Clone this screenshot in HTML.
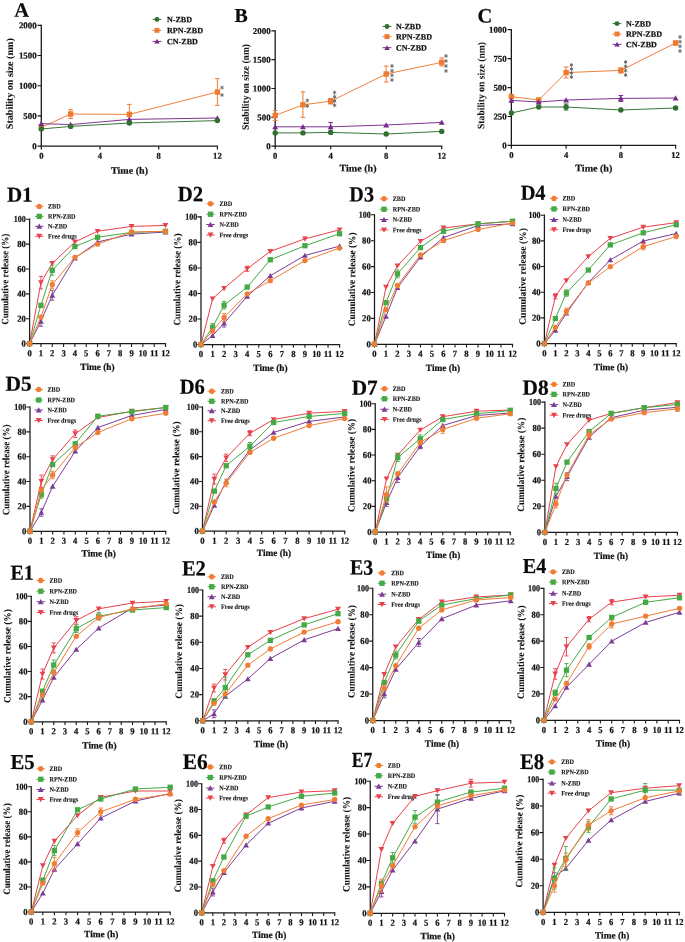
<!DOCTYPE html>
<html><head><meta charset="utf-8"><style>
html,body{margin:0;padding:0;background:#fff;}
body{width:685px;height:942px;overflow:hidden;}
svg{display:block;filter:blur(0.3px);}
text{font-family:"Liberation Serif", serif;font-weight:bold;stroke:#111;stroke-width:0.22px;}
</style></head><body>
<svg width="685" height="942" viewBox="0 0 685 942">
<rect width="685" height="942" fill="#fff"/>
<text transform="translate(14.30,16.80) matrix(1,0.002,0,1,0,0)" font-size="20.46" text-anchor="start" fill="#0a0a0a">A</text>
<path d="M41.30,24.70V146.20H218.00" stroke="#1a1a1a" stroke-width="1.3" fill="none"/>
<text transform="translate(36.70,149.30) matrix(1,0.002,0,1,0,0)" font-size="8.9" text-anchor="end" fill="#111" textLength="4.45" lengthAdjust="spacingAndGlyphs">0</text>
<text transform="translate(36.70,119.07) matrix(1,0.002,0,1,0,0)" font-size="8.9" text-anchor="end" fill="#111" textLength="13.35" lengthAdjust="spacingAndGlyphs">500</text>
<text transform="translate(36.70,88.85) matrix(1,0.002,0,1,0,0)" font-size="8.9" text-anchor="end" fill="#111" textLength="17.80" lengthAdjust="spacingAndGlyphs">1000</text>
<text transform="translate(36.70,58.62) matrix(1,0.002,0,1,0,0)" font-size="8.9" text-anchor="end" fill="#111" textLength="17.80" lengthAdjust="spacingAndGlyphs">1500</text>
<text transform="translate(36.70,28.40) matrix(1,0.002,0,1,0,0)" font-size="8.9" text-anchor="end" fill="#111" textLength="17.80" lengthAdjust="spacingAndGlyphs">2000</text>
<text transform="translate(41.30,158.80) matrix(1,0.002,0,1,0,0)" font-size="8.9" text-anchor="middle" fill="#111" textLength="4.30" lengthAdjust="spacingAndGlyphs">0</text>
<text transform="translate(100.00,158.80) matrix(1,0.002,0,1,0,0)" font-size="8.9" text-anchor="middle" fill="#111" textLength="4.30" lengthAdjust="spacingAndGlyphs">4</text>
<text transform="translate(158.70,158.80) matrix(1,0.002,0,1,0,0)" font-size="8.9" text-anchor="middle" fill="#111" textLength="4.30" lengthAdjust="spacingAndGlyphs">8</text>
<text transform="translate(217.40,158.80) matrix(1,0.002,0,1,0,0)" font-size="8.9" text-anchor="middle" fill="#111" textLength="8.60" lengthAdjust="spacingAndGlyphs">12</text>
<path d="M37.50,146.20H41.30M37.50,115.97H41.30M37.50,85.75H41.30M37.50,55.52H41.30M37.50,25.30H41.30M41.30,146.20V149.40M100.00,146.20V149.40M158.70,146.20V149.40M217.40,146.20V149.40" stroke="#1a1a1a" stroke-width="1.2" fill="none"/>
<text transform="translate(129.50,173.80) matrix(1,0.002,0,1,0,0)" font-size="9.8" text-anchor="middle" fill="#111" textLength="37.00" lengthAdjust="spacingAndGlyphs">Time (h)</text>
<text x="0" y="0" transform="translate(12.87,83.70) rotate(-90) matrix(1,0.002,0,1,0,0)" font-size="9.9" text-anchor="middle" fill="#111" style="stroke-width:0.06px" textLength="91.00" lengthAdjust="spacingAndGlyphs">Stability on size (nm)</text>
<path d="M152.60,19.40H161.40" stroke="#2F6F2F" stroke-width="1.0"/>
<circle cx="157.00" cy="19.40" r="2.45" fill="#2F6F2F"/>
<text transform="translate(167.00,22.20) matrix(1,0.002,0,1,0,0)" font-size="8.1" text-anchor="start" fill="#111" textLength="25.00" lengthAdjust="spacingAndGlyphs">N-ZBD</text>
<path d="M152.60,30.40H161.40" stroke="#F07A30" stroke-width="1.0"/>
<rect x="154.55" y="27.95" width="4.90" height="4.90" fill="#F07A30"/>
<text transform="translate(167.00,33.20) matrix(1,0.002,0,1,0,0)" font-size="8.1" text-anchor="start" fill="#111" textLength="36.00" lengthAdjust="spacingAndGlyphs">RPN-ZBD</text>
<path d="M152.60,41.40H161.40" stroke="#762C8A" stroke-width="1.0"/>
<path d="M157.00,38.83 L159.69,43.60 L154.31,43.60Z" fill="#762C8A"/>
<text transform="translate(167.00,44.20) matrix(1,0.002,0,1,0,0)" font-size="8.1" text-anchor="start" fill="#111" textLength="30.80" lengthAdjust="spacingAndGlyphs">CN-ZBD</text>
<polyline points="41.30,127.40 70.65,114.00 129.35,114.40 217.40,92.00" stroke="#F07A30" stroke-width="0.95" fill="none"/>
<path d="M70.65,109.60V118.40M68.35,109.60H72.95M68.35,118.40H72.95" stroke="#F07A30" stroke-width="1.0" fill="none"/>
<path d="M129.35,104.40V124.40M127.05,104.40H131.65M127.05,124.40H131.65" stroke="#F07A30" stroke-width="1.0" fill="none"/>
<path d="M217.40,78.60V105.40M215.10,78.60H219.70M215.10,105.40H219.70" stroke="#F07A30" stroke-width="1.0" fill="none"/>
<rect x="38.60" y="124.70" width="5.40" height="5.40" fill="#F07A30"/>
<rect x="67.95" y="111.30" width="5.40" height="5.40" fill="#F07A30"/>
<rect x="126.65" y="111.70" width="5.40" height="5.40" fill="#F07A30"/>
<rect x="214.70" y="89.30" width="5.40" height="5.40" fill="#F07A30"/>
<polyline points="41.30,123.60 70.65,124.60 129.35,119.40 217.40,118.00" stroke="#762C8A" stroke-width="0.95" fill="none"/>
<path d="M41.30,120.77 L44.27,126.03 L38.33,126.03Z" fill="#762C8A"/>
<path d="M70.65,121.77 L73.62,127.03 L67.68,127.03Z" fill="#762C8A"/>
<path d="M129.35,116.57 L132.32,121.83 L126.38,121.83Z" fill="#762C8A"/>
<path d="M217.40,115.17 L220.37,120.43 L214.43,120.43Z" fill="#762C8A"/>
<polyline points="41.30,129.00 70.65,126.40 129.35,123.00 217.40,120.60" stroke="#2F6F2F" stroke-width="0.95" fill="none"/>
<circle cx="41.30" cy="129.00" r="2.70" fill="#2F6F2F"/>
<circle cx="70.65" cy="126.40" r="2.70" fill="#2F6F2F"/>
<circle cx="129.35" cy="123.00" r="2.70" fill="#2F6F2F"/>
<circle cx="217.40" cy="120.60" r="2.70" fill="#2F6F2F"/>
<path d="M222.00,85.70L222.00,89.50M220.35,86.65L223.65,88.55M220.35,88.55L223.65,86.65" stroke="#666" stroke-width="0.95" fill="none"/>
<path d="M222.00,93.10L222.00,96.90M220.35,94.05L223.65,95.95M220.35,95.95L223.65,94.05" stroke="#666" stroke-width="0.95" fill="none"/>
<text transform="translate(234.50,22.00) matrix(1,0.002,0,1,0,0)" font-size="19.85" text-anchor="start" fill="#0a0a0a">B</text>
<path d="M275.20,30.30V146.10H442.30" stroke="#1a1a1a" stroke-width="1.3" fill="none"/>
<text transform="translate(270.60,149.20) matrix(1,0.002,0,1,0,0)" font-size="8.9" text-anchor="end" fill="#111" textLength="4.45" lengthAdjust="spacingAndGlyphs">0</text>
<text transform="translate(270.60,120.40) matrix(1,0.002,0,1,0,0)" font-size="8.9" text-anchor="end" fill="#111" textLength="13.35" lengthAdjust="spacingAndGlyphs">500</text>
<text transform="translate(270.60,91.60) matrix(1,0.002,0,1,0,0)" font-size="8.9" text-anchor="end" fill="#111" textLength="17.80" lengthAdjust="spacingAndGlyphs">1000</text>
<text transform="translate(270.60,62.80) matrix(1,0.002,0,1,0,0)" font-size="8.9" text-anchor="end" fill="#111" textLength="17.80" lengthAdjust="spacingAndGlyphs">1500</text>
<text transform="translate(270.60,34.00) matrix(1,0.002,0,1,0,0)" font-size="8.9" text-anchor="end" fill="#111" textLength="17.80" lengthAdjust="spacingAndGlyphs">2000</text>
<text transform="translate(275.20,158.70) matrix(1,0.002,0,1,0,0)" font-size="8.9" text-anchor="middle" fill="#111" textLength="4.30" lengthAdjust="spacingAndGlyphs">0</text>
<text transform="translate(330.70,158.70) matrix(1,0.002,0,1,0,0)" font-size="8.9" text-anchor="middle" fill="#111" textLength="4.30" lengthAdjust="spacingAndGlyphs">4</text>
<text transform="translate(386.20,158.70) matrix(1,0.002,0,1,0,0)" font-size="8.9" text-anchor="middle" fill="#111" textLength="4.30" lengthAdjust="spacingAndGlyphs">8</text>
<text transform="translate(441.70,158.70) matrix(1,0.002,0,1,0,0)" font-size="8.9" text-anchor="middle" fill="#111" textLength="8.60" lengthAdjust="spacingAndGlyphs">12</text>
<path d="M271.40,146.10H275.20M271.40,117.30H275.20M271.40,88.50H275.20M271.40,59.70H275.20M271.40,30.90H275.20M275.20,146.10V149.30M330.70,146.10V149.30M386.20,146.10V149.30M441.70,146.10V149.30" stroke="#1a1a1a" stroke-width="1.2" fill="none"/>
<text transform="translate(358.00,171.40) matrix(1,0.002,0,1,0,0)" font-size="9.8" text-anchor="middle" fill="#111" textLength="37.00" lengthAdjust="spacingAndGlyphs">Time (h)</text>
<text x="0" y="0" transform="translate(248.77,87.00) rotate(-90) matrix(1,0.002,0,1,0,0)" font-size="9.9" text-anchor="middle" fill="#111" style="stroke-width:0.06px" textLength="86.00" lengthAdjust="spacingAndGlyphs">Stability on size (nm)</text>
<path d="M382.60,26.45H391.40" stroke="#2F6F2F" stroke-width="1.0"/>
<circle cx="387.00" cy="26.45" r="2.45" fill="#2F6F2F"/>
<text transform="translate(396.00,29.25) matrix(1,0.002,0,1,0,0)" font-size="8.1" text-anchor="start" fill="#111" textLength="25.00" lengthAdjust="spacingAndGlyphs">N-ZBD</text>
<path d="M382.60,36.60H391.40" stroke="#F07A30" stroke-width="1.0"/>
<rect x="384.55" y="34.15" width="4.90" height="4.90" fill="#F07A30"/>
<text transform="translate(396.00,39.40) matrix(1,0.002,0,1,0,0)" font-size="8.1" text-anchor="start" fill="#111" textLength="36.00" lengthAdjust="spacingAndGlyphs">RPN-ZBD</text>
<path d="M382.60,47.70H391.40" stroke="#762C8A" stroke-width="1.0"/>
<path d="M387.00,45.13 L389.69,49.91 L384.31,49.91Z" fill="#762C8A"/>
<text transform="translate(396.00,50.50) matrix(1,0.002,0,1,0,0)" font-size="8.1" text-anchor="start" fill="#111" textLength="30.80" lengthAdjust="spacingAndGlyphs">CN-ZBD</text>
<polyline points="275.20,115.50 302.95,104.80 330.70,101.20 386.20,74.00 441.70,62.40" stroke="#F07A30" stroke-width="0.95" fill="none"/>
<path d="M275.20,110.50V120.50M272.90,110.50H277.50M272.90,120.50H277.50" stroke="#F07A30" stroke-width="1.0" fill="none"/>
<path d="M302.95,91.80V117.40M300.65,91.80H305.25M300.65,117.40H305.25" stroke="#F07A30" stroke-width="1.0" fill="none"/>
<path d="M330.70,98.50V104.00M328.40,98.50H333.00M328.40,104.00H333.00" stroke="#F07A30" stroke-width="1.0" fill="none"/>
<path d="M386.20,66.00V82.00M383.90,66.00H388.50M383.90,82.00H388.50" stroke="#F07A30" stroke-width="1.0" fill="none"/>
<path d="M441.70,58.00V66.00M439.40,58.00H444.00M439.40,66.00H444.00" stroke="#F07A30" stroke-width="1.0" fill="none"/>
<rect x="272.50" y="112.80" width="5.40" height="5.40" fill="#F07A30"/>
<rect x="300.25" y="102.10" width="5.40" height="5.40" fill="#F07A30"/>
<rect x="328.00" y="98.50" width="5.40" height="5.40" fill="#F07A30"/>
<rect x="383.50" y="71.30" width="5.40" height="5.40" fill="#F07A30"/>
<rect x="439.00" y="59.70" width="5.40" height="5.40" fill="#F07A30"/>
<polyline points="275.20,126.80 302.95,126.80 330.70,126.80 386.20,125.00 441.70,122.40" stroke="#762C8A" stroke-width="0.95" fill="none"/>
<path d="M330.70,122.50V131.00M328.40,122.50H333.00M328.40,131.00H333.00" stroke="#762C8A" stroke-width="1.0" fill="none"/>
<path d="M275.20,123.97 L278.17,129.23 L272.23,129.23Z" fill="#762C8A"/>
<path d="M302.95,123.97 L305.92,129.23 L299.98,129.23Z" fill="#762C8A"/>
<path d="M330.70,123.97 L333.67,129.23 L327.73,129.23Z" fill="#762C8A"/>
<path d="M386.20,122.17 L389.17,127.43 L383.23,127.43Z" fill="#762C8A"/>
<path d="M441.70,119.57 L444.67,124.83 L438.73,124.83Z" fill="#762C8A"/>
<polyline points="275.20,132.90 302.95,132.90 330.70,132.40 386.20,134.00 441.70,131.40" stroke="#2F6F2F" stroke-width="0.95" fill="none"/>
<circle cx="275.20" cy="132.90" r="2.70" fill="#2F6F2F"/>
<circle cx="302.95" cy="132.90" r="2.70" fill="#2F6F2F"/>
<circle cx="330.70" cy="132.40" r="2.70" fill="#2F6F2F"/>
<circle cx="386.20" cy="134.00" r="2.70" fill="#2F6F2F"/>
<circle cx="441.70" cy="131.40" r="2.70" fill="#2F6F2F"/>
<path d="M307.30,98.60L307.30,102.40M305.65,99.55L308.95,101.45M305.65,101.45L308.95,99.55" stroke="#666" stroke-width="0.95" fill="none"/>
<path d="M307.30,104.10L307.30,107.90M305.65,105.05L308.95,106.95M305.65,106.95L308.95,105.05" stroke="#666" stroke-width="0.95" fill="none"/>
<path d="M334.60,90.60L334.60,94.40M332.95,91.55L336.25,93.45M332.95,93.45L336.25,91.55" stroke="#666" stroke-width="0.95" fill="none"/>
<path d="M334.60,94.87L334.60,98.67M332.95,95.82L336.25,97.72M332.95,97.72L336.25,95.82" stroke="#666" stroke-width="0.95" fill="none"/>
<path d="M334.60,99.13L334.60,102.93M332.95,100.08L336.25,101.98M332.95,101.98L336.25,100.08" stroke="#666" stroke-width="0.95" fill="none"/>
<path d="M334.60,103.40L334.60,107.20M332.95,104.35L336.25,106.25M332.95,106.25L336.25,104.35" stroke="#666" stroke-width="0.95" fill="none"/>
<path d="M392.00,64.10L392.00,67.90M390.35,65.05L393.65,66.95M390.35,66.95L393.65,65.05" stroke="#666" stroke-width="0.95" fill="none"/>
<path d="M392.00,68.77L392.00,72.57M390.35,69.72L393.65,71.62M390.35,71.62L393.65,69.72" stroke="#666" stroke-width="0.95" fill="none"/>
<path d="M392.00,73.43L392.00,77.23M390.35,74.38L393.65,76.28M390.35,76.28L393.65,74.38" stroke="#666" stroke-width="0.95" fill="none"/>
<path d="M392.00,78.10L392.00,81.90M390.35,79.05L393.65,80.95M390.35,80.95L393.65,79.05" stroke="#666" stroke-width="0.95" fill="none"/>
<path d="M446.00,54.10L446.00,57.90M444.35,55.05L447.65,56.95M444.35,56.95L447.65,55.05" stroke="#666" stroke-width="0.95" fill="none"/>
<path d="M446.00,59.10L446.00,62.90M444.35,60.05L447.65,61.95M444.35,61.95L447.65,60.05" stroke="#666" stroke-width="0.95" fill="none"/>
<path d="M446.00,64.10L446.00,67.90M444.35,65.05L447.65,66.95M444.35,66.95L447.65,65.05" stroke="#666" stroke-width="0.95" fill="none"/>
<path d="M446.00,69.10L446.00,72.90M444.35,70.05L447.65,71.95M444.35,71.95L447.65,70.05" stroke="#666" stroke-width="0.95" fill="none"/>
<text transform="translate(477.50,22.40) matrix(1,0.002,0,1,0,0)" font-size="20.46" text-anchor="start" fill="#0a0a0a">C</text>
<path d="M511.35,29.10V145.45H676.20" stroke="#1a1a1a" stroke-width="1.3" fill="none"/>
<text transform="translate(506.75,148.55) matrix(1,0.002,0,1,0,0)" font-size="8.9" text-anchor="end" fill="#111" textLength="4.45" lengthAdjust="spacingAndGlyphs">0</text>
<text transform="translate(506.75,119.61) matrix(1,0.002,0,1,0,0)" font-size="8.9" text-anchor="end" fill="#111" textLength="13.35" lengthAdjust="spacingAndGlyphs">250</text>
<text transform="translate(506.75,90.67) matrix(1,0.002,0,1,0,0)" font-size="8.9" text-anchor="end" fill="#111" textLength="13.35" lengthAdjust="spacingAndGlyphs">500</text>
<text transform="translate(506.75,61.74) matrix(1,0.002,0,1,0,0)" font-size="8.9" text-anchor="end" fill="#111" textLength="13.35" lengthAdjust="spacingAndGlyphs">750</text>
<text transform="translate(506.75,32.80) matrix(1,0.002,0,1,0,0)" font-size="8.9" text-anchor="end" fill="#111" textLength="17.80" lengthAdjust="spacingAndGlyphs">1000</text>
<text transform="translate(511.35,158.05) matrix(1,0.002,0,1,0,0)" font-size="8.9" text-anchor="middle" fill="#111" textLength="4.30" lengthAdjust="spacingAndGlyphs">0</text>
<text transform="translate(566.10,158.05) matrix(1,0.002,0,1,0,0)" font-size="8.9" text-anchor="middle" fill="#111" textLength="4.30" lengthAdjust="spacingAndGlyphs">4</text>
<text transform="translate(620.85,158.05) matrix(1,0.002,0,1,0,0)" font-size="8.9" text-anchor="middle" fill="#111" textLength="4.30" lengthAdjust="spacingAndGlyphs">8</text>
<text transform="translate(675.60,158.05) matrix(1,0.002,0,1,0,0)" font-size="8.9" text-anchor="middle" fill="#111" textLength="8.60" lengthAdjust="spacingAndGlyphs">12</text>
<path d="M507.55,145.45H511.35M507.55,116.51H511.35M507.55,87.57H511.35M507.55,58.64H511.35M507.55,29.70H511.35M511.35,145.45V148.65M566.10,145.45V148.65M620.85,145.45V148.65M675.60,145.45V148.65" stroke="#1a1a1a" stroke-width="1.2" fill="none"/>
<text transform="translate(593.80,171.40) matrix(1,0.002,0,1,0,0)" font-size="9.8" text-anchor="middle" fill="#111" textLength="37.00" lengthAdjust="spacingAndGlyphs">Time (h)</text>
<text x="0" y="0" transform="translate(484.37,85.50) rotate(-90) matrix(1,0.002,0,1,0,0)" font-size="9.9" text-anchor="middle" fill="#111" style="stroke-width:0.06px" textLength="87.00" lengthAdjust="spacingAndGlyphs">Stability on size (nm)</text>
<path d="M612.60,23.60H621.40" stroke="#2F6F2F" stroke-width="1.0"/>
<circle cx="617.00" cy="23.60" r="2.45" fill="#2F6F2F"/>
<text transform="translate(626.00,26.40) matrix(1,0.002,0,1,0,0)" font-size="8.1" text-anchor="start" fill="#111" textLength="25.00" lengthAdjust="spacingAndGlyphs">N-ZBD</text>
<path d="M612.60,34.00H621.40" stroke="#F07A30" stroke-width="1.0"/>
<rect x="614.55" y="31.55" width="4.90" height="4.90" fill="#F07A30"/>
<text transform="translate(626.00,36.80) matrix(1,0.002,0,1,0,0)" font-size="8.1" text-anchor="start" fill="#111" textLength="36.00" lengthAdjust="spacingAndGlyphs">RPN-ZBD</text>
<path d="M612.60,44.40H621.40" stroke="#762C8A" stroke-width="1.0"/>
<path d="M617.00,41.83 L619.70,46.60 L614.30,46.60Z" fill="#762C8A"/>
<text transform="translate(626.00,47.20) matrix(1,0.002,0,1,0,0)" font-size="8.1" text-anchor="start" fill="#111" textLength="30.80" lengthAdjust="spacingAndGlyphs">CN-ZBD</text>
<polyline points="511.35,96.60 538.73,100.00 566.10,72.60 620.85,70.40 675.60,43.00" stroke="#F07A30" stroke-width="0.95" fill="none"/>
<path d="M566.10,67.00V78.00M563.80,67.00H568.40M563.80,78.00H568.40" stroke="#F07A30" stroke-width="1.0" fill="none"/>
<path d="M620.85,68.00V73.00M618.55,68.00H623.15M618.55,73.00H623.15" stroke="#F07A30" stroke-width="1.0" fill="none"/>
<path d="M675.60,41.00V45.00M673.30,41.00H677.90M673.30,45.00H677.90" stroke="#F07A30" stroke-width="1.0" fill="none"/>
<rect x="508.65" y="93.90" width="5.40" height="5.40" fill="#F07A30"/>
<rect x="536.02" y="97.30" width="5.40" height="5.40" fill="#F07A30"/>
<rect x="563.40" y="69.90" width="5.40" height="5.40" fill="#F07A30"/>
<rect x="618.15" y="67.70" width="5.40" height="5.40" fill="#F07A30"/>
<rect x="672.90" y="40.30" width="5.40" height="5.40" fill="#F07A30"/>
<polyline points="511.35,100.40 538.73,102.00 566.10,100.00 620.85,98.40 675.60,98.00" stroke="#762C8A" stroke-width="0.95" fill="none"/>
<path d="M620.85,95.50V101.50M618.55,95.50H623.15M618.55,101.50H623.15" stroke="#762C8A" stroke-width="1.0" fill="none"/>
<path d="M511.35,97.57 L514.32,102.83 L508.38,102.83Z" fill="#762C8A"/>
<path d="M538.73,99.17 L541.70,104.43 L535.75,104.43Z" fill="#762C8A"/>
<path d="M566.10,97.17 L569.07,102.43 L563.13,102.43Z" fill="#762C8A"/>
<path d="M620.85,95.57 L623.82,100.83 L617.88,100.83Z" fill="#762C8A"/>
<path d="M675.60,95.17 L678.57,100.43 L672.63,100.43Z" fill="#762C8A"/>
<polyline points="511.35,113.00 538.73,107.00 566.10,107.00 620.85,110.00 675.60,108.00" stroke="#2F6F2F" stroke-width="0.95" fill="none"/>
<path d="M566.10,104.00V110.00M563.80,104.00H568.40M563.80,110.00H568.40" stroke="#2F6F2F" stroke-width="1.0" fill="none"/>
<circle cx="511.35" cy="113.00" r="2.70" fill="#2F6F2F"/>
<circle cx="538.73" cy="107.00" r="2.70" fill="#2F6F2F"/>
<circle cx="566.10" cy="107.00" r="2.70" fill="#2F6F2F"/>
<circle cx="620.85" cy="110.00" r="2.70" fill="#2F6F2F"/>
<circle cx="675.60" cy="108.00" r="2.70" fill="#2F6F2F"/>
<path d="M571.40,63.10L571.40,66.90M569.75,64.05L573.05,65.95M569.75,65.95L573.05,64.05" stroke="#666" stroke-width="0.95" fill="none"/>
<path d="M571.40,67.10L571.40,70.90M569.75,68.05L573.05,69.95M569.75,69.95L573.05,68.05" stroke="#666" stroke-width="0.95" fill="none"/>
<path d="M571.40,71.10L571.40,74.90M569.75,72.05L573.05,73.95M569.75,73.95L573.05,72.05" stroke="#666" stroke-width="0.95" fill="none"/>
<path d="M571.40,75.10L571.40,78.90M569.75,76.05L573.05,77.95M569.75,77.95L573.05,76.05" stroke="#666" stroke-width="0.95" fill="none"/>
<path d="M625.60,60.10L625.60,63.90M623.95,61.05L627.25,62.95M623.95,62.95L627.25,61.05" stroke="#666" stroke-width="0.95" fill="none"/>
<path d="M625.60,64.43L625.60,68.23M623.95,65.38L627.25,67.28M623.95,67.28L627.25,65.38" stroke="#666" stroke-width="0.95" fill="none"/>
<path d="M625.60,68.77L625.60,72.57M623.95,69.72L627.25,71.62M623.95,71.62L627.25,69.72" stroke="#666" stroke-width="0.95" fill="none"/>
<path d="M625.60,73.10L625.60,76.90M623.95,74.05L627.25,75.95M623.95,75.95L627.25,74.05" stroke="#666" stroke-width="0.95" fill="none"/>
<path d="M680.00,35.10L680.00,38.90M678.35,36.05L681.65,37.95M678.35,37.95L681.65,36.05" stroke="#666" stroke-width="0.95" fill="none"/>
<path d="M680.00,39.77L680.00,43.57M678.35,40.72L681.65,42.62M678.35,42.62L681.65,40.72" stroke="#666" stroke-width="0.95" fill="none"/>
<path d="M680.00,44.43L680.00,48.23M678.35,45.38L681.65,47.28M678.35,47.28L681.65,45.38" stroke="#666" stroke-width="0.95" fill="none"/>
<path d="M680.00,49.10L680.00,52.90M678.35,50.05L681.65,51.95M678.35,51.95L681.65,50.05" stroke="#666" stroke-width="0.95" fill="none"/>
<text transform="translate(6.89,201.80) matrix(1,0.002,0,1,0,0)" font-size="21.37" text-anchor="start" fill="#0a0a0a" textLength="25.66" lengthAdjust="spacingAndGlyphs">D1</text>
<path d="M29.60,218.60V343.70H166.10" stroke="#1a1a1a" stroke-width="1.25" fill="none"/>
<text transform="translate(25.80,346.60) matrix(1,0.002,0,1,0,0)" font-size="9.2" text-anchor="end" fill="#111" textLength="4.30" lengthAdjust="spacingAndGlyphs">0</text>
<text transform="translate(25.80,321.70) matrix(1,0.002,0,1,0,0)" font-size="9.2" text-anchor="end" fill="#111" textLength="8.60" lengthAdjust="spacingAndGlyphs">20</text>
<text transform="translate(25.80,296.80) matrix(1,0.002,0,1,0,0)" font-size="9.2" text-anchor="end" fill="#111" textLength="8.60" lengthAdjust="spacingAndGlyphs">40</text>
<text transform="translate(25.80,271.90) matrix(1,0.002,0,1,0,0)" font-size="9.2" text-anchor="end" fill="#111" textLength="8.60" lengthAdjust="spacingAndGlyphs">60</text>
<text transform="translate(25.80,247.00) matrix(1,0.002,0,1,0,0)" font-size="9.2" text-anchor="end" fill="#111" textLength="8.60" lengthAdjust="spacingAndGlyphs">80</text>
<text transform="translate(25.80,222.10) matrix(1,0.002,0,1,0,0)" font-size="9.2" text-anchor="end" fill="#111" textLength="12.00" lengthAdjust="spacingAndGlyphs">100</text>
<text transform="translate(29.60,356.30) matrix(1,0.002,0,1,0,0)" font-size="9.2" text-anchor="middle" fill="#111" textLength="4.30" lengthAdjust="spacingAndGlyphs">0</text>
<text transform="translate(40.93,356.30) matrix(1,0.002,0,1,0,0)" font-size="9.2" text-anchor="middle" fill="#111" textLength="4.30" lengthAdjust="spacingAndGlyphs">1</text>
<text transform="translate(52.25,356.30) matrix(1,0.002,0,1,0,0)" font-size="9.2" text-anchor="middle" fill="#111" textLength="4.30" lengthAdjust="spacingAndGlyphs">2</text>
<text transform="translate(63.58,356.30) matrix(1,0.002,0,1,0,0)" font-size="9.2" text-anchor="middle" fill="#111" textLength="4.30" lengthAdjust="spacingAndGlyphs">3</text>
<text transform="translate(74.90,356.30) matrix(1,0.002,0,1,0,0)" font-size="9.2" text-anchor="middle" fill="#111" textLength="4.30" lengthAdjust="spacingAndGlyphs">4</text>
<text transform="translate(86.23,356.30) matrix(1,0.002,0,1,0,0)" font-size="9.2" text-anchor="middle" fill="#111" textLength="4.30" lengthAdjust="spacingAndGlyphs">5</text>
<text transform="translate(97.55,356.30) matrix(1,0.002,0,1,0,0)" font-size="9.2" text-anchor="middle" fill="#111" textLength="4.30" lengthAdjust="spacingAndGlyphs">6</text>
<text transform="translate(108.88,356.30) matrix(1,0.002,0,1,0,0)" font-size="9.2" text-anchor="middle" fill="#111" textLength="4.30" lengthAdjust="spacingAndGlyphs">7</text>
<text transform="translate(120.20,356.30) matrix(1,0.002,0,1,0,0)" font-size="9.2" text-anchor="middle" fill="#111" textLength="4.30" lengthAdjust="spacingAndGlyphs">8</text>
<text transform="translate(131.53,356.30) matrix(1,0.002,0,1,0,0)" font-size="9.2" text-anchor="middle" fill="#111" textLength="4.30" lengthAdjust="spacingAndGlyphs">9</text>
<text transform="translate(142.85,356.30) matrix(1,0.002,0,1,0,0)" font-size="9.2" text-anchor="middle" fill="#111" textLength="8.60" lengthAdjust="spacingAndGlyphs">10</text>
<text transform="translate(154.18,356.30) matrix(1,0.002,0,1,0,0)" font-size="9.2" text-anchor="middle" fill="#111" textLength="8.60" lengthAdjust="spacingAndGlyphs">11</text>
<text transform="translate(165.50,356.30) matrix(1,0.002,0,1,0,0)" font-size="9.2" text-anchor="middle" fill="#111" textLength="8.60" lengthAdjust="spacingAndGlyphs">12</text>
<path d="M26.00,343.70H29.60M26.00,318.80H29.60M26.00,293.90H29.60M26.00,269.00H29.60M26.00,244.10H29.60M26.00,219.20H29.60M29.60,343.70V346.90M40.93,343.70V346.90M52.25,343.70V346.90M63.58,343.70V346.90M74.90,343.70V346.90M86.23,343.70V346.90M97.55,343.70V346.90M108.88,343.70V346.90M120.20,343.70V346.90M131.53,343.70V346.90M142.85,343.70V346.90M154.18,343.70V346.90M165.50,343.70V346.90" stroke="#1a1a1a" stroke-width="1.1" fill="none"/>
<text transform="translate(97.50,370.10) matrix(1,0.002,0,1,0,0)" font-size="9.6" text-anchor="middle" fill="#111" textLength="34.30" lengthAdjust="spacingAndGlyphs">Time (h)</text>
<text x="0" y="0" transform="translate(8.23,279.30) rotate(-90) matrix(1,0.002,0,1,0,0)" font-size="9.8" text-anchor="middle" fill="#111" style="stroke-width:0.06px" textLength="91.00" lengthAdjust="spacingAndGlyphs">Cumulative release (%)</text>
<path d="M35.10,206.40H43.50" stroke="#F07D35" stroke-width="1"/>
<circle cx="39.30" cy="206.40" r="2.65" fill="#F07D35"/>
<text transform="translate(48.00,208.60) matrix(1,0.002,0,1,0,0)" font-size="6.9" text-anchor="start" fill="#111" textLength="12.70" lengthAdjust="spacingAndGlyphs" style="stroke-width:0.1px">ZBD</text>
<path d="M35.10,216.40H43.50" stroke="#45AA45" stroke-width="1"/>
<rect x="36.65" y="213.75" width="5.30" height="5.30" fill="#45AA45"/>
<text transform="translate(48.00,218.60) matrix(1,0.002,0,1,0,0)" font-size="6.9" text-anchor="start" fill="#111" textLength="27.50" lengthAdjust="spacingAndGlyphs" style="stroke-width:0.1px">RPN-ZBD</text>
<path d="M35.10,226.30H43.50" stroke="#7D3D95" stroke-width="1"/>
<path d="M39.30,223.52 L42.21,228.69 L36.38,228.69Z" fill="#7D3D95"/>
<text transform="translate(48.00,228.50) matrix(1,0.002,0,1,0,0)" font-size="6.9" text-anchor="start" fill="#111" textLength="19.30" lengthAdjust="spacingAndGlyphs" style="stroke-width:0.1px">N-ZBD</text>
<path d="M35.10,236.20H43.50" stroke="#E8424C" stroke-width="1"/>
<path d="M39.30,238.98 L42.21,233.81 L36.38,233.81Z" fill="#E8424C"/>
<text transform="translate(48.00,238.40) matrix(1,0.002,0,1,0,0)" font-size="6.9" text-anchor="start" fill="#111" textLength="28.80" lengthAdjust="spacingAndGlyphs" style="stroke-width:0.1px">Free drugs</text>
<polyline points="29.60,343.70 40.93,282.69 52.25,263.27 74.90,241.98 97.55,231.28 131.53,226.42 165.50,225.42" stroke="#E8424C" stroke-width="1" fill="none"/>
<path d="M40.93,288.92V276.47M38.83,288.92H43.03M38.83,276.47H43.03" stroke="#E8424C" stroke-width="0.9" fill="none"/>
<path d="M29.60,346.48 L32.52,341.31 L26.69,341.31Z" fill="#E8424C"/>
<path d="M40.93,285.48 L43.84,280.31 L38.01,280.31Z" fill="#E8424C"/>
<path d="M52.25,266.06 L55.16,260.89 L49.34,260.89Z" fill="#E8424C"/>
<path d="M74.90,244.77 L77.82,239.60 L71.98,239.60Z" fill="#E8424C"/>
<path d="M97.55,234.06 L100.47,228.89 L94.64,228.89Z" fill="#E8424C"/>
<path d="M131.53,229.20 L134.44,224.04 L128.61,224.04Z" fill="#E8424C"/>
<path d="M165.50,228.21 L168.41,223.04 L162.59,223.04Z" fill="#E8424C"/>
<polyline points="29.60,343.70 40.93,321.29 52.25,295.27 74.90,258.04 97.55,241.98 131.53,234.14 165.50,232.02" stroke="#7D3D95" stroke-width="1" fill="none"/>
<path d="M40.93,326.27V316.31M38.83,326.27H43.03M38.83,316.31H43.03" stroke="#7D3D95" stroke-width="0.9" fill="none"/>
<path d="M52.25,300.25V290.29M50.15,300.25H54.35M50.15,290.29H54.35" stroke="#7D3D95" stroke-width="0.9" fill="none"/>
<path d="M29.60,340.92 L32.52,346.08 L26.69,346.08Z" fill="#7D3D95"/>
<path d="M40.93,318.51 L43.84,323.67 L38.01,323.67Z" fill="#7D3D95"/>
<path d="M52.25,292.49 L55.16,297.65 L49.34,297.65Z" fill="#7D3D95"/>
<path d="M74.90,255.26 L77.82,260.43 L71.98,260.43Z" fill="#7D3D95"/>
<path d="M97.55,239.20 L100.47,244.37 L94.64,244.37Z" fill="#7D3D95"/>
<path d="M131.53,231.36 L134.44,236.52 L128.61,236.52Z" fill="#7D3D95"/>
<path d="M165.50,229.24 L168.41,234.41 L162.59,234.41Z" fill="#7D3D95"/>
<polyline points="29.60,343.70 40.93,305.35 52.25,270.25 74.90,246.59 97.55,237.25 131.53,232.40 165.50,231.28" stroke="#45AA45" stroke-width="1" fill="none"/>
<path d="M52.25,275.22V265.26M50.15,275.22H54.35M50.15,265.26H54.35" stroke="#45AA45" stroke-width="0.9" fill="none"/>
<rect x="26.95" y="341.05" width="5.30" height="5.30" fill="#45AA45"/>
<rect x="38.28" y="302.70" width="5.30" height="5.30" fill="#45AA45"/>
<rect x="49.60" y="267.60" width="5.30" height="5.30" fill="#45AA45"/>
<rect x="72.25" y="243.94" width="5.30" height="5.30" fill="#45AA45"/>
<rect x="94.90" y="234.60" width="5.30" height="5.30" fill="#45AA45"/>
<rect x="128.88" y="229.75" width="5.30" height="5.30" fill="#45AA45"/>
<rect x="162.85" y="228.63" width="5.30" height="5.30" fill="#45AA45"/>
<polyline points="29.60,343.70 40.93,317.06 52.25,284.56 74.90,257.30 97.55,244.10 131.53,232.02 165.50,231.28" stroke="#F07D35" stroke-width="1" fill="none"/>
<path d="M52.25,288.30V280.83M50.15,288.30H54.35M50.15,280.83H54.35" stroke="#F07D35" stroke-width="0.9" fill="none"/>
<circle cx="29.60" cy="343.70" r="2.65" fill="#F07D35"/>
<circle cx="40.93" cy="317.06" r="2.65" fill="#F07D35"/>
<circle cx="52.25" cy="284.56" r="2.65" fill="#F07D35"/>
<circle cx="74.90" cy="257.30" r="2.65" fill="#F07D35"/>
<circle cx="97.55" cy="244.10" r="2.65" fill="#F07D35"/>
<circle cx="131.53" cy="232.02" r="2.65" fill="#F07D35"/>
<circle cx="165.50" cy="231.28" r="2.65" fill="#F07D35"/>
<text transform="translate(177.63,201.20) matrix(1,0.002,0,1,0,0)" font-size="21.83" text-anchor="start" fill="#0a0a0a" textLength="25.46" lengthAdjust="spacingAndGlyphs">D2</text>
<path d="M201.00,216.30V344.50H340.20" stroke="#1a1a1a" stroke-width="1.25" fill="none"/>
<text transform="translate(197.20,347.40) matrix(1,0.002,0,1,0,0)" font-size="9.2" text-anchor="end" fill="#111" textLength="4.30" lengthAdjust="spacingAndGlyphs">0</text>
<text transform="translate(197.20,321.88) matrix(1,0.002,0,1,0,0)" font-size="9.2" text-anchor="end" fill="#111" textLength="8.60" lengthAdjust="spacingAndGlyphs">20</text>
<text transform="translate(197.20,296.36) matrix(1,0.002,0,1,0,0)" font-size="9.2" text-anchor="end" fill="#111" textLength="8.60" lengthAdjust="spacingAndGlyphs">40</text>
<text transform="translate(197.20,270.84) matrix(1,0.002,0,1,0,0)" font-size="9.2" text-anchor="end" fill="#111" textLength="8.60" lengthAdjust="spacingAndGlyphs">60</text>
<text transform="translate(197.20,245.32) matrix(1,0.002,0,1,0,0)" font-size="9.2" text-anchor="end" fill="#111" textLength="8.60" lengthAdjust="spacingAndGlyphs">80</text>
<text transform="translate(197.20,219.80) matrix(1,0.002,0,1,0,0)" font-size="9.2" text-anchor="end" fill="#111" textLength="12.00" lengthAdjust="spacingAndGlyphs">100</text>
<text transform="translate(201.00,357.10) matrix(1,0.002,0,1,0,0)" font-size="9.2" text-anchor="middle" fill="#111" textLength="4.30" lengthAdjust="spacingAndGlyphs">0</text>
<text transform="translate(212.55,357.10) matrix(1,0.002,0,1,0,0)" font-size="9.2" text-anchor="middle" fill="#111" textLength="4.30" lengthAdjust="spacingAndGlyphs">1</text>
<text transform="translate(224.10,357.10) matrix(1,0.002,0,1,0,0)" font-size="9.2" text-anchor="middle" fill="#111" textLength="4.30" lengthAdjust="spacingAndGlyphs">2</text>
<text transform="translate(235.65,357.10) matrix(1,0.002,0,1,0,0)" font-size="9.2" text-anchor="middle" fill="#111" textLength="4.30" lengthAdjust="spacingAndGlyphs">3</text>
<text transform="translate(247.20,357.10) matrix(1,0.002,0,1,0,0)" font-size="9.2" text-anchor="middle" fill="#111" textLength="4.30" lengthAdjust="spacingAndGlyphs">4</text>
<text transform="translate(258.75,357.10) matrix(1,0.002,0,1,0,0)" font-size="9.2" text-anchor="middle" fill="#111" textLength="4.30" lengthAdjust="spacingAndGlyphs">5</text>
<text transform="translate(270.30,357.10) matrix(1,0.002,0,1,0,0)" font-size="9.2" text-anchor="middle" fill="#111" textLength="4.30" lengthAdjust="spacingAndGlyphs">6</text>
<text transform="translate(281.85,357.10) matrix(1,0.002,0,1,0,0)" font-size="9.2" text-anchor="middle" fill="#111" textLength="4.30" lengthAdjust="spacingAndGlyphs">7</text>
<text transform="translate(293.40,357.10) matrix(1,0.002,0,1,0,0)" font-size="9.2" text-anchor="middle" fill="#111" textLength="4.30" lengthAdjust="spacingAndGlyphs">8</text>
<text transform="translate(304.95,357.10) matrix(1,0.002,0,1,0,0)" font-size="9.2" text-anchor="middle" fill="#111" textLength="4.30" lengthAdjust="spacingAndGlyphs">9</text>
<text transform="translate(316.50,357.10) matrix(1,0.002,0,1,0,0)" font-size="9.2" text-anchor="middle" fill="#111" textLength="8.60" lengthAdjust="spacingAndGlyphs">10</text>
<text transform="translate(328.05,357.10) matrix(1,0.002,0,1,0,0)" font-size="9.2" text-anchor="middle" fill="#111" textLength="8.60" lengthAdjust="spacingAndGlyphs">11</text>
<text transform="translate(339.60,357.10) matrix(1,0.002,0,1,0,0)" font-size="9.2" text-anchor="middle" fill="#111" textLength="8.60" lengthAdjust="spacingAndGlyphs">12</text>
<path d="M197.40,344.50H201.00M197.40,318.98H201.00M197.40,293.46H201.00M197.40,267.94H201.00M197.40,242.42H201.00M197.40,216.90H201.00M201.00,344.50V347.70M212.55,344.50V347.70M224.10,344.50V347.70M235.65,344.50V347.70M247.20,344.50V347.70M258.75,344.50V347.70M270.30,344.50V347.70M281.85,344.50V347.70M293.40,344.50V347.70M304.95,344.50V347.70M316.50,344.50V347.70M328.05,344.50V347.70M339.60,344.50V347.70" stroke="#1a1a1a" stroke-width="1.1" fill="none"/>
<text transform="translate(270.50,371.10) matrix(1,0.002,0,1,0,0)" font-size="9.6" text-anchor="middle" fill="#111" textLength="34.30" lengthAdjust="spacingAndGlyphs">Time (h)</text>
<text x="0" y="0" transform="translate(180.33,279.50) rotate(-90) matrix(1,0.002,0,1,0,0)" font-size="9.8" text-anchor="middle" fill="#111" style="stroke-width:0.06px" textLength="92.00" lengthAdjust="spacingAndGlyphs">Cumulative release (%)</text>
<path d="M206.30,203.75H214.70" stroke="#F07D35" stroke-width="1"/>
<circle cx="210.50" cy="203.75" r="2.65" fill="#F07D35"/>
<text transform="translate(219.50,205.95) matrix(1,0.002,0,1,0,0)" font-size="6.9" text-anchor="start" fill="#111" textLength="12.70" lengthAdjust="spacingAndGlyphs" style="stroke-width:0.1px">ZBD</text>
<path d="M206.30,214.25H214.70" stroke="#45AA45" stroke-width="1"/>
<rect x="207.85" y="211.60" width="5.30" height="5.30" fill="#45AA45"/>
<text transform="translate(219.50,216.45) matrix(1,0.002,0,1,0,0)" font-size="6.9" text-anchor="start" fill="#111" textLength="27.50" lengthAdjust="spacingAndGlyphs" style="stroke-width:0.1px">RPN-ZBD</text>
<path d="M206.30,224.50H214.70" stroke="#7D3D95" stroke-width="1"/>
<path d="M210.50,221.72 L213.41,226.88 L207.59,226.88Z" fill="#7D3D95"/>
<text transform="translate(219.50,226.70) matrix(1,0.002,0,1,0,0)" font-size="6.9" text-anchor="start" fill="#111" textLength="19.30" lengthAdjust="spacingAndGlyphs" style="stroke-width:0.1px">N-ZBD</text>
<path d="M206.30,235.00H214.70" stroke="#E8424C" stroke-width="1"/>
<path d="M210.50,237.78 L213.41,232.62 L207.59,232.62Z" fill="#E8424C"/>
<text transform="translate(219.50,237.20) matrix(1,0.002,0,1,0,0)" font-size="6.9" text-anchor="start" fill="#111" textLength="28.80" lengthAdjust="spacingAndGlyphs" style="stroke-width:0.1px">Free drugs</text>
<polyline points="201.00,344.50 212.55,298.82 224.10,288.36 247.20,268.83 270.30,251.35 304.95,238.85 339.60,229.79" stroke="#E8424C" stroke-width="1" fill="none"/>
<path d="M247.20,271.39V266.28M245.10,271.39H249.30M245.10,266.28H249.30" stroke="#E8424C" stroke-width="0.9" fill="none"/>
<path d="M201.00,347.28 L203.91,342.12 L198.09,342.12Z" fill="#E8424C"/>
<path d="M212.55,301.60 L215.47,296.43 L209.64,296.43Z" fill="#E8424C"/>
<path d="M224.10,291.14 L227.01,285.97 L221.19,285.97Z" fill="#E8424C"/>
<path d="M247.20,271.62 L250.12,266.45 L244.29,266.45Z" fill="#E8424C"/>
<path d="M270.30,254.13 L273.22,248.97 L267.38,248.97Z" fill="#E8424C"/>
<path d="M304.95,241.63 L307.87,236.46 L302.04,236.46Z" fill="#E8424C"/>
<path d="M339.60,232.57 L342.52,227.40 L336.69,227.40Z" fill="#E8424C"/>
<polyline points="201.00,344.50 212.55,335.70 224.10,323.19 247.20,296.27 270.30,275.72 304.95,255.44 339.60,246.12" stroke="#7D3D95" stroke-width="1" fill="none"/>
<path d="M224.10,327.02V319.36M222.00,327.02H226.20M222.00,319.36H226.20" stroke="#7D3D95" stroke-width="0.9" fill="none"/>
<path d="M201.00,341.72 L203.91,346.88 L198.09,346.88Z" fill="#7D3D95"/>
<path d="M212.55,332.91 L215.47,338.08 L209.64,338.08Z" fill="#7D3D95"/>
<path d="M224.10,320.41 L227.01,325.58 L221.19,325.58Z" fill="#7D3D95"/>
<path d="M247.20,293.48 L250.12,298.65 L244.29,298.65Z" fill="#7D3D95"/>
<path d="M270.30,272.94 L273.22,278.11 L267.38,278.11Z" fill="#7D3D95"/>
<path d="M304.95,252.65 L307.87,257.82 L302.04,257.82Z" fill="#7D3D95"/>
<path d="M339.60,243.34 L342.52,248.51 L336.69,248.51Z" fill="#7D3D95"/>
<polyline points="201.00,344.50 212.55,327.27 224.10,305.20 247.20,287.08 270.30,259.77 304.95,245.74 339.60,233.74" stroke="#45AA45" stroke-width="1" fill="none"/>
<path d="M212.55,331.10V323.45M210.45,331.10H214.65M210.45,323.45H214.65" stroke="#45AA45" stroke-width="0.9" fill="none"/>
<path d="M224.10,309.03V301.37M222.00,309.03H226.20M222.00,301.37H226.20" stroke="#45AA45" stroke-width="0.9" fill="none"/>
<rect x="198.35" y="341.85" width="5.30" height="5.30" fill="#45AA45"/>
<rect x="209.90" y="324.62" width="5.30" height="5.30" fill="#45AA45"/>
<rect x="221.45" y="302.55" width="5.30" height="5.30" fill="#45AA45"/>
<rect x="244.55" y="284.43" width="5.30" height="5.30" fill="#45AA45"/>
<rect x="267.65" y="257.12" width="5.30" height="5.30" fill="#45AA45"/>
<rect x="302.30" y="243.09" width="5.30" height="5.30" fill="#45AA45"/>
<rect x="336.95" y="231.09" width="5.30" height="5.30" fill="#45AA45"/>
<polyline points="201.00,344.50 212.55,330.97 224.10,317.45 247.20,293.84 270.30,280.70 304.95,260.54 339.60,248.03" stroke="#F07D35" stroke-width="1" fill="none"/>
<path d="M224.10,321.28V313.62M222.00,321.28H226.20M222.00,313.62H226.20" stroke="#F07D35" stroke-width="0.9" fill="none"/>
<circle cx="201.00" cy="344.50" r="2.65" fill="#F07D35"/>
<circle cx="212.55" cy="330.97" r="2.65" fill="#F07D35"/>
<circle cx="224.10" cy="317.45" r="2.65" fill="#F07D35"/>
<circle cx="247.20" cy="293.84" r="2.65" fill="#F07D35"/>
<circle cx="270.30" cy="280.70" r="2.65" fill="#F07D35"/>
<circle cx="304.95" cy="260.54" r="2.65" fill="#F07D35"/>
<circle cx="339.60" cy="248.03" r="2.65" fill="#F07D35"/>
<text transform="translate(349.35,201.50) matrix(1,0.002,0,1,0,0)" font-size="21.83" text-anchor="start" fill="#0a0a0a" textLength="24.64" lengthAdjust="spacingAndGlyphs">D3</text>
<path d="M374.50,214.20V344.25H513.10" stroke="#1a1a1a" stroke-width="1.25" fill="none"/>
<text transform="translate(370.70,347.15) matrix(1,0.002,0,1,0,0)" font-size="9.2" text-anchor="end" fill="#111" textLength="4.30" lengthAdjust="spacingAndGlyphs">0</text>
<text transform="translate(370.70,321.26) matrix(1,0.002,0,1,0,0)" font-size="9.2" text-anchor="end" fill="#111" textLength="8.60" lengthAdjust="spacingAndGlyphs">20</text>
<text transform="translate(370.70,295.37) matrix(1,0.002,0,1,0,0)" font-size="9.2" text-anchor="end" fill="#111" textLength="8.60" lengthAdjust="spacingAndGlyphs">40</text>
<text transform="translate(370.70,269.48) matrix(1,0.002,0,1,0,0)" font-size="9.2" text-anchor="end" fill="#111" textLength="8.60" lengthAdjust="spacingAndGlyphs">60</text>
<text transform="translate(370.70,243.59) matrix(1,0.002,0,1,0,0)" font-size="9.2" text-anchor="end" fill="#111" textLength="8.60" lengthAdjust="spacingAndGlyphs">80</text>
<text transform="translate(370.70,217.70) matrix(1,0.002,0,1,0,0)" font-size="9.2" text-anchor="end" fill="#111" textLength="12.00" lengthAdjust="spacingAndGlyphs">100</text>
<text transform="translate(374.50,356.85) matrix(1,0.002,0,1,0,0)" font-size="9.2" text-anchor="middle" fill="#111" textLength="4.30" lengthAdjust="spacingAndGlyphs">0</text>
<text transform="translate(386.00,356.85) matrix(1,0.002,0,1,0,0)" font-size="9.2" text-anchor="middle" fill="#111" textLength="4.30" lengthAdjust="spacingAndGlyphs">1</text>
<text transform="translate(397.50,356.85) matrix(1,0.002,0,1,0,0)" font-size="9.2" text-anchor="middle" fill="#111" textLength="4.30" lengthAdjust="spacingAndGlyphs">2</text>
<text transform="translate(409.00,356.85) matrix(1,0.002,0,1,0,0)" font-size="9.2" text-anchor="middle" fill="#111" textLength="4.30" lengthAdjust="spacingAndGlyphs">3</text>
<text transform="translate(420.50,356.85) matrix(1,0.002,0,1,0,0)" font-size="9.2" text-anchor="middle" fill="#111" textLength="4.30" lengthAdjust="spacingAndGlyphs">4</text>
<text transform="translate(432.00,356.85) matrix(1,0.002,0,1,0,0)" font-size="9.2" text-anchor="middle" fill="#111" textLength="4.30" lengthAdjust="spacingAndGlyphs">5</text>
<text transform="translate(443.50,356.85) matrix(1,0.002,0,1,0,0)" font-size="9.2" text-anchor="middle" fill="#111" textLength="4.30" lengthAdjust="spacingAndGlyphs">6</text>
<text transform="translate(455.00,356.85) matrix(1,0.002,0,1,0,0)" font-size="9.2" text-anchor="middle" fill="#111" textLength="4.30" lengthAdjust="spacingAndGlyphs">7</text>
<text transform="translate(466.50,356.85) matrix(1,0.002,0,1,0,0)" font-size="9.2" text-anchor="middle" fill="#111" textLength="4.30" lengthAdjust="spacingAndGlyphs">8</text>
<text transform="translate(478.00,356.85) matrix(1,0.002,0,1,0,0)" font-size="9.2" text-anchor="middle" fill="#111" textLength="4.30" lengthAdjust="spacingAndGlyphs">9</text>
<text transform="translate(489.50,356.85) matrix(1,0.002,0,1,0,0)" font-size="9.2" text-anchor="middle" fill="#111" textLength="8.60" lengthAdjust="spacingAndGlyphs">10</text>
<text transform="translate(501.00,356.85) matrix(1,0.002,0,1,0,0)" font-size="9.2" text-anchor="middle" fill="#111" textLength="8.60" lengthAdjust="spacingAndGlyphs">11</text>
<text transform="translate(512.50,356.85) matrix(1,0.002,0,1,0,0)" font-size="9.2" text-anchor="middle" fill="#111" textLength="8.60" lengthAdjust="spacingAndGlyphs">12</text>
<path d="M370.90,344.25H374.50M370.90,318.36H374.50M370.90,292.47H374.50M370.90,266.58H374.50M370.90,240.69H374.50M370.90,214.80H374.50M374.50,344.25V347.45M386.00,344.25V347.45M397.50,344.25V347.45M409.00,344.25V347.45M420.50,344.25V347.45M432.00,344.25V347.45M443.50,344.25V347.45M455.00,344.25V347.45M466.50,344.25V347.45M478.00,344.25V347.45M489.50,344.25V347.45M501.00,344.25V347.45M512.50,344.25V347.45" stroke="#1a1a1a" stroke-width="1.1" fill="none"/>
<text transform="translate(443.00,371.10) matrix(1,0.002,0,1,0,0)" font-size="9.6" text-anchor="middle" fill="#111" textLength="34.30" lengthAdjust="spacingAndGlyphs">Time (h)</text>
<text x="0" y="0" transform="translate(355.13,279.37) rotate(-90) matrix(1,0.002,0,1,0,0)" font-size="9.8" text-anchor="middle" fill="#111" style="stroke-width:0.06px" textLength="93.70" lengthAdjust="spacingAndGlyphs">Cumulative release (%)</text>
<path d="M379.80,198.75H388.20" stroke="#F07D35" stroke-width="1"/>
<circle cx="384.00" cy="198.75" r="2.65" fill="#F07D35"/>
<text transform="translate(392.75,200.95) matrix(1,0.002,0,1,0,0)" font-size="6.9" text-anchor="start" fill="#111" textLength="12.70" lengthAdjust="spacingAndGlyphs" style="stroke-width:0.1px">ZBD</text>
<path d="M379.80,209.25H388.20" stroke="#45AA45" stroke-width="1"/>
<rect x="381.35" y="206.60" width="5.30" height="5.30" fill="#45AA45"/>
<text transform="translate(392.75,211.45) matrix(1,0.002,0,1,0,0)" font-size="6.9" text-anchor="start" fill="#111" textLength="27.50" lengthAdjust="spacingAndGlyphs" style="stroke-width:0.1px">RPN-ZBD</text>
<path d="M379.80,219.50H388.20" stroke="#7D3D95" stroke-width="1"/>
<path d="M384.00,216.72 L386.92,221.88 L381.08,221.88Z" fill="#7D3D95"/>
<text transform="translate(392.75,221.70) matrix(1,0.002,0,1,0,0)" font-size="6.9" text-anchor="start" fill="#111" textLength="19.30" lengthAdjust="spacingAndGlyphs" style="stroke-width:0.1px">N-ZBD</text>
<path d="M379.80,230.00H388.20" stroke="#E8424C" stroke-width="1"/>
<path d="M384.00,232.78 L386.92,227.62 L381.08,227.62Z" fill="#E8424C"/>
<text transform="translate(392.75,232.20) matrix(1,0.002,0,1,0,0)" font-size="6.9" text-anchor="start" fill="#111" textLength="28.80" lengthAdjust="spacingAndGlyphs" style="stroke-width:0.1px">Free drugs</text>
<polyline points="374.50,344.25 386.00,287.03 397.50,265.80 420.50,241.34 443.50,228.00 478.00,223.86 512.50,221.27" stroke="#E8424C" stroke-width="1" fill="none"/>
<path d="M374.50,347.03 L377.42,341.87 L371.58,341.87Z" fill="#E8424C"/>
<path d="M386.00,289.82 L388.92,284.65 L383.08,284.65Z" fill="#E8424C"/>
<path d="M397.50,268.59 L400.42,263.42 L394.58,263.42Z" fill="#E8424C"/>
<path d="M420.50,244.12 L423.42,238.95 L417.58,238.95Z" fill="#E8424C"/>
<path d="M443.50,230.79 L446.42,225.62 L440.58,225.62Z" fill="#E8424C"/>
<path d="M478.00,226.64 L480.92,221.48 L475.08,221.48Z" fill="#E8424C"/>
<path d="M512.50,224.06 L515.41,218.89 L509.58,218.89Z" fill="#E8424C"/>
<polyline points="374.50,344.25 386.00,316.29 397.50,287.55 420.50,257.00 443.50,237.58 478.00,225.54 512.50,223.86" stroke="#7D3D95" stroke-width="1" fill="none"/>
<path d="M374.50,341.47 L377.42,346.63 L371.58,346.63Z" fill="#7D3D95"/>
<path d="M386.00,313.51 L388.92,318.67 L383.08,318.67Z" fill="#7D3D95"/>
<path d="M397.50,284.77 L400.42,289.94 L394.58,289.94Z" fill="#7D3D95"/>
<path d="M420.50,254.22 L423.42,259.39 L417.58,259.39Z" fill="#7D3D95"/>
<path d="M443.50,234.80 L446.42,239.97 L440.58,239.97Z" fill="#7D3D95"/>
<path d="M478.00,222.76 L480.92,227.93 L475.08,227.93Z" fill="#7D3D95"/>
<path d="M512.50,221.08 L515.41,226.25 L509.58,226.25Z" fill="#7D3D95"/>
<polyline points="374.50,344.25 386.00,302.57 397.50,273.83 420.50,247.55 443.50,231.24 478.00,223.86 512.50,221.27" stroke="#45AA45" stroke-width="1" fill="none"/>
<path d="M397.50,277.71V269.95M395.40,277.71H399.60M395.40,269.95H399.60" stroke="#45AA45" stroke-width="0.9" fill="none"/>
<rect x="371.85" y="341.60" width="5.30" height="5.30" fill="#45AA45"/>
<rect x="383.35" y="299.92" width="5.30" height="5.30" fill="#45AA45"/>
<rect x="394.85" y="271.18" width="5.30" height="5.30" fill="#45AA45"/>
<rect x="417.85" y="244.90" width="5.30" height="5.30" fill="#45AA45"/>
<rect x="440.85" y="228.59" width="5.30" height="5.30" fill="#45AA45"/>
<rect x="475.35" y="221.21" width="5.30" height="5.30" fill="#45AA45"/>
<rect x="509.85" y="218.62" width="5.30" height="5.30" fill="#45AA45"/>
<polyline points="374.50,344.25 386.00,309.56 397.50,285.48 420.50,254.93 443.50,240.69 478.00,229.56 512.50,223.08" stroke="#F07D35" stroke-width="1" fill="none"/>
<circle cx="374.50" cy="344.25" r="2.65" fill="#F07D35"/>
<circle cx="386.00" cy="309.56" r="2.65" fill="#F07D35"/>
<circle cx="397.50" cy="285.48" r="2.65" fill="#F07D35"/>
<circle cx="420.50" cy="254.93" r="2.65" fill="#F07D35"/>
<circle cx="443.50" cy="240.69" r="2.65" fill="#F07D35"/>
<circle cx="478.00" cy="229.56" r="2.65" fill="#F07D35"/>
<circle cx="512.50" cy="223.08" r="2.65" fill="#F07D35"/>
<text transform="translate(520.64,199.80) matrix(1,0.002,0,1,0,0)" font-size="21.37" text-anchor="start" fill="#0a0a0a" textLength="24.94" lengthAdjust="spacingAndGlyphs">D4</text>
<path d="M544.40,214.60V343.60H676.80" stroke="#1a1a1a" stroke-width="1.25" fill="none"/>
<text transform="translate(540.60,346.50) matrix(1,0.002,0,1,0,0)" font-size="9.2" text-anchor="end" fill="#111" textLength="4.30" lengthAdjust="spacingAndGlyphs">0</text>
<text transform="translate(540.60,320.82) matrix(1,0.002,0,1,0,0)" font-size="9.2" text-anchor="end" fill="#111" textLength="8.60" lengthAdjust="spacingAndGlyphs">20</text>
<text transform="translate(540.60,295.14) matrix(1,0.002,0,1,0,0)" font-size="9.2" text-anchor="end" fill="#111" textLength="8.60" lengthAdjust="spacingAndGlyphs">40</text>
<text transform="translate(540.60,269.46) matrix(1,0.002,0,1,0,0)" font-size="9.2" text-anchor="end" fill="#111" textLength="8.60" lengthAdjust="spacingAndGlyphs">60</text>
<text transform="translate(540.60,243.78) matrix(1,0.002,0,1,0,0)" font-size="9.2" text-anchor="end" fill="#111" textLength="8.60" lengthAdjust="spacingAndGlyphs">80</text>
<text transform="translate(540.60,218.10) matrix(1,0.002,0,1,0,0)" font-size="9.2" text-anchor="end" fill="#111" textLength="12.00" lengthAdjust="spacingAndGlyphs">100</text>
<text transform="translate(544.40,356.20) matrix(1,0.002,0,1,0,0)" font-size="9.2" text-anchor="middle" fill="#111" textLength="4.30" lengthAdjust="spacingAndGlyphs">0</text>
<text transform="translate(555.38,356.20) matrix(1,0.002,0,1,0,0)" font-size="9.2" text-anchor="middle" fill="#111" textLength="4.30" lengthAdjust="spacingAndGlyphs">1</text>
<text transform="translate(566.37,356.20) matrix(1,0.002,0,1,0,0)" font-size="9.2" text-anchor="middle" fill="#111" textLength="4.30" lengthAdjust="spacingAndGlyphs">2</text>
<text transform="translate(577.35,356.20) matrix(1,0.002,0,1,0,0)" font-size="9.2" text-anchor="middle" fill="#111" textLength="4.30" lengthAdjust="spacingAndGlyphs">3</text>
<text transform="translate(588.33,356.20) matrix(1,0.002,0,1,0,0)" font-size="9.2" text-anchor="middle" fill="#111" textLength="4.30" lengthAdjust="spacingAndGlyphs">4</text>
<text transform="translate(599.32,356.20) matrix(1,0.002,0,1,0,0)" font-size="9.2" text-anchor="middle" fill="#111" textLength="4.30" lengthAdjust="spacingAndGlyphs">5</text>
<text transform="translate(610.30,356.20) matrix(1,0.002,0,1,0,0)" font-size="9.2" text-anchor="middle" fill="#111" textLength="4.30" lengthAdjust="spacingAndGlyphs">6</text>
<text transform="translate(621.28,356.20) matrix(1,0.002,0,1,0,0)" font-size="9.2" text-anchor="middle" fill="#111" textLength="4.30" lengthAdjust="spacingAndGlyphs">7</text>
<text transform="translate(632.27,356.20) matrix(1,0.002,0,1,0,0)" font-size="9.2" text-anchor="middle" fill="#111" textLength="4.30" lengthAdjust="spacingAndGlyphs">8</text>
<text transform="translate(643.25,356.20) matrix(1,0.002,0,1,0,0)" font-size="9.2" text-anchor="middle" fill="#111" textLength="4.30" lengthAdjust="spacingAndGlyphs">9</text>
<text transform="translate(654.23,356.20) matrix(1,0.002,0,1,0,0)" font-size="9.2" text-anchor="middle" fill="#111" textLength="8.60" lengthAdjust="spacingAndGlyphs">10</text>
<text transform="translate(665.22,356.20) matrix(1,0.002,0,1,0,0)" font-size="9.2" text-anchor="middle" fill="#111" textLength="8.60" lengthAdjust="spacingAndGlyphs">11</text>
<text transform="translate(676.20,356.20) matrix(1,0.002,0,1,0,0)" font-size="9.2" text-anchor="middle" fill="#111" textLength="8.60" lengthAdjust="spacingAndGlyphs">12</text>
<path d="M540.80,343.60H544.40M540.80,317.92H544.40M540.80,292.24H544.40M540.80,266.56H544.40M540.80,240.88H544.40M540.80,215.20H544.40M544.40,343.60V346.80M555.38,343.60V346.80M566.37,343.60V346.80M577.35,343.60V346.80M588.33,343.60V346.80M599.32,343.60V346.80M610.30,343.60V346.80M621.28,343.60V346.80M632.27,343.60V346.80M643.25,343.60V346.80M654.23,343.60V346.80M665.22,343.60V346.80M676.20,343.60V346.80" stroke="#1a1a1a" stroke-width="1.1" fill="none"/>
<text transform="translate(611.00,370.30) matrix(1,0.002,0,1,0,0)" font-size="9.6" text-anchor="middle" fill="#111" textLength="34.30" lengthAdjust="spacingAndGlyphs">Time (h)</text>
<text x="0" y="0" transform="translate(525.83,276.50) rotate(-90) matrix(1,0.002,0,1,0,0)" font-size="9.8" text-anchor="middle" fill="#111" style="stroke-width:0.06px" textLength="96.70" lengthAdjust="spacingAndGlyphs">Cumulative release (%)</text>
<path d="M549.80,198.40H558.20" stroke="#F07D35" stroke-width="1"/>
<circle cx="554.00" cy="198.40" r="2.65" fill="#F07D35"/>
<text transform="translate(562.50,200.60) matrix(1,0.002,0,1,0,0)" font-size="6.9" text-anchor="start" fill="#111" textLength="12.70" lengthAdjust="spacingAndGlyphs" style="stroke-width:0.1px">ZBD</text>
<path d="M549.80,208.90H558.20" stroke="#45AA45" stroke-width="1"/>
<rect x="551.35" y="206.25" width="5.30" height="5.30" fill="#45AA45"/>
<text transform="translate(562.50,211.10) matrix(1,0.002,0,1,0,0)" font-size="6.9" text-anchor="start" fill="#111" textLength="27.50" lengthAdjust="spacingAndGlyphs" style="stroke-width:0.1px">RPN-ZBD</text>
<path d="M549.80,219.50H558.20" stroke="#7D3D95" stroke-width="1"/>
<path d="M554.00,216.72 L556.91,221.88 L551.09,221.88Z" fill="#7D3D95"/>
<text transform="translate(562.50,221.70) matrix(1,0.002,0,1,0,0)" font-size="6.9" text-anchor="start" fill="#111" textLength="19.30" lengthAdjust="spacingAndGlyphs" style="stroke-width:0.1px">N-ZBD</text>
<path d="M549.80,229.75H558.20" stroke="#E8424C" stroke-width="1"/>
<path d="M554.00,232.53 L556.91,227.37 L551.09,227.37Z" fill="#E8424C"/>
<text transform="translate(562.50,231.95) matrix(1,0.002,0,1,0,0)" font-size="6.9" text-anchor="start" fill="#111" textLength="28.80" lengthAdjust="spacingAndGlyphs" style="stroke-width:0.1px">Free drugs</text>
<polyline points="544.40,343.60 555.38,296.35 566.37,280.56 588.33,256.54 610.30,238.31 643.25,227.14 676.20,222.65" stroke="#E8424C" stroke-width="1" fill="none"/>
<path d="M555.38,298.92V293.78M553.28,298.92H557.48M553.28,293.78H557.48" stroke="#E8424C" stroke-width="0.9" fill="none"/>
<path d="M544.40,346.38 L547.31,341.22 L541.49,341.22Z" fill="#E8424C"/>
<path d="M555.38,299.13 L558.30,293.96 L552.47,293.96Z" fill="#E8424C"/>
<path d="M566.37,283.34 L569.28,278.17 L563.45,278.17Z" fill="#E8424C"/>
<path d="M588.33,259.33 L591.25,254.16 L585.42,254.16Z" fill="#E8424C"/>
<path d="M610.30,241.09 L613.21,235.93 L607.38,235.93Z" fill="#E8424C"/>
<path d="M643.25,229.92 L646.16,224.76 L640.34,224.76Z" fill="#E8424C"/>
<path d="M676.20,225.43 L679.12,220.26 L673.29,220.26Z" fill="#E8424C"/>
<polyline points="544.40,343.60 555.38,330.25 566.37,313.17 588.33,282.48 610.30,259.88 643.25,241.01 676.20,233.56" stroke="#7D3D95" stroke-width="1" fill="none"/>
<path d="M544.40,340.82 L547.31,345.99 L541.49,345.99Z" fill="#7D3D95"/>
<path d="M555.38,327.46 L558.30,332.63 L552.47,332.63Z" fill="#7D3D95"/>
<path d="M566.37,310.39 L569.28,315.55 L563.45,315.55Z" fill="#7D3D95"/>
<path d="M588.33,279.70 L591.25,284.87 L585.42,284.87Z" fill="#7D3D95"/>
<path d="M610.30,257.10 L613.21,262.27 L607.38,262.27Z" fill="#7D3D95"/>
<path d="M643.25,238.23 L646.16,243.39 L640.34,243.39Z" fill="#7D3D95"/>
<path d="M676.20,230.78 L679.12,235.95 L673.29,235.95Z" fill="#7D3D95"/>
<polyline points="544.40,343.60 555.38,318.56 566.37,293.01 588.33,270.03 610.30,244.86 643.25,232.79 676.20,224.70" stroke="#45AA45" stroke-width="1" fill="none"/>
<path d="M566.37,296.22V289.80M564.27,296.22H568.47M564.27,289.80H568.47" stroke="#45AA45" stroke-width="0.9" fill="none"/>
<rect x="541.75" y="340.95" width="5.30" height="5.30" fill="#45AA45"/>
<rect x="552.73" y="315.91" width="5.30" height="5.30" fill="#45AA45"/>
<rect x="563.72" y="290.36" width="5.30" height="5.30" fill="#45AA45"/>
<rect x="585.68" y="267.38" width="5.30" height="5.30" fill="#45AA45"/>
<rect x="607.65" y="242.21" width="5.30" height="5.30" fill="#45AA45"/>
<rect x="640.60" y="230.14" width="5.30" height="5.30" fill="#45AA45"/>
<rect x="673.55" y="222.05" width="5.30" height="5.30" fill="#45AA45"/>
<polyline points="544.40,343.60 555.38,327.29 566.37,311.37 588.33,283.00 610.30,266.69 643.25,246.66 676.20,236.51" stroke="#F07D35" stroke-width="1" fill="none"/>
<path d="M566.37,314.58V308.16M564.27,314.58H568.47M564.27,308.16H568.47" stroke="#F07D35" stroke-width="0.9" fill="none"/>
<path d="M643.25,249.87V243.45M641.15,249.87H645.35M641.15,243.45H645.35" stroke="#F07D35" stroke-width="0.9" fill="none"/>
<circle cx="544.40" cy="343.60" r="2.65" fill="#F07D35"/>
<circle cx="555.38" cy="327.29" r="2.65" fill="#F07D35"/>
<circle cx="566.37" cy="311.37" r="2.65" fill="#F07D35"/>
<circle cx="588.33" cy="283.00" r="2.65" fill="#F07D35"/>
<circle cx="610.30" cy="266.69" r="2.65" fill="#F07D35"/>
<circle cx="643.25" cy="246.66" r="2.65" fill="#F07D35"/>
<circle cx="676.20" cy="236.51" r="2.65" fill="#F07D35"/>
<text transform="translate(5.58,390.80) matrix(1,0.002,0,1,0,0)" font-size="21.37" text-anchor="start" fill="#0a0a0a" textLength="26.26" lengthAdjust="spacingAndGlyphs">D5</text>
<path d="M30.00,406.40V531.25H166.35" stroke="#1a1a1a" stroke-width="1.25" fill="none"/>
<text transform="translate(26.20,534.15) matrix(1,0.002,0,1,0,0)" font-size="9.2" text-anchor="end" fill="#111" textLength="4.30" lengthAdjust="spacingAndGlyphs">0</text>
<text transform="translate(26.20,509.30) matrix(1,0.002,0,1,0,0)" font-size="9.2" text-anchor="end" fill="#111" textLength="8.60" lengthAdjust="spacingAndGlyphs">20</text>
<text transform="translate(26.20,484.45) matrix(1,0.002,0,1,0,0)" font-size="9.2" text-anchor="end" fill="#111" textLength="8.60" lengthAdjust="spacingAndGlyphs">40</text>
<text transform="translate(26.20,459.60) matrix(1,0.002,0,1,0,0)" font-size="9.2" text-anchor="end" fill="#111" textLength="8.60" lengthAdjust="spacingAndGlyphs">60</text>
<text transform="translate(26.20,434.75) matrix(1,0.002,0,1,0,0)" font-size="9.2" text-anchor="end" fill="#111" textLength="8.60" lengthAdjust="spacingAndGlyphs">80</text>
<text transform="translate(26.20,409.90) matrix(1,0.002,0,1,0,0)" font-size="9.2" text-anchor="end" fill="#111" textLength="12.00" lengthAdjust="spacingAndGlyphs">100</text>
<text transform="translate(30.00,543.85) matrix(1,0.002,0,1,0,0)" font-size="9.2" text-anchor="middle" fill="#111" textLength="4.30" lengthAdjust="spacingAndGlyphs">0</text>
<text transform="translate(41.31,543.85) matrix(1,0.002,0,1,0,0)" font-size="9.2" text-anchor="middle" fill="#111" textLength="4.30" lengthAdjust="spacingAndGlyphs">1</text>
<text transform="translate(52.62,543.85) matrix(1,0.002,0,1,0,0)" font-size="9.2" text-anchor="middle" fill="#111" textLength="4.30" lengthAdjust="spacingAndGlyphs">2</text>
<text transform="translate(63.94,543.85) matrix(1,0.002,0,1,0,0)" font-size="9.2" text-anchor="middle" fill="#111" textLength="4.30" lengthAdjust="spacingAndGlyphs">3</text>
<text transform="translate(75.25,543.85) matrix(1,0.002,0,1,0,0)" font-size="9.2" text-anchor="middle" fill="#111" textLength="4.30" lengthAdjust="spacingAndGlyphs">4</text>
<text transform="translate(86.56,543.85) matrix(1,0.002,0,1,0,0)" font-size="9.2" text-anchor="middle" fill="#111" textLength="4.30" lengthAdjust="spacingAndGlyphs">5</text>
<text transform="translate(97.88,543.85) matrix(1,0.002,0,1,0,0)" font-size="9.2" text-anchor="middle" fill="#111" textLength="4.30" lengthAdjust="spacingAndGlyphs">6</text>
<text transform="translate(109.19,543.85) matrix(1,0.002,0,1,0,0)" font-size="9.2" text-anchor="middle" fill="#111" textLength="4.30" lengthAdjust="spacingAndGlyphs">7</text>
<text transform="translate(120.50,543.85) matrix(1,0.002,0,1,0,0)" font-size="9.2" text-anchor="middle" fill="#111" textLength="4.30" lengthAdjust="spacingAndGlyphs">8</text>
<text transform="translate(131.81,543.85) matrix(1,0.002,0,1,0,0)" font-size="9.2" text-anchor="middle" fill="#111" textLength="4.30" lengthAdjust="spacingAndGlyphs">9</text>
<text transform="translate(143.12,543.85) matrix(1,0.002,0,1,0,0)" font-size="9.2" text-anchor="middle" fill="#111" textLength="8.60" lengthAdjust="spacingAndGlyphs">10</text>
<text transform="translate(154.44,543.85) matrix(1,0.002,0,1,0,0)" font-size="9.2" text-anchor="middle" fill="#111" textLength="8.60" lengthAdjust="spacingAndGlyphs">11</text>
<text transform="translate(165.75,543.85) matrix(1,0.002,0,1,0,0)" font-size="9.2" text-anchor="middle" fill="#111" textLength="8.60" lengthAdjust="spacingAndGlyphs">12</text>
<path d="M26.40,531.25H30.00M26.40,506.40H30.00M26.40,481.55H30.00M26.40,456.70H30.00M26.40,431.85H30.00M26.40,407.00H30.00M30.00,531.25V534.45M41.31,531.25V534.45M52.62,531.25V534.45M63.94,531.25V534.45M75.25,531.25V534.45M86.56,531.25V534.45M97.88,531.25V534.45M109.19,531.25V534.45M120.50,531.25V534.45M131.81,531.25V534.45M143.12,531.25V534.45M154.44,531.25V534.45M165.75,531.25V534.45" stroke="#1a1a1a" stroke-width="1.1" fill="none"/>
<text transform="translate(98.75,556.60) matrix(1,0.002,0,1,0,0)" font-size="9.6" text-anchor="middle" fill="#111" textLength="34.30" lengthAdjust="spacingAndGlyphs">Time (h)</text>
<text x="0" y="0" transform="translate(9.23,469.93) rotate(-90) matrix(1,0.002,0,1,0,0)" font-size="9.8" text-anchor="middle" fill="#111" style="stroke-width:0.06px" textLength="90.80" lengthAdjust="spacingAndGlyphs">Cumulative release (%)</text>
<path d="M34.55,389.50H42.95" stroke="#F07D35" stroke-width="1"/>
<circle cx="38.75" cy="389.50" r="2.65" fill="#F07D35"/>
<text transform="translate(47.50,391.70) matrix(1,0.002,0,1,0,0)" font-size="6.9" text-anchor="start" fill="#111" textLength="12.70" lengthAdjust="spacingAndGlyphs" style="stroke-width:0.1px">ZBD</text>
<path d="M34.55,400.00H42.95" stroke="#45AA45" stroke-width="1"/>
<rect x="36.10" y="397.35" width="5.30" height="5.30" fill="#45AA45"/>
<text transform="translate(47.50,402.20) matrix(1,0.002,0,1,0,0)" font-size="6.9" text-anchor="start" fill="#111" textLength="27.50" lengthAdjust="spacingAndGlyphs" style="stroke-width:0.1px">RPN-ZBD</text>
<path d="M34.55,410.00H42.95" stroke="#7D3D95" stroke-width="1"/>
<path d="M38.75,407.22 L41.66,412.38 L35.84,412.38Z" fill="#7D3D95"/>
<text transform="translate(47.50,412.20) matrix(1,0.002,0,1,0,0)" font-size="6.9" text-anchor="start" fill="#111" textLength="19.30" lengthAdjust="spacingAndGlyphs" style="stroke-width:0.1px">N-ZBD</text>
<path d="M34.55,420.50H42.95" stroke="#E8424C" stroke-width="1"/>
<path d="M38.75,423.28 L41.66,418.12 L35.84,418.12Z" fill="#E8424C"/>
<text transform="translate(47.50,422.70) matrix(1,0.002,0,1,0,0)" font-size="6.9" text-anchor="start" fill="#111" textLength="28.80" lengthAdjust="spacingAndGlyphs" style="stroke-width:0.1px">Free drugs</text>
<polyline points="30.00,531.25 41.31,481.30 52.62,459.56 75.25,433.71 97.88,417.56 131.81,411.22 165.75,407.50" stroke="#E8424C" stroke-width="1" fill="none"/>
<path d="M41.31,487.51V475.09M39.21,487.51H43.41M39.21,475.09H43.41" stroke="#E8424C" stroke-width="0.9" fill="none"/>
<path d="M52.62,463.29V455.83M50.52,463.29H54.73M50.52,455.83H54.73" stroke="#E8424C" stroke-width="0.9" fill="none"/>
<path d="M75.25,437.44V429.99M73.15,437.44H77.35M73.15,429.99H77.35" stroke="#E8424C" stroke-width="0.9" fill="none"/>
<path d="M30.00,534.03 L32.91,528.87 L27.09,528.87Z" fill="#E8424C"/>
<path d="M41.31,484.08 L44.23,478.92 L38.40,478.92Z" fill="#E8424C"/>
<path d="M52.62,462.34 L55.54,457.17 L49.71,457.17Z" fill="#E8424C"/>
<path d="M75.25,436.50 L78.17,431.33 L72.33,431.33Z" fill="#E8424C"/>
<path d="M97.88,420.34 L100.79,415.18 L94.96,415.18Z" fill="#E8424C"/>
<path d="M131.81,414.01 L134.73,408.84 L128.90,408.84Z" fill="#E8424C"/>
<path d="M165.75,410.28 L168.66,405.11 L162.84,405.11Z" fill="#E8424C"/>
<polyline points="30.00,531.25 41.31,512.49 52.62,486.27 75.25,451.23 97.88,427.50 131.81,415.45 165.75,409.49" stroke="#7D3D95" stroke-width="1" fill="none"/>
<path d="M41.31,516.22V508.76M39.21,516.22H43.41M39.21,508.76H43.41" stroke="#7D3D95" stroke-width="0.9" fill="none"/>
<path d="M30.00,528.47 L32.91,533.63 L27.09,533.63Z" fill="#7D3D95"/>
<path d="M41.31,509.71 L44.23,514.87 L38.40,514.87Z" fill="#7D3D95"/>
<path d="M52.62,483.49 L55.54,488.66 L49.71,488.66Z" fill="#7D3D95"/>
<path d="M75.25,448.45 L78.17,453.62 L72.33,453.62Z" fill="#7D3D95"/>
<path d="M97.88,424.72 L100.79,429.89 L94.96,429.89Z" fill="#7D3D95"/>
<path d="M131.81,412.67 L134.73,417.83 L128.90,417.83Z" fill="#7D3D95"/>
<path d="M165.75,406.70 L168.66,411.87 L162.84,411.87Z" fill="#7D3D95"/>
<polyline points="30.00,531.25 41.31,494.47 52.62,464.53 75.25,443.78 97.88,416.19 131.81,411.72 165.75,407.50" stroke="#45AA45" stroke-width="1" fill="none"/>
<path d="M41.31,498.20V490.74M39.21,498.20H43.41M39.21,490.74H43.41" stroke="#45AA45" stroke-width="0.9" fill="none"/>
<rect x="27.35" y="528.60" width="5.30" height="5.30" fill="#45AA45"/>
<rect x="38.66" y="491.82" width="5.30" height="5.30" fill="#45AA45"/>
<rect x="49.98" y="461.88" width="5.30" height="5.30" fill="#45AA45"/>
<rect x="72.60" y="441.13" width="5.30" height="5.30" fill="#45AA45"/>
<rect x="95.22" y="413.54" width="5.30" height="5.30" fill="#45AA45"/>
<rect x="129.16" y="409.07" width="5.30" height="5.30" fill="#45AA45"/>
<rect x="163.10" y="404.85" width="5.30" height="5.30" fill="#45AA45"/>
<polyline points="30.00,531.25 41.31,490.00 52.62,474.96 75.25,447.51 97.88,432.47 131.81,418.80 165.75,413.21" stroke="#F07D35" stroke-width="1" fill="none"/>
<path d="M52.62,478.69V471.24M50.52,478.69H54.73M50.52,471.24H54.73" stroke="#F07D35" stroke-width="0.9" fill="none"/>
<circle cx="30.00" cy="531.25" r="2.65" fill="#F07D35"/>
<circle cx="41.31" cy="490.00" r="2.65" fill="#F07D35"/>
<circle cx="52.62" cy="474.96" r="2.65" fill="#F07D35"/>
<circle cx="75.25" cy="447.51" r="2.65" fill="#F07D35"/>
<circle cx="97.88" cy="432.47" r="2.65" fill="#F07D35"/>
<circle cx="131.81" cy="418.80" r="2.65" fill="#F07D35"/>
<circle cx="165.75" cy="413.21" r="2.65" fill="#F07D35"/>
<text transform="translate(179.64,393.80) matrix(1,0.002,0,1,0,0)" font-size="21.37" text-anchor="start" fill="#0a0a0a" textLength="25.17" lengthAdjust="spacingAndGlyphs">D6</text>
<path d="M202.50,406.40V531.10H345.30" stroke="#1a1a1a" stroke-width="1.25" fill="none"/>
<text transform="translate(198.70,534.00) matrix(1,0.002,0,1,0,0)" font-size="9.2" text-anchor="end" fill="#111" textLength="4.30" lengthAdjust="spacingAndGlyphs">0</text>
<text transform="translate(198.70,509.18) matrix(1,0.002,0,1,0,0)" font-size="9.2" text-anchor="end" fill="#111" textLength="8.60" lengthAdjust="spacingAndGlyphs">20</text>
<text transform="translate(198.70,484.36) matrix(1,0.002,0,1,0,0)" font-size="9.2" text-anchor="end" fill="#111" textLength="8.60" lengthAdjust="spacingAndGlyphs">40</text>
<text transform="translate(198.70,459.54) matrix(1,0.002,0,1,0,0)" font-size="9.2" text-anchor="end" fill="#111" textLength="8.60" lengthAdjust="spacingAndGlyphs">60</text>
<text transform="translate(198.70,434.72) matrix(1,0.002,0,1,0,0)" font-size="9.2" text-anchor="end" fill="#111" textLength="8.60" lengthAdjust="spacingAndGlyphs">80</text>
<text transform="translate(198.70,409.90) matrix(1,0.002,0,1,0,0)" font-size="9.2" text-anchor="end" fill="#111" textLength="12.00" lengthAdjust="spacingAndGlyphs">100</text>
<text transform="translate(202.50,543.70) matrix(1,0.002,0,1,0,0)" font-size="9.2" text-anchor="middle" fill="#111" textLength="4.30" lengthAdjust="spacingAndGlyphs">0</text>
<text transform="translate(214.35,543.70) matrix(1,0.002,0,1,0,0)" font-size="9.2" text-anchor="middle" fill="#111" textLength="4.30" lengthAdjust="spacingAndGlyphs">1</text>
<text transform="translate(226.20,543.70) matrix(1,0.002,0,1,0,0)" font-size="9.2" text-anchor="middle" fill="#111" textLength="4.30" lengthAdjust="spacingAndGlyphs">2</text>
<text transform="translate(238.05,543.70) matrix(1,0.002,0,1,0,0)" font-size="9.2" text-anchor="middle" fill="#111" textLength="4.30" lengthAdjust="spacingAndGlyphs">3</text>
<text transform="translate(249.90,543.70) matrix(1,0.002,0,1,0,0)" font-size="9.2" text-anchor="middle" fill="#111" textLength="4.30" lengthAdjust="spacingAndGlyphs">4</text>
<text transform="translate(261.75,543.70) matrix(1,0.002,0,1,0,0)" font-size="9.2" text-anchor="middle" fill="#111" textLength="4.30" lengthAdjust="spacingAndGlyphs">5</text>
<text transform="translate(273.60,543.70) matrix(1,0.002,0,1,0,0)" font-size="9.2" text-anchor="middle" fill="#111" textLength="4.30" lengthAdjust="spacingAndGlyphs">6</text>
<text transform="translate(285.45,543.70) matrix(1,0.002,0,1,0,0)" font-size="9.2" text-anchor="middle" fill="#111" textLength="4.30" lengthAdjust="spacingAndGlyphs">7</text>
<text transform="translate(297.30,543.70) matrix(1,0.002,0,1,0,0)" font-size="9.2" text-anchor="middle" fill="#111" textLength="4.30" lengthAdjust="spacingAndGlyphs">8</text>
<text transform="translate(309.15,543.70) matrix(1,0.002,0,1,0,0)" font-size="9.2" text-anchor="middle" fill="#111" textLength="4.30" lengthAdjust="spacingAndGlyphs">9</text>
<text transform="translate(321.00,543.70) matrix(1,0.002,0,1,0,0)" font-size="9.2" text-anchor="middle" fill="#111" textLength="8.60" lengthAdjust="spacingAndGlyphs">10</text>
<text transform="translate(332.85,543.70) matrix(1,0.002,0,1,0,0)" font-size="9.2" text-anchor="middle" fill="#111" textLength="8.60" lengthAdjust="spacingAndGlyphs">11</text>
<text transform="translate(344.70,543.70) matrix(1,0.002,0,1,0,0)" font-size="9.2" text-anchor="middle" fill="#111" textLength="8.60" lengthAdjust="spacingAndGlyphs">12</text>
<path d="M198.90,531.10H202.50M198.90,506.28H202.50M198.90,481.46H202.50M198.90,456.64H202.50M198.90,431.82H202.50M198.90,407.00H202.50M202.50,531.10V534.30M214.35,531.10V534.30M226.20,531.10V534.30M238.05,531.10V534.30M249.90,531.10V534.30M261.75,531.10V534.30M273.60,531.10V534.30M285.45,531.10V534.30M297.30,531.10V534.30M309.15,531.10V534.30M321.00,531.10V534.30M332.85,531.10V534.30M344.70,531.10V534.30" stroke="#1a1a1a" stroke-width="1.1" fill="none"/>
<text transform="translate(274.00,556.10) matrix(1,0.002,0,1,0,0)" font-size="9.6" text-anchor="middle" fill="#111" textLength="34.30" lengthAdjust="spacingAndGlyphs">Time (h)</text>
<text x="0" y="0" transform="translate(179.23,468.00) rotate(-90) matrix(1,0.002,0,1,0,0)" font-size="9.8" text-anchor="middle" fill="#111" style="stroke-width:0.06px" textLength="93.00" lengthAdjust="spacingAndGlyphs">Cumulative release (%)</text>
<path d="M207.55,391.25H215.95" stroke="#F07D35" stroke-width="1"/>
<circle cx="211.75" cy="391.25" r="2.65" fill="#F07D35"/>
<text transform="translate(221.00,393.45) matrix(1,0.002,0,1,0,0)" font-size="6.9" text-anchor="start" fill="#111" textLength="12.70" lengthAdjust="spacingAndGlyphs" style="stroke-width:0.1px">ZBD</text>
<path d="M207.55,401.25H215.95" stroke="#45AA45" stroke-width="1"/>
<rect x="209.10" y="398.60" width="5.30" height="5.30" fill="#45AA45"/>
<text transform="translate(221.00,403.45) matrix(1,0.002,0,1,0,0)" font-size="6.9" text-anchor="start" fill="#111" textLength="27.50" lengthAdjust="spacingAndGlyphs" style="stroke-width:0.1px">RPN-ZBD</text>
<path d="M207.55,410.75H215.95" stroke="#7D3D95" stroke-width="1"/>
<path d="M211.75,407.97 L214.66,413.13 L208.84,413.13Z" fill="#7D3D95"/>
<text transform="translate(221.00,412.95) matrix(1,0.002,0,1,0,0)" font-size="6.9" text-anchor="start" fill="#111" textLength="19.30" lengthAdjust="spacingAndGlyphs" style="stroke-width:0.1px">N-ZBD</text>
<path d="M207.55,420.75H215.95" stroke="#E8424C" stroke-width="1"/>
<path d="M211.75,423.53 L214.66,418.37 L208.84,418.37Z" fill="#E8424C"/>
<text transform="translate(221.00,422.95) matrix(1,0.002,0,1,0,0)" font-size="6.9" text-anchor="start" fill="#111" textLength="28.80" lengthAdjust="spacingAndGlyphs" style="stroke-width:0.1px">Free drugs</text>
<polyline points="202.50,531.10 214.35,479.10 226.20,457.88 249.90,433.19 273.60,419.53 309.15,413.20 344.70,411.34" stroke="#E8424C" stroke-width="1" fill="none"/>
<path d="M214.35,484.07V474.14M212.25,484.07H216.45M212.25,474.14H216.45" stroke="#E8424C" stroke-width="0.9" fill="none"/>
<path d="M226.20,461.60V454.16M224.10,461.60H228.30M224.10,454.16H228.30" stroke="#E8424C" stroke-width="0.9" fill="none"/>
<path d="M249.90,435.67V430.70M247.80,435.67H252.00M247.80,430.70H252.00" stroke="#E8424C" stroke-width="0.9" fill="none"/>
<path d="M202.50,533.88 L205.41,528.72 L199.59,528.72Z" fill="#E8424C"/>
<path d="M214.35,481.88 L217.26,476.72 L211.44,476.72Z" fill="#E8424C"/>
<path d="M226.20,460.66 L229.11,455.50 L223.28,455.50Z" fill="#E8424C"/>
<path d="M249.90,435.97 L252.81,430.80 L246.99,430.80Z" fill="#E8424C"/>
<path d="M273.60,422.32 L276.52,417.15 L270.69,417.15Z" fill="#E8424C"/>
<path d="M309.15,415.99 L312.06,410.82 L306.23,410.82Z" fill="#E8424C"/>
<path d="M344.70,414.13 L347.62,408.96 L341.78,408.96Z" fill="#E8424C"/>
<polyline points="202.50,531.10 214.35,505.41 226.20,481.21 249.90,449.94 273.60,432.44 309.15,421.40 344.70,416.93" stroke="#7D3D95" stroke-width="1" fill="none"/>
<path d="M202.50,528.32 L205.41,533.49 L199.59,533.49Z" fill="#7D3D95"/>
<path d="M214.35,502.63 L217.26,507.80 L211.44,507.80Z" fill="#7D3D95"/>
<path d="M226.20,478.43 L229.11,483.60 L223.28,483.60Z" fill="#7D3D95"/>
<path d="M249.90,447.16 L252.81,452.32 L246.99,452.32Z" fill="#7D3D95"/>
<path d="M273.60,429.66 L276.52,434.83 L270.69,434.83Z" fill="#7D3D95"/>
<path d="M309.15,418.61 L312.06,423.78 L306.23,423.78Z" fill="#7D3D95"/>
<path d="M344.70,414.15 L347.62,419.31 L341.78,419.31Z" fill="#7D3D95"/>
<polyline points="202.50,531.10 214.35,491.14 226.20,465.70 249.90,446.22 273.60,422.51 309.15,416.43 344.70,413.45" stroke="#45AA45" stroke-width="1" fill="none"/>
<path d="M249.90,449.94V442.49M247.80,449.94H252.00M247.80,442.49H252.00" stroke="#45AA45" stroke-width="0.9" fill="none"/>
<rect x="199.85" y="528.45" width="5.30" height="5.30" fill="#45AA45"/>
<rect x="211.70" y="488.49" width="5.30" height="5.30" fill="#45AA45"/>
<rect x="223.55" y="463.05" width="5.30" height="5.30" fill="#45AA45"/>
<rect x="247.25" y="443.57" width="5.30" height="5.30" fill="#45AA45"/>
<rect x="270.95" y="419.86" width="5.30" height="5.30" fill="#45AA45"/>
<rect x="306.50" y="413.78" width="5.30" height="5.30" fill="#45AA45"/>
<rect x="342.05" y="410.80" width="5.30" height="5.30" fill="#45AA45"/>
<polyline points="202.50,531.10 214.35,501.94 226.20,482.95 249.90,452.42 273.60,438.27 309.15,425.62 344.70,418.54" stroke="#F07D35" stroke-width="1" fill="none"/>
<path d="M226.20,486.67V479.23M224.10,486.67H228.30M224.10,479.23H228.30" stroke="#F07D35" stroke-width="0.9" fill="none"/>
<circle cx="202.50" cy="531.10" r="2.65" fill="#F07D35"/>
<circle cx="214.35" cy="501.94" r="2.65" fill="#F07D35"/>
<circle cx="226.20" cy="482.95" r="2.65" fill="#F07D35"/>
<circle cx="249.90" cy="452.42" r="2.65" fill="#F07D35"/>
<circle cx="273.60" cy="438.27" r="2.65" fill="#F07D35"/>
<circle cx="309.15" cy="425.62" r="2.65" fill="#F07D35"/>
<circle cx="344.70" cy="418.54" r="2.65" fill="#F07D35"/>
<text transform="translate(351.63,394.80) matrix(1,0.002,0,1,0,0)" font-size="21.37" text-anchor="start" fill="#0a0a0a" textLength="25.99" lengthAdjust="spacingAndGlyphs">D7</text>
<path d="M375.25,403.15V532.00H510.85" stroke="#1a1a1a" stroke-width="1.25" fill="none"/>
<text transform="translate(371.45,534.90) matrix(1,0.002,0,1,0,0)" font-size="9.2" text-anchor="end" fill="#111" textLength="4.30" lengthAdjust="spacingAndGlyphs">0</text>
<text transform="translate(371.45,509.25) matrix(1,0.002,0,1,0,0)" font-size="9.2" text-anchor="end" fill="#111" textLength="8.60" lengthAdjust="spacingAndGlyphs">20</text>
<text transform="translate(371.45,483.60) matrix(1,0.002,0,1,0,0)" font-size="9.2" text-anchor="end" fill="#111" textLength="8.60" lengthAdjust="spacingAndGlyphs">40</text>
<text transform="translate(371.45,457.95) matrix(1,0.002,0,1,0,0)" font-size="9.2" text-anchor="end" fill="#111" textLength="8.60" lengthAdjust="spacingAndGlyphs">60</text>
<text transform="translate(371.45,432.30) matrix(1,0.002,0,1,0,0)" font-size="9.2" text-anchor="end" fill="#111" textLength="8.60" lengthAdjust="spacingAndGlyphs">80</text>
<text transform="translate(371.45,406.65) matrix(1,0.002,0,1,0,0)" font-size="9.2" text-anchor="end" fill="#111" textLength="12.00" lengthAdjust="spacingAndGlyphs">100</text>
<text transform="translate(375.25,544.60) matrix(1,0.002,0,1,0,0)" font-size="9.2" text-anchor="middle" fill="#111" textLength="4.30" lengthAdjust="spacingAndGlyphs">0</text>
<text transform="translate(386.50,544.60) matrix(1,0.002,0,1,0,0)" font-size="9.2" text-anchor="middle" fill="#111" textLength="4.30" lengthAdjust="spacingAndGlyphs">1</text>
<text transform="translate(397.75,544.60) matrix(1,0.002,0,1,0,0)" font-size="9.2" text-anchor="middle" fill="#111" textLength="4.30" lengthAdjust="spacingAndGlyphs">2</text>
<text transform="translate(409.00,544.60) matrix(1,0.002,0,1,0,0)" font-size="9.2" text-anchor="middle" fill="#111" textLength="4.30" lengthAdjust="spacingAndGlyphs">3</text>
<text transform="translate(420.25,544.60) matrix(1,0.002,0,1,0,0)" font-size="9.2" text-anchor="middle" fill="#111" textLength="4.30" lengthAdjust="spacingAndGlyphs">4</text>
<text transform="translate(431.50,544.60) matrix(1,0.002,0,1,0,0)" font-size="9.2" text-anchor="middle" fill="#111" textLength="4.30" lengthAdjust="spacingAndGlyphs">5</text>
<text transform="translate(442.75,544.60) matrix(1,0.002,0,1,0,0)" font-size="9.2" text-anchor="middle" fill="#111" textLength="4.30" lengthAdjust="spacingAndGlyphs">6</text>
<text transform="translate(454.00,544.60) matrix(1,0.002,0,1,0,0)" font-size="9.2" text-anchor="middle" fill="#111" textLength="4.30" lengthAdjust="spacingAndGlyphs">7</text>
<text transform="translate(465.25,544.60) matrix(1,0.002,0,1,0,0)" font-size="9.2" text-anchor="middle" fill="#111" textLength="4.30" lengthAdjust="spacingAndGlyphs">8</text>
<text transform="translate(476.50,544.60) matrix(1,0.002,0,1,0,0)" font-size="9.2" text-anchor="middle" fill="#111" textLength="4.30" lengthAdjust="spacingAndGlyphs">9</text>
<text transform="translate(487.75,544.60) matrix(1,0.002,0,1,0,0)" font-size="9.2" text-anchor="middle" fill="#111" textLength="8.60" lengthAdjust="spacingAndGlyphs">10</text>
<text transform="translate(499.00,544.60) matrix(1,0.002,0,1,0,0)" font-size="9.2" text-anchor="middle" fill="#111" textLength="8.60" lengthAdjust="spacingAndGlyphs">11</text>
<text transform="translate(510.25,544.60) matrix(1,0.002,0,1,0,0)" font-size="9.2" text-anchor="middle" fill="#111" textLength="8.60" lengthAdjust="spacingAndGlyphs">12</text>
<path d="M371.65,532.00H375.25M371.65,506.35H375.25M371.65,480.70H375.25M371.65,455.05H375.25M371.65,429.40H375.25M371.65,403.75H375.25M375.25,532.00V535.20M386.50,532.00V535.20M397.75,532.00V535.20M409.00,532.00V535.20M420.25,532.00V535.20M431.50,532.00V535.20M442.75,532.00V535.20M454.00,532.00V535.20M465.25,532.00V535.20M476.50,532.00V535.20M487.75,532.00V535.20M499.00,532.00V535.20M510.25,532.00V535.20" stroke="#1a1a1a" stroke-width="1.1" fill="none"/>
<text transform="translate(443.25,558.10) matrix(1,0.002,0,1,0,0)" font-size="9.6" text-anchor="middle" fill="#111" textLength="34.30" lengthAdjust="spacingAndGlyphs">Time (h)</text>
<text x="0" y="0" transform="translate(354.48,465.38) rotate(-90) matrix(1,0.002,0,1,0,0)" font-size="9.8" text-anchor="middle" fill="#111" style="stroke-width:0.06px" textLength="93.00" lengthAdjust="spacingAndGlyphs">Cumulative release (%)</text>
<path d="M380.30,388.75H388.70" stroke="#F07D35" stroke-width="1"/>
<circle cx="384.50" cy="388.75" r="2.65" fill="#F07D35"/>
<text transform="translate(392.75,390.95) matrix(1,0.002,0,1,0,0)" font-size="6.9" text-anchor="start" fill="#111" textLength="12.70" lengthAdjust="spacingAndGlyphs" style="stroke-width:0.1px">ZBD</text>
<path d="M380.30,398.75H388.70" stroke="#45AA45" stroke-width="1"/>
<rect x="381.85" y="396.10" width="5.30" height="5.30" fill="#45AA45"/>
<text transform="translate(392.75,400.95) matrix(1,0.002,0,1,0,0)" font-size="6.9" text-anchor="start" fill="#111" textLength="27.50" lengthAdjust="spacingAndGlyphs" style="stroke-width:0.1px">RPN-ZBD</text>
<path d="M380.30,409.25H388.70" stroke="#7D3D95" stroke-width="1"/>
<path d="M384.50,406.47 L387.42,411.63 L381.58,411.63Z" fill="#7D3D95"/>
<text transform="translate(392.75,411.45) matrix(1,0.002,0,1,0,0)" font-size="6.9" text-anchor="start" fill="#111" textLength="19.30" lengthAdjust="spacingAndGlyphs" style="stroke-width:0.1px">N-ZBD</text>
<path d="M380.30,419.50H388.70" stroke="#E8424C" stroke-width="1"/>
<path d="M384.50,422.28 L387.42,417.12 L381.58,417.12Z" fill="#E8424C"/>
<text transform="translate(392.75,421.70) matrix(1,0.002,0,1,0,0)" font-size="6.9" text-anchor="start" fill="#111" textLength="28.80" lengthAdjust="spacingAndGlyphs" style="stroke-width:0.1px">Free drugs</text>
<polyline points="375.25,532.00 386.50,478.78 397.75,455.05 420.25,430.04 442.75,416.70 476.50,411.19 510.25,410.03" stroke="#E8424C" stroke-width="1" fill="none"/>
<path d="M375.25,534.78 L378.17,529.62 L372.33,529.62Z" fill="#E8424C"/>
<path d="M386.50,481.56 L389.42,476.39 L383.58,476.39Z" fill="#E8424C"/>
<path d="M397.75,457.83 L400.67,452.67 L394.83,452.67Z" fill="#E8424C"/>
<path d="M420.25,432.82 L423.17,427.66 L417.33,427.66Z" fill="#E8424C"/>
<path d="M442.75,419.49 L445.67,414.32 L439.83,414.32Z" fill="#E8424C"/>
<path d="M476.50,413.97 L479.42,408.80 L473.58,408.80Z" fill="#E8424C"/>
<path d="M510.25,412.82 L513.16,407.65 L507.33,407.65Z" fill="#E8424C"/>
<polyline points="375.25,532.00 386.50,502.50 397.75,477.49 420.25,446.20 442.75,425.55 476.50,415.55 510.25,412.98" stroke="#7D3D95" stroke-width="1" fill="none"/>
<path d="M386.50,506.35V498.65M384.40,506.35H388.60M384.40,498.65H388.60" stroke="#7D3D95" stroke-width="0.9" fill="none"/>
<path d="M397.75,482.62V472.36M395.65,482.62H399.85M395.65,472.36H399.85" stroke="#7D3D95" stroke-width="0.9" fill="none"/>
<path d="M420.25,448.77V443.64M418.15,448.77H422.35M418.15,443.64H422.35" stroke="#7D3D95" stroke-width="0.9" fill="none"/>
<path d="M375.25,529.22 L378.17,534.38 L372.33,534.38Z" fill="#7D3D95"/>
<path d="M386.50,499.72 L389.42,504.89 L383.58,504.89Z" fill="#7D3D95"/>
<path d="M397.75,474.71 L400.67,479.88 L394.83,479.88Z" fill="#7D3D95"/>
<path d="M420.25,443.42 L423.17,448.59 L417.33,448.59Z" fill="#7D3D95"/>
<path d="M442.75,422.77 L445.67,427.94 L439.83,427.94Z" fill="#7D3D95"/>
<path d="M476.50,412.77 L479.42,417.93 L473.58,417.93Z" fill="#7D3D95"/>
<path d="M510.25,410.20 L513.16,415.37 L507.33,415.37Z" fill="#7D3D95"/>
<polyline points="375.25,532.00 386.50,498.78 397.75,457.49 420.25,438.76 442.75,419.52 476.50,413.75 510.25,410.55" stroke="#45AA45" stroke-width="1" fill="none"/>
<path d="M397.75,461.33V453.64M395.65,461.33H399.85M395.65,453.64H399.85" stroke="#45AA45" stroke-width="0.9" fill="none"/>
<path d="M420.25,442.61V434.91M418.15,442.61H422.35M418.15,434.91H422.35" stroke="#45AA45" stroke-width="0.9" fill="none"/>
<rect x="372.60" y="529.35" width="5.30" height="5.30" fill="#45AA45"/>
<rect x="383.85" y="496.13" width="5.30" height="5.30" fill="#45AA45"/>
<rect x="395.10" y="454.84" width="5.30" height="5.30" fill="#45AA45"/>
<rect x="417.60" y="436.11" width="5.30" height="5.30" fill="#45AA45"/>
<rect x="440.10" y="416.87" width="5.30" height="5.30" fill="#45AA45"/>
<rect x="473.85" y="411.10" width="5.30" height="5.30" fill="#45AA45"/>
<rect x="507.60" y="407.90" width="5.30" height="5.30" fill="#45AA45"/>
<polyline points="375.25,532.00 386.50,494.55 397.75,473.77 420.25,442.48 442.75,429.53 476.50,418.24 510.25,413.75" stroke="#F07D35" stroke-width="1" fill="none"/>
<path d="M386.50,502.25V486.86M384.40,502.25H388.60M384.40,486.86H388.60" stroke="#F07D35" stroke-width="0.9" fill="none"/>
<path d="M442.75,433.38V425.68M440.65,433.38H444.85M440.65,425.68H444.85" stroke="#F07D35" stroke-width="0.9" fill="none"/>
<circle cx="375.25" cy="532.00" r="2.65" fill="#F07D35"/>
<circle cx="386.50" cy="494.55" r="2.65" fill="#F07D35"/>
<circle cx="397.75" cy="473.77" r="2.65" fill="#F07D35"/>
<circle cx="420.25" cy="442.48" r="2.65" fill="#F07D35"/>
<circle cx="442.75" cy="429.53" r="2.65" fill="#F07D35"/>
<circle cx="476.50" cy="418.24" r="2.65" fill="#F07D35"/>
<circle cx="510.25" cy="413.75" r="2.65" fill="#F07D35"/>
<text transform="translate(522.42,394.80) matrix(1,0.002,0,1,0,0)" font-size="21.83" text-anchor="start" fill="#0a0a0a" textLength="26.19" lengthAdjust="spacingAndGlyphs">D8</text>
<path d="M544.90,401.50V532.35H678.00" stroke="#1a1a1a" stroke-width="1.25" fill="none"/>
<text transform="translate(541.10,535.25) matrix(1,0.002,0,1,0,0)" font-size="9.2" text-anchor="end" fill="#111" textLength="4.30" lengthAdjust="spacingAndGlyphs">0</text>
<text transform="translate(541.10,509.20) matrix(1,0.002,0,1,0,0)" font-size="9.2" text-anchor="end" fill="#111" textLength="8.60" lengthAdjust="spacingAndGlyphs">20</text>
<text transform="translate(541.10,483.15) matrix(1,0.002,0,1,0,0)" font-size="9.2" text-anchor="end" fill="#111" textLength="8.60" lengthAdjust="spacingAndGlyphs">40</text>
<text transform="translate(541.10,457.10) matrix(1,0.002,0,1,0,0)" font-size="9.2" text-anchor="end" fill="#111" textLength="8.60" lengthAdjust="spacingAndGlyphs">60</text>
<text transform="translate(541.10,431.05) matrix(1,0.002,0,1,0,0)" font-size="9.2" text-anchor="end" fill="#111" textLength="8.60" lengthAdjust="spacingAndGlyphs">80</text>
<text transform="translate(541.10,405.00) matrix(1,0.002,0,1,0,0)" font-size="9.2" text-anchor="end" fill="#111" textLength="12.00" lengthAdjust="spacingAndGlyphs">100</text>
<text transform="translate(544.90,544.95) matrix(1,0.002,0,1,0,0)" font-size="9.2" text-anchor="middle" fill="#111" textLength="4.30" lengthAdjust="spacingAndGlyphs">0</text>
<text transform="translate(555.94,544.95) matrix(1,0.002,0,1,0,0)" font-size="9.2" text-anchor="middle" fill="#111" textLength="4.30" lengthAdjust="spacingAndGlyphs">1</text>
<text transform="translate(566.98,544.95) matrix(1,0.002,0,1,0,0)" font-size="9.2" text-anchor="middle" fill="#111" textLength="4.30" lengthAdjust="spacingAndGlyphs">2</text>
<text transform="translate(578.02,544.95) matrix(1,0.002,0,1,0,0)" font-size="9.2" text-anchor="middle" fill="#111" textLength="4.30" lengthAdjust="spacingAndGlyphs">3</text>
<text transform="translate(589.07,544.95) matrix(1,0.002,0,1,0,0)" font-size="9.2" text-anchor="middle" fill="#111" textLength="4.30" lengthAdjust="spacingAndGlyphs">4</text>
<text transform="translate(600.11,544.95) matrix(1,0.002,0,1,0,0)" font-size="9.2" text-anchor="middle" fill="#111" textLength="4.30" lengthAdjust="spacingAndGlyphs">5</text>
<text transform="translate(611.15,544.95) matrix(1,0.002,0,1,0,0)" font-size="9.2" text-anchor="middle" fill="#111" textLength="4.30" lengthAdjust="spacingAndGlyphs">6</text>
<text transform="translate(622.19,544.95) matrix(1,0.002,0,1,0,0)" font-size="9.2" text-anchor="middle" fill="#111" textLength="4.30" lengthAdjust="spacingAndGlyphs">7</text>
<text transform="translate(633.23,544.95) matrix(1,0.002,0,1,0,0)" font-size="9.2" text-anchor="middle" fill="#111" textLength="4.30" lengthAdjust="spacingAndGlyphs">8</text>
<text transform="translate(644.27,544.95) matrix(1,0.002,0,1,0,0)" font-size="9.2" text-anchor="middle" fill="#111" textLength="4.30" lengthAdjust="spacingAndGlyphs">9</text>
<text transform="translate(655.32,544.95) matrix(1,0.002,0,1,0,0)" font-size="9.2" text-anchor="middle" fill="#111" textLength="8.60" lengthAdjust="spacingAndGlyphs">10</text>
<text transform="translate(666.36,544.95) matrix(1,0.002,0,1,0,0)" font-size="9.2" text-anchor="middle" fill="#111" textLength="8.60" lengthAdjust="spacingAndGlyphs">11</text>
<text transform="translate(677.40,544.95) matrix(1,0.002,0,1,0,0)" font-size="9.2" text-anchor="middle" fill="#111" textLength="8.60" lengthAdjust="spacingAndGlyphs">12</text>
<path d="M541.30,532.35H544.90M541.30,506.30H544.90M541.30,480.25H544.90M541.30,454.20H544.90M541.30,428.15H544.90M541.30,402.10H544.90M544.90,532.35V535.55M555.94,532.35V535.55M566.98,532.35V535.55M578.02,532.35V535.55M589.07,532.35V535.55M600.11,532.35V535.55M611.15,532.35V535.55M622.19,532.35V535.55M633.23,532.35V535.55M644.27,532.35V535.55M655.32,532.35V535.55M666.36,532.35V535.55M677.40,532.35V535.55" stroke="#1a1a1a" stroke-width="1.1" fill="none"/>
<text transform="translate(611.00,559.00) matrix(1,0.002,0,1,0,0)" font-size="9.6" text-anchor="middle" fill="#111" textLength="34.30" lengthAdjust="spacingAndGlyphs">Time (h)</text>
<text x="0" y="0" transform="translate(524.13,464.73) rotate(-90) matrix(1,0.002,0,1,0,0)" font-size="9.8" text-anchor="middle" fill="#111" style="stroke-width:0.06px" textLength="94.00" lengthAdjust="spacingAndGlyphs">Cumulative release (%)</text>
<path d="M549.80,384.30H558.20" stroke="#F07D35" stroke-width="1"/>
<circle cx="554.00" cy="384.30" r="2.65" fill="#F07D35"/>
<text transform="translate(562.50,386.50) matrix(1,0.002,0,1,0,0)" font-size="6.9" text-anchor="start" fill="#111" textLength="12.70" lengthAdjust="spacingAndGlyphs" style="stroke-width:0.1px">ZBD</text>
<path d="M549.80,394.35H558.20" stroke="#45AA45" stroke-width="1"/>
<rect x="551.35" y="391.70" width="5.30" height="5.30" fill="#45AA45"/>
<text transform="translate(562.50,396.55) matrix(1,0.002,0,1,0,0)" font-size="6.9" text-anchor="start" fill="#111" textLength="27.50" lengthAdjust="spacingAndGlyphs" style="stroke-width:0.1px">RPN-ZBD</text>
<path d="M549.80,404.65H558.20" stroke="#7D3D95" stroke-width="1"/>
<path d="M554.00,401.87 L556.91,407.03 L551.09,407.03Z" fill="#7D3D95"/>
<text transform="translate(562.50,406.85) matrix(1,0.002,0,1,0,0)" font-size="6.9" text-anchor="start" fill="#111" textLength="19.30" lengthAdjust="spacingAndGlyphs" style="stroke-width:0.1px">N-ZBD</text>
<path d="M549.80,415.20H558.20" stroke="#E8424C" stroke-width="1"/>
<path d="M554.00,417.98 L556.91,412.81 L551.09,412.81Z" fill="#E8424C"/>
<text transform="translate(562.50,417.40) matrix(1,0.002,0,1,0,0)" font-size="6.9" text-anchor="start" fill="#111" textLength="28.80" lengthAdjust="spacingAndGlyphs" style="stroke-width:0.1px">Free drugs</text>
<polyline points="544.90,532.35 555.94,466.57 566.98,444.56 589.07,420.20 611.15,413.43 644.27,407.70 677.40,402.62" stroke="#E8424C" stroke-width="1" fill="none"/>
<path d="M544.90,535.13 L547.81,529.97 L541.99,529.97Z" fill="#E8424C"/>
<path d="M555.94,469.36 L558.86,464.19 L553.03,464.19Z" fill="#E8424C"/>
<path d="M566.98,447.34 L569.90,442.18 L564.07,442.18Z" fill="#E8424C"/>
<path d="M589.07,422.99 L591.98,417.82 L586.15,417.82Z" fill="#E8424C"/>
<path d="M611.15,416.21 L614.06,411.05 L608.24,411.05Z" fill="#E8424C"/>
<path d="M644.27,410.48 L647.19,405.32 L641.36,405.32Z" fill="#E8424C"/>
<path d="M677.40,405.40 L680.31,400.24 L674.49,400.24Z" fill="#E8424C"/>
<polyline points="544.90,532.35 555.94,496.40 566.98,476.73 589.07,437.27 611.15,417.73 644.27,410.18 677.40,407.31" stroke="#7D3D95" stroke-width="1" fill="none"/>
<path d="M566.98,480.64V472.83M564.88,480.64H569.08M564.88,472.83H569.08" stroke="#7D3D95" stroke-width="0.9" fill="none"/>
<path d="M544.90,529.57 L547.81,534.74 L541.99,534.74Z" fill="#7D3D95"/>
<path d="M555.94,493.62 L558.86,498.79 L553.03,498.79Z" fill="#7D3D95"/>
<path d="M566.98,473.95 L569.90,479.12 L564.07,479.12Z" fill="#7D3D95"/>
<path d="M589.07,434.49 L591.98,439.65 L586.15,439.65Z" fill="#7D3D95"/>
<path d="M611.15,414.95 L614.06,420.12 L608.24,420.12Z" fill="#7D3D95"/>
<path d="M644.27,407.39 L647.19,412.56 L641.36,412.56Z" fill="#7D3D95"/>
<path d="M677.40,404.53 L680.31,409.70 L674.49,409.70Z" fill="#7D3D95"/>
<polyline points="544.90,532.35 555.94,488.46 566.98,462.15 589.07,431.54 611.15,413.43 644.27,407.70 677.40,404.44" stroke="#45AA45" stroke-width="1" fill="none"/>
<path d="M555.94,493.67V483.25M553.84,493.67H558.04M553.84,483.25H558.04" stroke="#45AA45" stroke-width="0.9" fill="none"/>
<rect x="542.25" y="529.70" width="5.30" height="5.30" fill="#45AA45"/>
<rect x="553.29" y="485.81" width="5.30" height="5.30" fill="#45AA45"/>
<rect x="564.33" y="459.50" width="5.30" height="5.30" fill="#45AA45"/>
<rect x="586.42" y="428.89" width="5.30" height="5.30" fill="#45AA45"/>
<rect x="608.50" y="410.78" width="5.30" height="5.30" fill="#45AA45"/>
<rect x="641.62" y="405.05" width="5.30" height="5.30" fill="#45AA45"/>
<rect x="674.75" y="401.79" width="5.30" height="5.30" fill="#45AA45"/>
<polyline points="544.90,532.35 555.94,503.96 566.98,475.04 589.07,434.79 611.15,419.03 644.27,412.65 677.40,408.87" stroke="#F07D35" stroke-width="1" fill="none"/>
<path d="M555.94,507.86V500.05M553.84,507.86H558.04M553.84,500.05H558.04" stroke="#F07D35" stroke-width="0.9" fill="none"/>
<path d="M589.07,438.70V430.89M586.97,438.70H591.17M586.97,430.89H591.17" stroke="#F07D35" stroke-width="0.9" fill="none"/>
<path d="M677.40,411.48V406.27M675.30,411.48H679.50M675.30,406.27H679.50" stroke="#F07D35" stroke-width="0.9" fill="none"/>
<circle cx="544.90" cy="532.35" r="2.65" fill="#F07D35"/>
<circle cx="555.94" cy="503.96" r="2.65" fill="#F07D35"/>
<circle cx="566.98" cy="475.04" r="2.65" fill="#F07D35"/>
<circle cx="589.07" cy="434.79" r="2.65" fill="#F07D35"/>
<circle cx="611.15" cy="419.03" r="2.65" fill="#F07D35"/>
<circle cx="644.27" cy="412.65" r="2.65" fill="#F07D35"/>
<circle cx="677.40" cy="408.87" r="2.65" fill="#F07D35"/>
<text transform="translate(10.56,579.70) matrix(1,0.002,0,1,0,0)" font-size="21.37" text-anchor="start" fill="#0a0a0a" textLength="23.27" lengthAdjust="spacingAndGlyphs">E1</text>
<path d="M31.25,595.65V721.75H166.85" stroke="#1a1a1a" stroke-width="1.25" fill="none"/>
<text transform="translate(27.45,724.65) matrix(1,0.002,0,1,0,0)" font-size="9.2" text-anchor="end" fill="#111" textLength="4.30" lengthAdjust="spacingAndGlyphs">0</text>
<text transform="translate(27.45,699.55) matrix(1,0.002,0,1,0,0)" font-size="9.2" text-anchor="end" fill="#111" textLength="8.60" lengthAdjust="spacingAndGlyphs">20</text>
<text transform="translate(27.45,674.45) matrix(1,0.002,0,1,0,0)" font-size="9.2" text-anchor="end" fill="#111" textLength="8.60" lengthAdjust="spacingAndGlyphs">40</text>
<text transform="translate(27.45,649.35) matrix(1,0.002,0,1,0,0)" font-size="9.2" text-anchor="end" fill="#111" textLength="8.60" lengthAdjust="spacingAndGlyphs">60</text>
<text transform="translate(27.45,624.25) matrix(1,0.002,0,1,0,0)" font-size="9.2" text-anchor="end" fill="#111" textLength="8.60" lengthAdjust="spacingAndGlyphs">80</text>
<text transform="translate(27.45,599.15) matrix(1,0.002,0,1,0,0)" font-size="9.2" text-anchor="end" fill="#111" textLength="12.00" lengthAdjust="spacingAndGlyphs">100</text>
<text transform="translate(31.25,734.35) matrix(1,0.002,0,1,0,0)" font-size="9.2" text-anchor="middle" fill="#111" textLength="4.30" lengthAdjust="spacingAndGlyphs">0</text>
<text transform="translate(42.50,734.35) matrix(1,0.002,0,1,0,0)" font-size="9.2" text-anchor="middle" fill="#111" textLength="4.30" lengthAdjust="spacingAndGlyphs">1</text>
<text transform="translate(53.75,734.35) matrix(1,0.002,0,1,0,0)" font-size="9.2" text-anchor="middle" fill="#111" textLength="4.30" lengthAdjust="spacingAndGlyphs">2</text>
<text transform="translate(65.00,734.35) matrix(1,0.002,0,1,0,0)" font-size="9.2" text-anchor="middle" fill="#111" textLength="4.30" lengthAdjust="spacingAndGlyphs">3</text>
<text transform="translate(76.25,734.35) matrix(1,0.002,0,1,0,0)" font-size="9.2" text-anchor="middle" fill="#111" textLength="4.30" lengthAdjust="spacingAndGlyphs">4</text>
<text transform="translate(87.50,734.35) matrix(1,0.002,0,1,0,0)" font-size="9.2" text-anchor="middle" fill="#111" textLength="4.30" lengthAdjust="spacingAndGlyphs">5</text>
<text transform="translate(98.75,734.35) matrix(1,0.002,0,1,0,0)" font-size="9.2" text-anchor="middle" fill="#111" textLength="4.30" lengthAdjust="spacingAndGlyphs">6</text>
<text transform="translate(110.00,734.35) matrix(1,0.002,0,1,0,0)" font-size="9.2" text-anchor="middle" fill="#111" textLength="4.30" lengthAdjust="spacingAndGlyphs">7</text>
<text transform="translate(121.25,734.35) matrix(1,0.002,0,1,0,0)" font-size="9.2" text-anchor="middle" fill="#111" textLength="4.30" lengthAdjust="spacingAndGlyphs">8</text>
<text transform="translate(132.50,734.35) matrix(1,0.002,0,1,0,0)" font-size="9.2" text-anchor="middle" fill="#111" textLength="4.30" lengthAdjust="spacingAndGlyphs">9</text>
<text transform="translate(143.75,734.35) matrix(1,0.002,0,1,0,0)" font-size="9.2" text-anchor="middle" fill="#111" textLength="8.60" lengthAdjust="spacingAndGlyphs">10</text>
<text transform="translate(155.00,734.35) matrix(1,0.002,0,1,0,0)" font-size="9.2" text-anchor="middle" fill="#111" textLength="8.60" lengthAdjust="spacingAndGlyphs">11</text>
<text transform="translate(166.25,734.35) matrix(1,0.002,0,1,0,0)" font-size="9.2" text-anchor="middle" fill="#111" textLength="8.60" lengthAdjust="spacingAndGlyphs">12</text>
<path d="M27.65,721.75H31.25M27.65,696.65H31.25M27.65,671.55H31.25M27.65,646.45H31.25M27.65,621.35H31.25M27.65,596.25H31.25M31.25,721.75V724.95M42.50,721.75V724.95M53.75,721.75V724.95M65.00,721.75V724.95M76.25,721.75V724.95M87.50,721.75V724.95M98.75,721.75V724.95M110.00,721.75V724.95M121.25,721.75V724.95M132.50,721.75V724.95M143.75,721.75V724.95M155.00,721.75V724.95M166.25,721.75V724.95" stroke="#1a1a1a" stroke-width="1.1" fill="none"/>
<text transform="translate(99.50,748.60) matrix(1,0.002,0,1,0,0)" font-size="9.6" text-anchor="middle" fill="#111" textLength="34.30" lengthAdjust="spacingAndGlyphs">Time (h)</text>
<text x="0" y="0" transform="translate(10.48,656.10) rotate(-90) matrix(1,0.002,0,1,0,0)" font-size="9.8" text-anchor="middle" fill="#111" style="stroke-width:0.06px" textLength="93.70" lengthAdjust="spacingAndGlyphs">Cumulative release (%)</text>
<path d="M36.55,580.50H44.95" stroke="#F07D35" stroke-width="1"/>
<circle cx="40.75" cy="580.50" r="2.65" fill="#F07D35"/>
<text transform="translate(49.50,582.70) matrix(1,0.002,0,1,0,0)" font-size="6.9" text-anchor="start" fill="#111" textLength="12.70" lengthAdjust="spacingAndGlyphs" style="stroke-width:0.1px">ZBD</text>
<path d="M36.55,591.25H44.95" stroke="#45AA45" stroke-width="1"/>
<rect x="38.10" y="588.60" width="5.30" height="5.30" fill="#45AA45"/>
<text transform="translate(49.50,593.45) matrix(1,0.002,0,1,0,0)" font-size="6.9" text-anchor="start" fill="#111" textLength="27.50" lengthAdjust="spacingAndGlyphs" style="stroke-width:0.1px">RPN-ZBD</text>
<path d="M36.55,601.75H44.95" stroke="#7D3D95" stroke-width="1"/>
<path d="M40.75,598.97 L43.66,604.13 L37.84,604.13Z" fill="#7D3D95"/>
<text transform="translate(49.50,603.95) matrix(1,0.002,0,1,0,0)" font-size="6.9" text-anchor="start" fill="#111" textLength="19.30" lengthAdjust="spacingAndGlyphs" style="stroke-width:0.1px">N-ZBD</text>
<path d="M36.55,612.50H44.95" stroke="#E8424C" stroke-width="1"/>
<path d="M40.75,615.28 L43.66,610.12 L37.84,610.12Z" fill="#E8424C"/>
<text transform="translate(49.50,614.70) matrix(1,0.002,0,1,0,0)" font-size="6.9" text-anchor="start" fill="#111" textLength="28.80" lengthAdjust="spacingAndGlyphs" style="stroke-width:0.1px">Free drugs</text>
<polyline points="31.25,721.75 42.50,674.06 53.75,647.96 76.25,620.47 98.75,608.80 132.50,603.03 166.25,601.27" stroke="#E8424C" stroke-width="1" fill="none"/>
<path d="M42.50,679.08V669.04M40.40,679.08H44.60M40.40,669.04H44.60" stroke="#E8424C" stroke-width="0.9" fill="none"/>
<path d="M53.75,652.98V642.94M51.65,652.98H55.85M51.65,642.94H55.85" stroke="#E8424C" stroke-width="0.9" fill="none"/>
<path d="M76.25,624.24V616.71M74.15,624.24H78.35M74.15,616.71H78.35" stroke="#E8424C" stroke-width="0.9" fill="none"/>
<path d="M31.25,724.53 L34.16,719.37 L28.34,719.37Z" fill="#E8424C"/>
<path d="M42.50,676.84 L45.41,671.67 L39.59,671.67Z" fill="#E8424C"/>
<path d="M53.75,650.74 L56.66,645.57 L50.84,645.57Z" fill="#E8424C"/>
<path d="M76.25,623.25 L79.17,618.09 L73.33,618.09Z" fill="#E8424C"/>
<path d="M98.75,611.58 L101.67,606.41 L95.83,606.41Z" fill="#E8424C"/>
<path d="M132.50,605.81 L135.41,600.64 L129.59,600.64Z" fill="#E8424C"/>
<path d="M166.25,604.05 L169.16,598.88 L163.34,598.88Z" fill="#E8424C"/>
<polyline points="31.25,721.75 42.50,700.04 53.75,677.45 76.25,649.46 98.75,628.00 132.50,608.05 166.25,605.03" stroke="#7D3D95" stroke-width="1" fill="none"/>
<path d="M31.25,718.97 L34.16,724.13 L28.34,724.13Z" fill="#7D3D95"/>
<path d="M42.50,697.26 L45.41,702.42 L39.59,702.42Z" fill="#7D3D95"/>
<path d="M53.75,674.67 L56.66,679.83 L50.84,679.83Z" fill="#7D3D95"/>
<path d="M76.25,646.68 L79.17,651.85 L73.33,651.85Z" fill="#7D3D95"/>
<path d="M98.75,625.22 L101.67,630.39 L95.83,630.39Z" fill="#7D3D95"/>
<path d="M132.50,605.26 L135.41,610.43 L129.59,610.43Z" fill="#7D3D95"/>
<path d="M166.25,602.25 L169.16,607.42 L163.34,607.42Z" fill="#7D3D95"/>
<polyline points="31.25,721.75 42.50,691.25 53.75,665.02 76.25,628.75 98.75,616.20 132.50,610.06 166.25,607.55" stroke="#45AA45" stroke-width="1" fill="none"/>
<path d="M53.75,670.04V660.00M51.65,670.04H55.85M51.65,660.00H55.85" stroke="#45AA45" stroke-width="0.9" fill="none"/>
<path d="M76.25,632.52V624.99M74.15,632.52H78.35M74.15,624.99H78.35" stroke="#45AA45" stroke-width="0.9" fill="none"/>
<path d="M98.75,619.97V612.44M96.65,619.97H100.85M96.65,612.44H100.85" stroke="#45AA45" stroke-width="0.9" fill="none"/>
<rect x="28.60" y="719.10" width="5.30" height="5.30" fill="#45AA45"/>
<rect x="39.85" y="688.60" width="5.30" height="5.30" fill="#45AA45"/>
<rect x="51.10" y="662.37" width="5.30" height="5.30" fill="#45AA45"/>
<rect x="73.60" y="626.10" width="5.30" height="5.30" fill="#45AA45"/>
<rect x="96.10" y="613.55" width="5.30" height="5.30" fill="#45AA45"/>
<rect x="129.85" y="607.41" width="5.30" height="5.30" fill="#45AA45"/>
<rect x="163.60" y="604.90" width="5.30" height="5.30" fill="#45AA45"/>
<polyline points="31.25,721.75 42.50,695.02 53.75,672.55 76.25,636.28 98.75,617.46 132.50,608.80 166.25,603.78" stroke="#F07D35" stroke-width="1" fill="none"/>
<path d="M98.75,619.97V614.95M96.65,619.97H100.85M96.65,614.95H100.85" stroke="#F07D35" stroke-width="0.9" fill="none"/>
<circle cx="31.25" cy="721.75" r="2.65" fill="#F07D35"/>
<circle cx="42.50" cy="695.02" r="2.65" fill="#F07D35"/>
<circle cx="53.75" cy="672.55" r="2.65" fill="#F07D35"/>
<circle cx="76.25" cy="636.28" r="2.65" fill="#F07D35"/>
<circle cx="98.75" cy="617.46" r="2.65" fill="#F07D35"/>
<circle cx="132.50" cy="608.80" r="2.65" fill="#F07D35"/>
<circle cx="166.25" cy="603.78" r="2.65" fill="#F07D35"/>
<text transform="translate(181.95,575.50) matrix(1,0.002,0,1,0,0)" font-size="21.83" text-anchor="start" fill="#0a0a0a" textLength="23.93" lengthAdjust="spacingAndGlyphs">E2</text>
<path d="M202.75,589.40V720.75H338.60" stroke="#1a1a1a" stroke-width="1.25" fill="none"/>
<text transform="translate(198.95,723.65) matrix(1,0.002,0,1,0,0)" font-size="9.2" text-anchor="end" fill="#111" textLength="4.30" lengthAdjust="spacingAndGlyphs">0</text>
<text transform="translate(198.95,697.50) matrix(1,0.002,0,1,0,0)" font-size="9.2" text-anchor="end" fill="#111" textLength="8.60" lengthAdjust="spacingAndGlyphs">20</text>
<text transform="translate(198.95,671.35) matrix(1,0.002,0,1,0,0)" font-size="9.2" text-anchor="end" fill="#111" textLength="8.60" lengthAdjust="spacingAndGlyphs">40</text>
<text transform="translate(198.95,645.20) matrix(1,0.002,0,1,0,0)" font-size="9.2" text-anchor="end" fill="#111" textLength="8.60" lengthAdjust="spacingAndGlyphs">60</text>
<text transform="translate(198.95,619.05) matrix(1,0.002,0,1,0,0)" font-size="9.2" text-anchor="end" fill="#111" textLength="8.60" lengthAdjust="spacingAndGlyphs">80</text>
<text transform="translate(198.95,592.90) matrix(1,0.002,0,1,0,0)" font-size="9.2" text-anchor="end" fill="#111" textLength="12.00" lengthAdjust="spacingAndGlyphs">100</text>
<text transform="translate(202.75,733.35) matrix(1,0.002,0,1,0,0)" font-size="9.2" text-anchor="middle" fill="#111" textLength="4.30" lengthAdjust="spacingAndGlyphs">0</text>
<text transform="translate(214.02,733.35) matrix(1,0.002,0,1,0,0)" font-size="9.2" text-anchor="middle" fill="#111" textLength="4.30" lengthAdjust="spacingAndGlyphs">1</text>
<text transform="translate(225.29,733.35) matrix(1,0.002,0,1,0,0)" font-size="9.2" text-anchor="middle" fill="#111" textLength="4.30" lengthAdjust="spacingAndGlyphs">2</text>
<text transform="translate(236.56,733.35) matrix(1,0.002,0,1,0,0)" font-size="9.2" text-anchor="middle" fill="#111" textLength="4.30" lengthAdjust="spacingAndGlyphs">3</text>
<text transform="translate(247.83,733.35) matrix(1,0.002,0,1,0,0)" font-size="9.2" text-anchor="middle" fill="#111" textLength="4.30" lengthAdjust="spacingAndGlyphs">4</text>
<text transform="translate(259.10,733.35) matrix(1,0.002,0,1,0,0)" font-size="9.2" text-anchor="middle" fill="#111" textLength="4.30" lengthAdjust="spacingAndGlyphs">5</text>
<text transform="translate(270.38,733.35) matrix(1,0.002,0,1,0,0)" font-size="9.2" text-anchor="middle" fill="#111" textLength="4.30" lengthAdjust="spacingAndGlyphs">6</text>
<text transform="translate(281.65,733.35) matrix(1,0.002,0,1,0,0)" font-size="9.2" text-anchor="middle" fill="#111" textLength="4.30" lengthAdjust="spacingAndGlyphs">7</text>
<text transform="translate(292.92,733.35) matrix(1,0.002,0,1,0,0)" font-size="9.2" text-anchor="middle" fill="#111" textLength="4.30" lengthAdjust="spacingAndGlyphs">8</text>
<text transform="translate(304.19,733.35) matrix(1,0.002,0,1,0,0)" font-size="9.2" text-anchor="middle" fill="#111" textLength="4.30" lengthAdjust="spacingAndGlyphs">9</text>
<text transform="translate(315.46,733.35) matrix(1,0.002,0,1,0,0)" font-size="9.2" text-anchor="middle" fill="#111" textLength="8.60" lengthAdjust="spacingAndGlyphs">10</text>
<text transform="translate(326.73,733.35) matrix(1,0.002,0,1,0,0)" font-size="9.2" text-anchor="middle" fill="#111" textLength="8.60" lengthAdjust="spacingAndGlyphs">11</text>
<text transform="translate(338.00,733.35) matrix(1,0.002,0,1,0,0)" font-size="9.2" text-anchor="middle" fill="#111" textLength="8.60" lengthAdjust="spacingAndGlyphs">12</text>
<path d="M199.15,720.75H202.75M199.15,694.60H202.75M199.15,668.45H202.75M199.15,642.30H202.75M199.15,616.15H202.75M199.15,590.00H202.75M202.75,720.75V723.95M214.02,720.75V723.95M225.29,720.75V723.95M236.56,720.75V723.95M247.83,720.75V723.95M259.10,720.75V723.95M270.38,720.75V723.95M281.65,720.75V723.95M292.92,720.75V723.95M304.19,720.75V723.95M315.46,720.75V723.95M326.73,720.75V723.95M338.00,720.75V723.95" stroke="#1a1a1a" stroke-width="1.1" fill="none"/>
<text transform="translate(271.00,747.35) matrix(1,0.002,0,1,0,0)" font-size="9.6" text-anchor="middle" fill="#111" textLength="34.30" lengthAdjust="spacingAndGlyphs">Time (h)</text>
<text x="0" y="0" transform="translate(181.98,651.38) rotate(-90) matrix(1,0.002,0,1,0,0)" font-size="9.8" text-anchor="middle" fill="#111" style="stroke-width:0.06px" textLength="94.50" lengthAdjust="spacingAndGlyphs">Cumulative release (%)</text>
<path d="M207.55,576.75H215.95" stroke="#F07D35" stroke-width="1"/>
<circle cx="211.75" cy="576.75" r="2.65" fill="#F07D35"/>
<text transform="translate(221.00,578.95) matrix(1,0.002,0,1,0,0)" font-size="6.9" text-anchor="start" fill="#111" textLength="12.70" lengthAdjust="spacingAndGlyphs" style="stroke-width:0.1px">ZBD</text>
<path d="M207.55,586.75H215.95" stroke="#45AA45" stroke-width="1"/>
<rect x="209.10" y="584.10" width="5.30" height="5.30" fill="#45AA45"/>
<text transform="translate(221.00,588.95) matrix(1,0.002,0,1,0,0)" font-size="6.9" text-anchor="start" fill="#111" textLength="27.50" lengthAdjust="spacingAndGlyphs" style="stroke-width:0.1px">RPN-ZBD</text>
<path d="M207.55,596.75H215.95" stroke="#7D3D95" stroke-width="1"/>
<path d="M211.75,593.97 L214.66,599.13 L208.84,599.13Z" fill="#7D3D95"/>
<text transform="translate(221.00,598.95) matrix(1,0.002,0,1,0,0)" font-size="6.9" text-anchor="start" fill="#111" textLength="19.30" lengthAdjust="spacingAndGlyphs" style="stroke-width:0.1px">N-ZBD</text>
<path d="M207.55,606.75H215.95" stroke="#E8424C" stroke-width="1"/>
<path d="M211.75,609.53 L214.66,604.37 L208.84,604.37Z" fill="#E8424C"/>
<text transform="translate(221.00,608.95) matrix(1,0.002,0,1,0,0)" font-size="6.9" text-anchor="start" fill="#111" textLength="28.80" lengthAdjust="spacingAndGlyphs" style="stroke-width:0.1px">Free drugs</text>
<polyline points="202.75,720.75 214.02,688.06 225.29,674.73 247.83,647.27 270.38,632.36 304.19,618.63 338.00,609.22" stroke="#E8424C" stroke-width="1" fill="none"/>
<path d="M214.02,691.99V684.14M211.92,691.99H216.12M211.92,684.14H216.12" stroke="#E8424C" stroke-width="0.9" fill="none"/>
<path d="M225.29,679.96V669.50M223.19,679.96H227.39M223.19,669.50H227.39" stroke="#E8424C" stroke-width="0.9" fill="none"/>
<path d="M202.75,723.53 L205.66,718.37 L199.84,718.37Z" fill="#E8424C"/>
<path d="M214.02,690.85 L216.94,685.68 L211.11,685.68Z" fill="#E8424C"/>
<path d="M225.29,677.51 L228.21,672.34 L222.38,672.34Z" fill="#E8424C"/>
<path d="M247.83,650.05 L250.75,644.88 L244.92,644.88Z" fill="#E8424C"/>
<path d="M270.38,635.15 L273.29,629.98 L267.46,629.98Z" fill="#E8424C"/>
<path d="M304.19,621.42 L307.10,616.25 L301.27,616.25Z" fill="#E8424C"/>
<path d="M338.00,612.00 L340.92,606.84 L335.08,606.84Z" fill="#E8424C"/>
<polyline points="202.75,720.75 214.02,713.82 225.29,696.30 247.83,678.91 270.38,658.51 304.19,639.82 338.00,628.57" stroke="#7D3D95" stroke-width="1" fill="none"/>
<path d="M214.02,717.74V709.90M211.92,717.74H216.12M211.92,709.90H216.12" stroke="#7D3D95" stroke-width="0.9" fill="none"/>
<path d="M202.75,717.97 L205.66,723.13 L199.84,723.13Z" fill="#7D3D95"/>
<path d="M214.02,711.04 L216.94,716.21 L211.11,716.21Z" fill="#7D3D95"/>
<path d="M225.29,693.52 L228.21,698.68 L222.38,698.68Z" fill="#7D3D95"/>
<path d="M247.83,676.13 L250.75,681.29 L244.92,681.29Z" fill="#7D3D95"/>
<path d="M270.38,655.73 L273.29,660.90 L267.46,660.90Z" fill="#7D3D95"/>
<path d="M304.19,637.03 L307.10,642.20 L301.27,642.20Z" fill="#7D3D95"/>
<path d="M338.00,625.79 L340.92,630.96 L335.08,630.96Z" fill="#7D3D95"/>
<polyline points="202.75,720.75 214.02,701.27 225.29,687.67 247.83,654.72 270.38,640.34 304.19,624.91 338.00,613.67" stroke="#45AA45" stroke-width="1" fill="none"/>
<path d="M214.02,703.88V698.65M211.92,703.88H216.12M211.92,698.65H216.12" stroke="#45AA45" stroke-width="0.9" fill="none"/>
<path d="M225.29,698.13V677.21M223.19,698.13H227.39M223.19,677.21H227.39" stroke="#45AA45" stroke-width="0.9" fill="none"/>
<rect x="200.10" y="718.10" width="5.30" height="5.30" fill="#45AA45"/>
<rect x="211.37" y="698.62" width="5.30" height="5.30" fill="#45AA45"/>
<rect x="222.64" y="685.02" width="5.30" height="5.30" fill="#45AA45"/>
<rect x="245.18" y="652.07" width="5.30" height="5.30" fill="#45AA45"/>
<rect x="267.73" y="637.69" width="5.30" height="5.30" fill="#45AA45"/>
<rect x="301.54" y="622.26" width="5.30" height="5.30" fill="#45AA45"/>
<rect x="335.35" y="611.02" width="5.30" height="5.30" fill="#45AA45"/>
<polyline points="202.75,720.75 214.02,703.36 225.29,693.82 247.83,665.18 270.38,648.97 304.19,632.10 338.00,621.64" stroke="#F07D35" stroke-width="1" fill="none"/>
<circle cx="202.75" cy="720.75" r="2.65" fill="#F07D35"/>
<circle cx="214.02" cy="703.36" r="2.65" fill="#F07D35"/>
<circle cx="225.29" cy="693.82" r="2.65" fill="#F07D35"/>
<circle cx="247.83" cy="665.18" r="2.65" fill="#F07D35"/>
<circle cx="270.38" cy="648.97" r="2.65" fill="#F07D35"/>
<circle cx="304.19" cy="632.10" r="2.65" fill="#F07D35"/>
<circle cx="338.00" cy="621.64" r="2.65" fill="#F07D35"/>
<text transform="translate(349.96,574.60) matrix(1,0.002,0,1,0,0)" font-size="21.83" text-anchor="start" fill="#0a0a0a" textLength="23.12" lengthAdjust="spacingAndGlyphs">E3</text>
<path d="M372.75,587.65V720.50H511.35" stroke="#1a1a1a" stroke-width="1.25" fill="none"/>
<text transform="translate(368.95,723.40) matrix(1,0.002,0,1,0,0)" font-size="9.2" text-anchor="end" fill="#111" textLength="4.30" lengthAdjust="spacingAndGlyphs">0</text>
<text transform="translate(368.95,696.95) matrix(1,0.002,0,1,0,0)" font-size="9.2" text-anchor="end" fill="#111" textLength="8.60" lengthAdjust="spacingAndGlyphs">20</text>
<text transform="translate(368.95,670.50) matrix(1,0.002,0,1,0,0)" font-size="9.2" text-anchor="end" fill="#111" textLength="8.60" lengthAdjust="spacingAndGlyphs">40</text>
<text transform="translate(368.95,644.05) matrix(1,0.002,0,1,0,0)" font-size="9.2" text-anchor="end" fill="#111" textLength="8.60" lengthAdjust="spacingAndGlyphs">60</text>
<text transform="translate(368.95,617.60) matrix(1,0.002,0,1,0,0)" font-size="9.2" text-anchor="end" fill="#111" textLength="8.60" lengthAdjust="spacingAndGlyphs">80</text>
<text transform="translate(368.95,591.15) matrix(1,0.002,0,1,0,0)" font-size="9.2" text-anchor="end" fill="#111" textLength="12.00" lengthAdjust="spacingAndGlyphs">100</text>
<text transform="translate(372.75,733.10) matrix(1,0.002,0,1,0,0)" font-size="9.2" text-anchor="middle" fill="#111" textLength="4.30" lengthAdjust="spacingAndGlyphs">0</text>
<text transform="translate(384.25,733.10) matrix(1,0.002,0,1,0,0)" font-size="9.2" text-anchor="middle" fill="#111" textLength="4.30" lengthAdjust="spacingAndGlyphs">1</text>
<text transform="translate(395.75,733.10) matrix(1,0.002,0,1,0,0)" font-size="9.2" text-anchor="middle" fill="#111" textLength="4.30" lengthAdjust="spacingAndGlyphs">2</text>
<text transform="translate(407.25,733.10) matrix(1,0.002,0,1,0,0)" font-size="9.2" text-anchor="middle" fill="#111" textLength="4.30" lengthAdjust="spacingAndGlyphs">3</text>
<text transform="translate(418.75,733.10) matrix(1,0.002,0,1,0,0)" font-size="9.2" text-anchor="middle" fill="#111" textLength="4.30" lengthAdjust="spacingAndGlyphs">4</text>
<text transform="translate(430.25,733.10) matrix(1,0.002,0,1,0,0)" font-size="9.2" text-anchor="middle" fill="#111" textLength="4.30" lengthAdjust="spacingAndGlyphs">5</text>
<text transform="translate(441.75,733.10) matrix(1,0.002,0,1,0,0)" font-size="9.2" text-anchor="middle" fill="#111" textLength="4.30" lengthAdjust="spacingAndGlyphs">6</text>
<text transform="translate(453.25,733.10) matrix(1,0.002,0,1,0,0)" font-size="9.2" text-anchor="middle" fill="#111" textLength="4.30" lengthAdjust="spacingAndGlyphs">7</text>
<text transform="translate(464.75,733.10) matrix(1,0.002,0,1,0,0)" font-size="9.2" text-anchor="middle" fill="#111" textLength="4.30" lengthAdjust="spacingAndGlyphs">8</text>
<text transform="translate(476.25,733.10) matrix(1,0.002,0,1,0,0)" font-size="9.2" text-anchor="middle" fill="#111" textLength="4.30" lengthAdjust="spacingAndGlyphs">9</text>
<text transform="translate(487.75,733.10) matrix(1,0.002,0,1,0,0)" font-size="9.2" text-anchor="middle" fill="#111" textLength="8.60" lengthAdjust="spacingAndGlyphs">10</text>
<text transform="translate(499.25,733.10) matrix(1,0.002,0,1,0,0)" font-size="9.2" text-anchor="middle" fill="#111" textLength="8.60" lengthAdjust="spacingAndGlyphs">11</text>
<text transform="translate(510.75,733.10) matrix(1,0.002,0,1,0,0)" font-size="9.2" text-anchor="middle" fill="#111" textLength="8.60" lengthAdjust="spacingAndGlyphs">12</text>
<path d="M369.15,720.50H372.75M369.15,694.05H372.75M369.15,667.60H372.75M369.15,641.15H372.75M369.15,614.70H372.75M369.15,588.25H372.75M372.75,720.50V723.70M384.25,720.50V723.70M395.75,720.50V723.70M407.25,720.50V723.70M418.75,720.50V723.70M430.25,720.50V723.70M441.75,720.50V723.70M453.25,720.50V723.70M464.75,720.50V723.70M476.25,720.50V723.70M487.75,720.50V723.70M499.25,720.50V723.70M510.75,720.50V723.70" stroke="#1a1a1a" stroke-width="1.1" fill="none"/>
<text transform="translate(442.00,746.85) matrix(1,0.002,0,1,0,0)" font-size="9.6" text-anchor="middle" fill="#111" textLength="34.30" lengthAdjust="spacingAndGlyphs">Time (h)</text>
<text x="0" y="0" transform="translate(354.58,651.58) rotate(-90) matrix(1,0.002,0,1,0,0)" font-size="9.8" text-anchor="middle" fill="#111" style="stroke-width:0.06px" textLength="93.00" lengthAdjust="spacingAndGlyphs">Cumulative release (%)</text>
<path d="M377.80,573.00H386.20" stroke="#F07D35" stroke-width="1"/>
<circle cx="382.00" cy="573.00" r="2.65" fill="#F07D35"/>
<text transform="translate(391.25,575.20) matrix(1,0.002,0,1,0,0)" font-size="6.9" text-anchor="start" fill="#111" textLength="12.70" lengthAdjust="spacingAndGlyphs" style="stroke-width:0.1px">ZBD</text>
<path d="M377.80,583.25H386.20" stroke="#45AA45" stroke-width="1"/>
<rect x="379.35" y="580.60" width="5.30" height="5.30" fill="#45AA45"/>
<text transform="translate(391.25,585.45) matrix(1,0.002,0,1,0,0)" font-size="6.9" text-anchor="start" fill="#111" textLength="27.50" lengthAdjust="spacingAndGlyphs" style="stroke-width:0.1px">RPN-ZBD</text>
<path d="M377.80,594.25H386.20" stroke="#7D3D95" stroke-width="1"/>
<path d="M382.00,591.47 L384.92,596.63 L379.08,596.63Z" fill="#7D3D95"/>
<text transform="translate(391.25,596.45) matrix(1,0.002,0,1,0,0)" font-size="6.9" text-anchor="start" fill="#111" textLength="19.30" lengthAdjust="spacingAndGlyphs" style="stroke-width:0.1px">N-ZBD</text>
<path d="M377.80,604.50H386.20" stroke="#E8424C" stroke-width="1"/>
<path d="M382.00,607.28 L384.92,602.12 L379.08,602.12Z" fill="#E8424C"/>
<text transform="translate(391.25,606.70) matrix(1,0.002,0,1,0,0)" font-size="6.9" text-anchor="start" fill="#111" textLength="28.80" lengthAdjust="spacingAndGlyphs" style="stroke-width:0.1px">Free drugs</text>
<polyline points="372.75,720.50 384.25,674.48 395.75,646.97 418.75,619.46 441.75,602.00 476.25,596.98 510.75,594.99" stroke="#E8424C" stroke-width="1" fill="none"/>
<path d="M372.75,723.28 L375.67,718.12 L369.83,718.12Z" fill="#E8424C"/>
<path d="M384.25,677.26 L387.17,672.09 L381.33,672.09Z" fill="#E8424C"/>
<path d="M395.75,649.75 L398.67,644.58 L392.83,644.58Z" fill="#E8424C"/>
<path d="M418.75,622.24 L421.67,617.08 L415.83,617.08Z" fill="#E8424C"/>
<path d="M441.75,604.79 L444.67,599.62 L438.83,599.62Z" fill="#E8424C"/>
<path d="M476.25,599.76 L479.17,594.59 L473.33,594.59Z" fill="#E8424C"/>
<path d="M510.75,597.78 L513.66,592.61 L507.83,592.61Z" fill="#E8424C"/>
<polyline points="372.75,720.50 384.25,693.79 395.75,669.45 418.75,642.47 441.75,618.80 476.25,605.05 510.75,600.81" stroke="#7D3D95" stroke-width="1" fill="none"/>
<path d="M384.25,697.75V689.82M382.15,697.75H386.35M382.15,689.82H386.35" stroke="#7D3D95" stroke-width="0.9" fill="none"/>
<path d="M418.75,646.44V638.50M416.65,646.44H420.85M416.65,638.50H420.85" stroke="#7D3D95" stroke-width="0.9" fill="none"/>
<path d="M372.75,717.72 L375.67,722.88 L369.83,722.88Z" fill="#7D3D95"/>
<path d="M384.25,691.00 L387.17,696.17 L381.33,696.17Z" fill="#7D3D95"/>
<path d="M395.75,666.67 L398.67,671.84 L392.83,671.84Z" fill="#7D3D95"/>
<path d="M418.75,639.69 L421.67,644.86 L415.83,644.86Z" fill="#7D3D95"/>
<path d="M441.75,616.02 L444.67,621.18 L438.83,621.18Z" fill="#7D3D95"/>
<path d="M476.25,602.26 L479.17,607.43 L473.33,607.43Z" fill="#7D3D95"/>
<path d="M510.75,598.03 L513.66,603.20 L507.83,603.20Z" fill="#7D3D95"/>
<polyline points="372.75,720.50 384.25,682.54 395.75,655.04 418.75,621.18 441.75,605.05 476.25,598.70 510.75,594.99" stroke="#45AA45" stroke-width="1" fill="none"/>
<path d="M395.75,659.00V651.07M393.65,659.00H397.85M393.65,651.07H397.85" stroke="#45AA45" stroke-width="0.9" fill="none"/>
<rect x="370.10" y="717.85" width="5.30" height="5.30" fill="#45AA45"/>
<rect x="381.60" y="679.89" width="5.30" height="5.30" fill="#45AA45"/>
<rect x="393.10" y="652.39" width="5.30" height="5.30" fill="#45AA45"/>
<rect x="416.10" y="618.53" width="5.30" height="5.30" fill="#45AA45"/>
<rect x="439.10" y="602.40" width="5.30" height="5.30" fill="#45AA45"/>
<rect x="473.60" y="596.05" width="5.30" height="5.30" fill="#45AA45"/>
<rect x="508.10" y="592.34" width="5.30" height="5.30" fill="#45AA45"/>
<polyline points="372.75,720.50 384.25,688.23 395.75,665.75 418.75,628.19 441.75,609.94 476.25,600.02 510.75,597.51" stroke="#F07D35" stroke-width="1" fill="none"/>
<circle cx="372.75" cy="720.50" r="2.65" fill="#F07D35"/>
<circle cx="384.25" cy="688.23" r="2.65" fill="#F07D35"/>
<circle cx="395.75" cy="665.75" r="2.65" fill="#F07D35"/>
<circle cx="418.75" cy="628.19" r="2.65" fill="#F07D35"/>
<circle cx="441.75" cy="609.94" r="2.65" fill="#F07D35"/>
<circle cx="476.25" cy="600.02" r="2.65" fill="#F07D35"/>
<circle cx="510.75" cy="597.51" r="2.65" fill="#F07D35"/>
<text transform="translate(522.76,572.90) matrix(1,0.002,0,1,0,0)" font-size="21.37" text-anchor="start" fill="#0a0a0a" textLength="23.52" lengthAdjust="spacingAndGlyphs">E4</text>
<path d="M543.90,587.80V720.30H680.10" stroke="#1a1a1a" stroke-width="1.25" fill="none"/>
<text transform="translate(540.10,723.20) matrix(1,0.002,0,1,0,0)" font-size="9.2" text-anchor="end" fill="#111" textLength="4.30" lengthAdjust="spacingAndGlyphs">0</text>
<text transform="translate(540.10,696.82) matrix(1,0.002,0,1,0,0)" font-size="9.2" text-anchor="end" fill="#111" textLength="8.60" lengthAdjust="spacingAndGlyphs">20</text>
<text transform="translate(540.10,670.44) matrix(1,0.002,0,1,0,0)" font-size="9.2" text-anchor="end" fill="#111" textLength="8.60" lengthAdjust="spacingAndGlyphs">40</text>
<text transform="translate(540.10,644.06) matrix(1,0.002,0,1,0,0)" font-size="9.2" text-anchor="end" fill="#111" textLength="8.60" lengthAdjust="spacingAndGlyphs">60</text>
<text transform="translate(540.10,617.68) matrix(1,0.002,0,1,0,0)" font-size="9.2" text-anchor="end" fill="#111" textLength="8.60" lengthAdjust="spacingAndGlyphs">80</text>
<text transform="translate(540.10,591.30) matrix(1,0.002,0,1,0,0)" font-size="9.2" text-anchor="end" fill="#111" textLength="12.00" lengthAdjust="spacingAndGlyphs">100</text>
<text transform="translate(543.90,732.90) matrix(1,0.002,0,1,0,0)" font-size="9.2" text-anchor="middle" fill="#111" textLength="4.30" lengthAdjust="spacingAndGlyphs">0</text>
<text transform="translate(555.20,732.90) matrix(1,0.002,0,1,0,0)" font-size="9.2" text-anchor="middle" fill="#111" textLength="4.30" lengthAdjust="spacingAndGlyphs">1</text>
<text transform="translate(566.50,732.90) matrix(1,0.002,0,1,0,0)" font-size="9.2" text-anchor="middle" fill="#111" textLength="4.30" lengthAdjust="spacingAndGlyphs">2</text>
<text transform="translate(577.80,732.90) matrix(1,0.002,0,1,0,0)" font-size="9.2" text-anchor="middle" fill="#111" textLength="4.30" lengthAdjust="spacingAndGlyphs">3</text>
<text transform="translate(589.10,732.90) matrix(1,0.002,0,1,0,0)" font-size="9.2" text-anchor="middle" fill="#111" textLength="4.30" lengthAdjust="spacingAndGlyphs">4</text>
<text transform="translate(600.40,732.90) matrix(1,0.002,0,1,0,0)" font-size="9.2" text-anchor="middle" fill="#111" textLength="4.30" lengthAdjust="spacingAndGlyphs">5</text>
<text transform="translate(611.70,732.90) matrix(1,0.002,0,1,0,0)" font-size="9.2" text-anchor="middle" fill="#111" textLength="4.30" lengthAdjust="spacingAndGlyphs">6</text>
<text transform="translate(623.00,732.90) matrix(1,0.002,0,1,0,0)" font-size="9.2" text-anchor="middle" fill="#111" textLength="4.30" lengthAdjust="spacingAndGlyphs">7</text>
<text transform="translate(634.30,732.90) matrix(1,0.002,0,1,0,0)" font-size="9.2" text-anchor="middle" fill="#111" textLength="4.30" lengthAdjust="spacingAndGlyphs">8</text>
<text transform="translate(645.60,732.90) matrix(1,0.002,0,1,0,0)" font-size="9.2" text-anchor="middle" fill="#111" textLength="4.30" lengthAdjust="spacingAndGlyphs">9</text>
<text transform="translate(656.90,732.90) matrix(1,0.002,0,1,0,0)" font-size="9.2" text-anchor="middle" fill="#111" textLength="8.60" lengthAdjust="spacingAndGlyphs">10</text>
<text transform="translate(668.20,732.90) matrix(1,0.002,0,1,0,0)" font-size="9.2" text-anchor="middle" fill="#111" textLength="8.60" lengthAdjust="spacingAndGlyphs">11</text>
<text transform="translate(679.50,732.90) matrix(1,0.002,0,1,0,0)" font-size="9.2" text-anchor="middle" fill="#111" textLength="8.60" lengthAdjust="spacingAndGlyphs">12</text>
<path d="M540.30,720.30H543.90M540.30,693.92H543.90M540.30,667.54H543.90M540.30,641.16H543.90M540.30,614.78H543.90M540.30,588.40H543.90M543.90,720.30V723.50M555.20,720.30V723.50M566.50,720.30V723.50M577.80,720.30V723.50M589.10,720.30V723.50M600.40,720.30V723.50M611.70,720.30V723.50M623.00,720.30V723.50M634.30,720.30V723.50M645.60,720.30V723.50M656.90,720.30V723.50M668.20,720.30V723.50M679.50,720.30V723.50" stroke="#1a1a1a" stroke-width="1.1" fill="none"/>
<text transform="translate(613.00,746.60) matrix(1,0.002,0,1,0,0)" font-size="9.6" text-anchor="middle" fill="#111" textLength="34.30" lengthAdjust="spacingAndGlyphs">Time (h)</text>
<text x="0" y="0" transform="translate(524.13,652.15) rotate(-90) matrix(1,0.002,0,1,0,0)" font-size="9.8" text-anchor="middle" fill="#111" style="stroke-width:0.06px" textLength="93.70" lengthAdjust="spacingAndGlyphs">Cumulative release (%)</text>
<path d="M549.00,571.80H557.40" stroke="#F07D35" stroke-width="1"/>
<circle cx="553.20" cy="571.80" r="2.65" fill="#F07D35"/>
<text transform="translate(562.00,574.00) matrix(1,0.002,0,1,0,0)" font-size="6.9" text-anchor="start" fill="#111" textLength="12.70" lengthAdjust="spacingAndGlyphs" style="stroke-width:0.1px">ZBD</text>
<path d="M549.00,582.10H557.40" stroke="#45AA45" stroke-width="1"/>
<rect x="550.55" y="579.45" width="5.30" height="5.30" fill="#45AA45"/>
<text transform="translate(562.00,584.30) matrix(1,0.002,0,1,0,0)" font-size="6.9" text-anchor="start" fill="#111" textLength="27.50" lengthAdjust="spacingAndGlyphs" style="stroke-width:0.1px">RPN-ZBD</text>
<path d="M549.00,593.40H557.40" stroke="#7D3D95" stroke-width="1"/>
<path d="M553.20,590.62 L556.12,595.78 L550.29,595.78Z" fill="#7D3D95"/>
<text transform="translate(562.00,595.60) matrix(1,0.002,0,1,0,0)" font-size="6.9" text-anchor="start" fill="#111" textLength="19.30" lengthAdjust="spacingAndGlyphs" style="stroke-width:0.1px">N-ZBD</text>
<path d="M549.00,603.50H557.40" stroke="#E8424C" stroke-width="1"/>
<path d="M553.20,606.28 L556.12,601.12 L550.29,601.12Z" fill="#E8424C"/>
<text transform="translate(562.00,605.70) matrix(1,0.002,0,1,0,0)" font-size="6.9" text-anchor="start" fill="#111" textLength="28.80" lengthAdjust="spacingAndGlyphs" style="stroke-width:0.1px">Free drugs</text>
<polyline points="543.90,720.30 555.20,674.00 566.50,646.70 589.10,619.13 611.70,602.12 645.60,596.97 679.50,595.26" stroke="#E8424C" stroke-width="1" fill="none"/>
<path d="M555.20,679.28V668.73M553.10,679.28H557.30M553.10,668.73H557.30" stroke="#E8424C" stroke-width="0.9" fill="none"/>
<path d="M566.50,655.93V637.47M564.40,655.93H568.60M564.40,637.47H568.60" stroke="#E8424C" stroke-width="0.9" fill="none"/>
<path d="M589.10,621.77V616.49M587.00,621.77H591.20M587.00,616.49H591.20" stroke="#E8424C" stroke-width="0.9" fill="none"/>
<path d="M611.70,604.76V599.48M609.60,604.76H613.80M609.60,599.48H613.80" stroke="#E8424C" stroke-width="0.9" fill="none"/>
<path d="M543.90,723.08 L546.81,717.91 L540.99,717.91Z" fill="#E8424C"/>
<path d="M555.20,676.79 L558.11,671.62 L552.28,671.62Z" fill="#E8424C"/>
<path d="M566.50,649.48 L569.41,644.31 L563.59,644.31Z" fill="#E8424C"/>
<path d="M589.10,621.92 L592.01,616.75 L586.19,616.75Z" fill="#E8424C"/>
<path d="M611.70,604.90 L614.62,599.73 L608.79,599.73Z" fill="#E8424C"/>
<path d="M645.60,599.76 L648.51,594.59 L642.69,594.59Z" fill="#E8424C"/>
<path d="M679.50,598.04 L682.41,592.87 L676.59,592.87Z" fill="#E8424C"/>
<polyline points="543.90,720.30 555.20,705.79 566.50,687.32 589.10,664.37 611.70,641.16 645.60,622.43 679.50,612.27" stroke="#7D3D95" stroke-width="1" fill="none"/>
<path d="M543.90,717.52 L546.81,722.68 L540.99,722.68Z" fill="#7D3D95"/>
<path d="M555.20,703.01 L558.11,708.18 L552.28,708.18Z" fill="#7D3D95"/>
<path d="M566.50,684.54 L569.41,689.71 L563.59,689.71Z" fill="#7D3D95"/>
<path d="M589.10,661.59 L592.01,666.76 L586.19,666.76Z" fill="#7D3D95"/>
<path d="M611.70,638.38 L614.62,643.54 L608.79,643.54Z" fill="#7D3D95"/>
<path d="M645.60,619.65 L648.51,624.82 L642.69,624.82Z" fill="#7D3D95"/>
<path d="M679.50,609.49 L682.41,614.66 L676.59,614.66Z" fill="#7D3D95"/>
<polyline points="543.90,720.30 555.20,692.73 566.50,670.18 589.10,637.47 611.70,617.42 645.60,602.25 679.50,597.76" stroke="#45AA45" stroke-width="1" fill="none"/>
<path d="M555.20,695.37V690.09M553.10,695.37H557.30M553.10,690.09H557.30" stroke="#45AA45" stroke-width="0.9" fill="none"/>
<path d="M566.50,676.77V663.58M564.40,676.77H568.60M564.40,663.58H568.60" stroke="#45AA45" stroke-width="0.9" fill="none"/>
<rect x="541.25" y="717.65" width="5.30" height="5.30" fill="#45AA45"/>
<rect x="552.55" y="690.08" width="5.30" height="5.30" fill="#45AA45"/>
<rect x="563.85" y="667.53" width="5.30" height="5.30" fill="#45AA45"/>
<rect x="586.45" y="634.82" width="5.30" height="5.30" fill="#45AA45"/>
<rect x="609.05" y="614.77" width="5.30" height="5.30" fill="#45AA45"/>
<rect x="642.95" y="599.60" width="5.30" height="5.30" fill="#45AA45"/>
<rect x="676.85" y="595.11" width="5.30" height="5.30" fill="#45AA45"/>
<polyline points="543.90,720.30 555.20,699.06 566.50,683.37 589.10,646.44 611.70,624.01 645.60,616.10 679.50,608.32" stroke="#F07D35" stroke-width="1" fill="none"/>
<path d="M589.10,649.07V643.80M587.00,649.07H591.20M587.00,643.80H591.20" stroke="#F07D35" stroke-width="0.9" fill="none"/>
<path d="M611.70,627.97V620.06M609.60,627.97H613.80M609.60,620.06H613.80" stroke="#F07D35" stroke-width="0.9" fill="none"/>
<circle cx="543.90" cy="720.30" r="2.65" fill="#F07D35"/>
<circle cx="555.20" cy="699.06" r="2.65" fill="#F07D35"/>
<circle cx="566.50" cy="683.37" r="2.65" fill="#F07D35"/>
<circle cx="589.10" cy="646.44" r="2.65" fill="#F07D35"/>
<circle cx="611.70" cy="624.01" r="2.65" fill="#F07D35"/>
<circle cx="645.60" cy="616.10" r="2.65" fill="#F07D35"/>
<circle cx="679.50" cy="608.32" r="2.65" fill="#F07D35"/>
<text transform="translate(10.45,769.00) matrix(1,0.002,0,1,0,0)" font-size="21.37" text-anchor="start" fill="#0a0a0a" textLength="24.21" lengthAdjust="spacingAndGlyphs">E5</text>
<path d="M31.25,786.15V912.00H170.80" stroke="#1a1a1a" stroke-width="1.25" fill="none"/>
<text transform="translate(27.45,914.90) matrix(1,0.002,0,1,0,0)" font-size="9.2" text-anchor="end" fill="#111" textLength="4.30" lengthAdjust="spacingAndGlyphs">0</text>
<text transform="translate(27.45,889.85) matrix(1,0.002,0,1,0,0)" font-size="9.2" text-anchor="end" fill="#111" textLength="8.60" lengthAdjust="spacingAndGlyphs">20</text>
<text transform="translate(27.45,864.80) matrix(1,0.002,0,1,0,0)" font-size="9.2" text-anchor="end" fill="#111" textLength="8.60" lengthAdjust="spacingAndGlyphs">40</text>
<text transform="translate(27.45,839.75) matrix(1,0.002,0,1,0,0)" font-size="9.2" text-anchor="end" fill="#111" textLength="8.60" lengthAdjust="spacingAndGlyphs">60</text>
<text transform="translate(27.45,814.70) matrix(1,0.002,0,1,0,0)" font-size="9.2" text-anchor="end" fill="#111" textLength="8.60" lengthAdjust="spacingAndGlyphs">80</text>
<text transform="translate(27.45,789.65) matrix(1,0.002,0,1,0,0)" font-size="9.2" text-anchor="end" fill="#111" textLength="12.00" lengthAdjust="spacingAndGlyphs">100</text>
<text transform="translate(31.25,924.60) matrix(1,0.002,0,1,0,0)" font-size="9.2" text-anchor="middle" fill="#111" textLength="4.30" lengthAdjust="spacingAndGlyphs">0</text>
<text transform="translate(42.83,924.60) matrix(1,0.002,0,1,0,0)" font-size="9.2" text-anchor="middle" fill="#111" textLength="4.30" lengthAdjust="spacingAndGlyphs">1</text>
<text transform="translate(54.41,924.60) matrix(1,0.002,0,1,0,0)" font-size="9.2" text-anchor="middle" fill="#111" textLength="4.30" lengthAdjust="spacingAndGlyphs">2</text>
<text transform="translate(65.99,924.60) matrix(1,0.002,0,1,0,0)" font-size="9.2" text-anchor="middle" fill="#111" textLength="4.30" lengthAdjust="spacingAndGlyphs">3</text>
<text transform="translate(77.57,924.60) matrix(1,0.002,0,1,0,0)" font-size="9.2" text-anchor="middle" fill="#111" textLength="4.30" lengthAdjust="spacingAndGlyphs">4</text>
<text transform="translate(89.15,924.60) matrix(1,0.002,0,1,0,0)" font-size="9.2" text-anchor="middle" fill="#111" textLength="4.30" lengthAdjust="spacingAndGlyphs">5</text>
<text transform="translate(100.72,924.60) matrix(1,0.002,0,1,0,0)" font-size="9.2" text-anchor="middle" fill="#111" textLength="4.30" lengthAdjust="spacingAndGlyphs">6</text>
<text transform="translate(112.30,924.60) matrix(1,0.002,0,1,0,0)" font-size="9.2" text-anchor="middle" fill="#111" textLength="4.30" lengthAdjust="spacingAndGlyphs">7</text>
<text transform="translate(123.88,924.60) matrix(1,0.002,0,1,0,0)" font-size="9.2" text-anchor="middle" fill="#111" textLength="4.30" lengthAdjust="spacingAndGlyphs">8</text>
<text transform="translate(135.46,924.60) matrix(1,0.002,0,1,0,0)" font-size="9.2" text-anchor="middle" fill="#111" textLength="4.30" lengthAdjust="spacingAndGlyphs">9</text>
<text transform="translate(147.04,924.60) matrix(1,0.002,0,1,0,0)" font-size="9.2" text-anchor="middle" fill="#111" textLength="8.60" lengthAdjust="spacingAndGlyphs">10</text>
<text transform="translate(158.62,924.60) matrix(1,0.002,0,1,0,0)" font-size="9.2" text-anchor="middle" fill="#111" textLength="8.60" lengthAdjust="spacingAndGlyphs">11</text>
<text transform="translate(170.20,924.60) matrix(1,0.002,0,1,0,0)" font-size="9.2" text-anchor="middle" fill="#111" textLength="8.60" lengthAdjust="spacingAndGlyphs">12</text>
<path d="M27.65,912.00H31.25M27.65,886.95H31.25M27.65,861.90H31.25M27.65,836.85H31.25M27.65,811.80H31.25M27.65,786.75H31.25M31.25,912.00V915.20M42.83,912.00V915.20M54.41,912.00V915.20M65.99,912.00V915.20M77.57,912.00V915.20M89.15,912.00V915.20M100.72,912.00V915.20M112.30,912.00V915.20M123.88,912.00V915.20M135.46,912.00V915.20M147.04,912.00V915.20M158.62,912.00V915.20M170.20,912.00V915.20" stroke="#1a1a1a" stroke-width="1.1" fill="none"/>
<text transform="translate(101.25,937.35) matrix(1,0.002,0,1,0,0)" font-size="9.6" text-anchor="middle" fill="#111" textLength="34.30" lengthAdjust="spacingAndGlyphs">Time (h)</text>
<text x="0" y="0" transform="translate(9.98,849.08) rotate(-90) matrix(1,0.002,0,1,0,0)" font-size="9.8" text-anchor="middle" fill="#111" style="stroke-width:0.06px" textLength="91.50" lengthAdjust="spacingAndGlyphs">Cumulative release (%)</text>
<path d="M36.55,768.75H44.95" stroke="#F07D35" stroke-width="1"/>
<circle cx="40.75" cy="768.75" r="2.65" fill="#F07D35"/>
<text transform="translate(49.50,770.95) matrix(1,0.002,0,1,0,0)" font-size="6.9" text-anchor="start" fill="#111" textLength="12.70" lengthAdjust="spacingAndGlyphs" style="stroke-width:0.1px">ZBD</text>
<path d="M36.55,779.25H44.95" stroke="#45AA45" stroke-width="1"/>
<rect x="38.10" y="776.60" width="5.30" height="5.30" fill="#45AA45"/>
<text transform="translate(49.50,781.45) matrix(1,0.002,0,1,0,0)" font-size="6.9" text-anchor="start" fill="#111" textLength="27.50" lengthAdjust="spacingAndGlyphs" style="stroke-width:0.1px">RPN-ZBD</text>
<path d="M36.55,789.50H44.95" stroke="#7D3D95" stroke-width="1"/>
<path d="M40.75,786.72 L43.66,791.88 L37.84,791.88Z" fill="#7D3D95"/>
<text transform="translate(49.50,791.70) matrix(1,0.002,0,1,0,0)" font-size="6.9" text-anchor="start" fill="#111" textLength="19.30" lengthAdjust="spacingAndGlyphs" style="stroke-width:0.1px">N-ZBD</text>
<path d="M36.55,799.50H44.95" stroke="#E8424C" stroke-width="1"/>
<path d="M40.75,802.28 L43.66,797.12 L37.84,797.12Z" fill="#E8424C"/>
<text transform="translate(49.50,801.70) matrix(1,0.002,0,1,0,0)" font-size="6.9" text-anchor="start" fill="#111" textLength="28.80" lengthAdjust="spacingAndGlyphs" style="stroke-width:0.1px">Free drugs</text>
<polyline points="31.25,912.00 42.83,865.66 54.41,841.11 77.57,815.56 100.72,797.27 135.46,791.01 170.20,791.01" stroke="#E8424C" stroke-width="1" fill="none"/>
<path d="M31.25,914.78 L34.16,909.62 L28.34,909.62Z" fill="#E8424C"/>
<path d="M42.83,868.44 L45.74,863.27 L39.91,863.27Z" fill="#E8424C"/>
<path d="M54.41,843.89 L57.32,838.72 L51.49,838.72Z" fill="#E8424C"/>
<path d="M77.57,818.34 L80.48,813.17 L74.65,813.17Z" fill="#E8424C"/>
<path d="M100.72,800.05 L103.64,794.89 L97.81,794.89Z" fill="#E8424C"/>
<path d="M135.46,793.79 L138.38,788.62 L132.55,788.62Z" fill="#E8424C"/>
<path d="M170.20,793.79 L173.11,788.62 L167.28,788.62Z" fill="#E8424C"/>
<polyline points="31.25,912.00 42.83,893.21 54.41,869.41 77.57,843.86 100.72,818.06 135.46,801.03 170.20,793.51" stroke="#7D3D95" stroke-width="1" fill="none"/>
<path d="M31.25,909.22 L34.16,914.38 L28.34,914.38Z" fill="#7D3D95"/>
<path d="M42.83,890.43 L45.74,895.60 L39.91,895.60Z" fill="#7D3D95"/>
<path d="M54.41,866.63 L57.32,871.80 L51.49,871.80Z" fill="#7D3D95"/>
<path d="M77.57,841.08 L80.48,846.25 L74.65,846.25Z" fill="#7D3D95"/>
<path d="M100.72,815.28 L103.64,820.45 L97.81,820.45Z" fill="#7D3D95"/>
<path d="M135.46,798.25 L138.38,803.41 L132.55,803.41Z" fill="#7D3D95"/>
<path d="M170.20,790.73 L173.11,795.90 L167.28,795.90Z" fill="#7D3D95"/>
<polyline points="31.25,912.00 42.83,880.19 54.41,850.63 77.57,809.80 100.72,799.02 135.46,789.00 170.20,787.25" stroke="#45AA45" stroke-width="1" fill="none"/>
<path d="M54.41,855.64V845.62M52.31,855.64H56.51M52.31,845.62H56.51" stroke="#45AA45" stroke-width="0.9" fill="none"/>
<rect x="28.60" y="909.35" width="5.30" height="5.30" fill="#45AA45"/>
<rect x="40.18" y="877.54" width="5.30" height="5.30" fill="#45AA45"/>
<rect x="51.76" y="847.98" width="5.30" height="5.30" fill="#45AA45"/>
<rect x="74.92" y="807.15" width="5.30" height="5.30" fill="#45AA45"/>
<rect x="98.07" y="796.37" width="5.30" height="5.30" fill="#45AA45"/>
<rect x="132.81" y="786.35" width="5.30" height="5.30" fill="#45AA45"/>
<rect x="167.55" y="784.60" width="5.30" height="5.30" fill="#45AA45"/>
<polyline points="31.25,912.00 42.83,883.19 54.41,863.65 77.57,832.59 100.72,811.80 135.46,799.27 170.20,794.01" stroke="#F07D35" stroke-width="1" fill="none"/>
<path d="M54.41,869.92V857.39M52.31,869.92H56.51M52.31,857.39H56.51" stroke="#F07D35" stroke-width="0.9" fill="none"/>
<path d="M77.57,836.35V828.83M75.47,836.35H79.67M75.47,828.83H79.67" stroke="#F07D35" stroke-width="0.9" fill="none"/>
<path d="M100.72,815.56V808.04M98.62,815.56H102.82M98.62,808.04H102.82" stroke="#F07D35" stroke-width="0.9" fill="none"/>
<circle cx="31.25" cy="912.00" r="2.65" fill="#F07D35"/>
<circle cx="42.83" cy="883.19" r="2.65" fill="#F07D35"/>
<circle cx="54.41" cy="863.65" r="2.65" fill="#F07D35"/>
<circle cx="77.57" cy="832.59" r="2.65" fill="#F07D35"/>
<circle cx="100.72" cy="811.80" r="2.65" fill="#F07D35"/>
<circle cx="135.46" cy="799.27" r="2.65" fill="#F07D35"/>
<circle cx="170.20" cy="794.01" r="2.65" fill="#F07D35"/>
<text transform="translate(182.73,769.00) matrix(1,0.002,0,1,0,0)" font-size="22.29" text-anchor="start" fill="#0a0a0a" textLength="24.99" lengthAdjust="spacingAndGlyphs">E6</text>
<path d="M201.75,783.15V912.75H335.30" stroke="#1a1a1a" stroke-width="1.25" fill="none"/>
<text transform="translate(197.95,915.65) matrix(1,0.002,0,1,0,0)" font-size="9.2" text-anchor="end" fill="#111" textLength="4.30" lengthAdjust="spacingAndGlyphs">0</text>
<text transform="translate(197.95,889.85) matrix(1,0.002,0,1,0,0)" font-size="9.2" text-anchor="end" fill="#111" textLength="8.60" lengthAdjust="spacingAndGlyphs">20</text>
<text transform="translate(197.95,864.05) matrix(1,0.002,0,1,0,0)" font-size="9.2" text-anchor="end" fill="#111" textLength="8.60" lengthAdjust="spacingAndGlyphs">40</text>
<text transform="translate(197.95,838.25) matrix(1,0.002,0,1,0,0)" font-size="9.2" text-anchor="end" fill="#111" textLength="8.60" lengthAdjust="spacingAndGlyphs">60</text>
<text transform="translate(197.95,812.45) matrix(1,0.002,0,1,0,0)" font-size="9.2" text-anchor="end" fill="#111" textLength="8.60" lengthAdjust="spacingAndGlyphs">80</text>
<text transform="translate(197.95,786.65) matrix(1,0.002,0,1,0,0)" font-size="9.2" text-anchor="end" fill="#111" textLength="12.00" lengthAdjust="spacingAndGlyphs">100</text>
<text transform="translate(201.75,925.35) matrix(1,0.002,0,1,0,0)" font-size="9.2" text-anchor="middle" fill="#111" textLength="4.30" lengthAdjust="spacingAndGlyphs">0</text>
<text transform="translate(212.83,925.35) matrix(1,0.002,0,1,0,0)" font-size="9.2" text-anchor="middle" fill="#111" textLength="4.30" lengthAdjust="spacingAndGlyphs">1</text>
<text transform="translate(223.91,925.35) matrix(1,0.002,0,1,0,0)" font-size="9.2" text-anchor="middle" fill="#111" textLength="4.30" lengthAdjust="spacingAndGlyphs">2</text>
<text transform="translate(234.99,925.35) matrix(1,0.002,0,1,0,0)" font-size="9.2" text-anchor="middle" fill="#111" textLength="4.30" lengthAdjust="spacingAndGlyphs">3</text>
<text transform="translate(246.07,925.35) matrix(1,0.002,0,1,0,0)" font-size="9.2" text-anchor="middle" fill="#111" textLength="4.30" lengthAdjust="spacingAndGlyphs">4</text>
<text transform="translate(257.15,925.35) matrix(1,0.002,0,1,0,0)" font-size="9.2" text-anchor="middle" fill="#111" textLength="4.30" lengthAdjust="spacingAndGlyphs">5</text>
<text transform="translate(268.23,925.35) matrix(1,0.002,0,1,0,0)" font-size="9.2" text-anchor="middle" fill="#111" textLength="4.30" lengthAdjust="spacingAndGlyphs">6</text>
<text transform="translate(279.30,925.35) matrix(1,0.002,0,1,0,0)" font-size="9.2" text-anchor="middle" fill="#111" textLength="4.30" lengthAdjust="spacingAndGlyphs">7</text>
<text transform="translate(290.38,925.35) matrix(1,0.002,0,1,0,0)" font-size="9.2" text-anchor="middle" fill="#111" textLength="4.30" lengthAdjust="spacingAndGlyphs">8</text>
<text transform="translate(301.46,925.35) matrix(1,0.002,0,1,0,0)" font-size="9.2" text-anchor="middle" fill="#111" textLength="4.30" lengthAdjust="spacingAndGlyphs">9</text>
<text transform="translate(312.54,925.35) matrix(1,0.002,0,1,0,0)" font-size="9.2" text-anchor="middle" fill="#111" textLength="8.60" lengthAdjust="spacingAndGlyphs">10</text>
<text transform="translate(323.62,925.35) matrix(1,0.002,0,1,0,0)" font-size="9.2" text-anchor="middle" fill="#111" textLength="8.60" lengthAdjust="spacingAndGlyphs">11</text>
<text transform="translate(334.70,925.35) matrix(1,0.002,0,1,0,0)" font-size="9.2" text-anchor="middle" fill="#111" textLength="8.60" lengthAdjust="spacingAndGlyphs">12</text>
<path d="M198.15,912.75H201.75M198.15,886.95H201.75M198.15,861.15H201.75M198.15,835.35H201.75M198.15,809.55H201.75M198.15,783.75H201.75M201.75,912.75V915.95M212.83,912.75V915.95M223.91,912.75V915.95M234.99,912.75V915.95M246.07,912.75V915.95M257.15,912.75V915.95M268.23,912.75V915.95M279.30,912.75V915.95M290.38,912.75V915.95M301.46,912.75V915.95M312.54,912.75V915.95M323.62,912.75V915.95M334.70,912.75V915.95" stroke="#1a1a1a" stroke-width="1.1" fill="none"/>
<text transform="translate(269.25,938.10) matrix(1,0.002,0,1,0,0)" font-size="9.6" text-anchor="middle" fill="#111" textLength="34.30" lengthAdjust="spacingAndGlyphs">Time (h)</text>
<text x="0" y="0" transform="translate(180.98,845.75) rotate(-90) matrix(1,0.002,0,1,0,0)" font-size="9.8" text-anchor="middle" fill="#111" style="stroke-width:0.06px" textLength="93.00" lengthAdjust="spacingAndGlyphs">Cumulative release (%)</text>
<path d="M206.05,767.00H214.45" stroke="#F07D35" stroke-width="1"/>
<circle cx="210.25" cy="767.00" r="2.65" fill="#F07D35"/>
<text transform="translate(219.25,769.20) matrix(1,0.002,0,1,0,0)" font-size="6.9" text-anchor="start" fill="#111" textLength="12.70" lengthAdjust="spacingAndGlyphs" style="stroke-width:0.1px">ZBD</text>
<path d="M206.05,777.50H214.45" stroke="#45AA45" stroke-width="1"/>
<rect x="207.60" y="774.85" width="5.30" height="5.30" fill="#45AA45"/>
<text transform="translate(219.25,779.70) matrix(1,0.002,0,1,0,0)" font-size="6.9" text-anchor="start" fill="#111" textLength="27.50" lengthAdjust="spacingAndGlyphs" style="stroke-width:0.1px">RPN-ZBD</text>
<path d="M206.05,788.00H214.45" stroke="#7D3D95" stroke-width="1"/>
<path d="M210.25,785.22 L213.16,790.38 L207.34,790.38Z" fill="#7D3D95"/>
<text transform="translate(219.25,790.20) matrix(1,0.002,0,1,0,0)" font-size="6.9" text-anchor="start" fill="#111" textLength="19.30" lengthAdjust="spacingAndGlyphs" style="stroke-width:0.1px">N-ZBD</text>
<path d="M206.05,798.00H214.45" stroke="#E8424C" stroke-width="1"/>
<path d="M210.25,800.78 L213.16,795.62 L207.34,795.62Z" fill="#E8424C"/>
<text transform="translate(219.25,800.20) matrix(1,0.002,0,1,0,0)" font-size="6.9" text-anchor="start" fill="#111" textLength="28.80" lengthAdjust="spacingAndGlyphs" style="stroke-width:0.1px">Free drugs</text>
<polyline points="201.75,912.75 212.83,866.31 223.91,840.77 246.07,814.97 268.23,797.55 301.46,792.01 334.70,790.72" stroke="#E8424C" stroke-width="1" fill="none"/>
<path d="M223.91,843.35V838.19M221.81,843.35H226.01M221.81,838.19H226.01" stroke="#E8424C" stroke-width="0.9" fill="none"/>
<path d="M201.75,915.53 L204.66,910.37 L198.84,910.37Z" fill="#E8424C"/>
<path d="M212.83,869.09 L215.74,863.92 L209.91,863.92Z" fill="#E8424C"/>
<path d="M223.91,843.55 L226.82,838.38 L220.99,838.38Z" fill="#E8424C"/>
<path d="M246.07,817.75 L248.98,812.58 L243.15,812.58Z" fill="#E8424C"/>
<path d="M268.23,800.34 L271.14,795.17 L265.31,795.17Z" fill="#E8424C"/>
<path d="M301.46,794.79 L304.38,789.62 L298.55,789.62Z" fill="#E8424C"/>
<path d="M334.70,793.50 L337.62,788.33 L331.78,788.33Z" fill="#E8424C"/>
<polyline points="201.75,912.75 212.83,892.11 223.91,872.50 246.07,845.02 268.23,823.22 301.46,808.00 334.70,801.29" stroke="#7D3D95" stroke-width="1" fill="none"/>
<path d="M212.83,895.98V888.24M210.73,895.98H214.93M210.73,888.24H214.93" stroke="#7D3D95" stroke-width="0.9" fill="none"/>
<path d="M201.75,909.97 L204.66,915.13 L198.84,915.13Z" fill="#7D3D95"/>
<path d="M212.83,889.33 L215.74,894.50 L209.91,894.50Z" fill="#7D3D95"/>
<path d="M223.91,869.72 L226.82,874.89 L220.99,874.89Z" fill="#7D3D95"/>
<path d="M246.07,842.24 L248.98,847.41 L243.15,847.41Z" fill="#7D3D95"/>
<path d="M268.23,820.44 L271.14,825.61 L265.31,825.61Z" fill="#7D3D95"/>
<path d="M301.46,805.22 L304.38,810.39 L298.55,810.39Z" fill="#7D3D95"/>
<path d="M334.70,798.51 L337.62,803.68 L331.78,803.68Z" fill="#7D3D95"/>
<polyline points="201.75,912.75 212.83,880.76 223.91,857.02 246.07,816.26 268.23,806.97 301.46,796.26 334.70,793.04" stroke="#45AA45" stroke-width="1" fill="none"/>
<rect x="199.10" y="910.10" width="5.30" height="5.30" fill="#45AA45"/>
<rect x="210.18" y="878.11" width="5.30" height="5.30" fill="#45AA45"/>
<rect x="221.26" y="854.37" width="5.30" height="5.30" fill="#45AA45"/>
<rect x="243.42" y="813.61" width="5.30" height="5.30" fill="#45AA45"/>
<rect x="265.58" y="804.32" width="5.30" height="5.30" fill="#45AA45"/>
<rect x="298.81" y="793.61" width="5.30" height="5.30" fill="#45AA45"/>
<rect x="332.05" y="790.39" width="5.30" height="5.30" fill="#45AA45"/>
<polyline points="201.75,912.75 212.83,884.50 223.91,870.70 246.07,836.25 268.23,818.71 301.46,805.03 334.70,799.49" stroke="#F07D35" stroke-width="1" fill="none"/>
<circle cx="201.75" cy="912.75" r="2.65" fill="#F07D35"/>
<circle cx="212.83" cy="884.50" r="2.65" fill="#F07D35"/>
<circle cx="223.91" cy="870.70" r="2.65" fill="#F07D35"/>
<circle cx="246.07" cy="836.25" r="2.65" fill="#F07D35"/>
<circle cx="268.23" cy="818.71" r="2.65" fill="#F07D35"/>
<circle cx="301.46" cy="805.03" r="2.65" fill="#F07D35"/>
<circle cx="334.70" cy="799.49" r="2.65" fill="#F07D35"/>
<text transform="translate(351.70,767.00) matrix(1,0.002,0,1,0,0)" font-size="21.53" text-anchor="start" fill="#0a0a0a" textLength="20.63" lengthAdjust="spacingAndGlyphs">E7</text>
<path d="M370.25,780.65V913.25H505.10" stroke="#1a1a1a" stroke-width="1.25" fill="none"/>
<text transform="translate(366.45,916.15) matrix(1,0.002,0,1,0,0)" font-size="9.2" text-anchor="end" fill="#111" textLength="4.30" lengthAdjust="spacingAndGlyphs">0</text>
<text transform="translate(366.45,889.75) matrix(1,0.002,0,1,0,0)" font-size="9.2" text-anchor="end" fill="#111" textLength="8.60" lengthAdjust="spacingAndGlyphs">20</text>
<text transform="translate(366.45,863.35) matrix(1,0.002,0,1,0,0)" font-size="9.2" text-anchor="end" fill="#111" textLength="8.60" lengthAdjust="spacingAndGlyphs">40</text>
<text transform="translate(366.45,836.95) matrix(1,0.002,0,1,0,0)" font-size="9.2" text-anchor="end" fill="#111" textLength="8.60" lengthAdjust="spacingAndGlyphs">60</text>
<text transform="translate(366.45,810.55) matrix(1,0.002,0,1,0,0)" font-size="9.2" text-anchor="end" fill="#111" textLength="8.60" lengthAdjust="spacingAndGlyphs">80</text>
<text transform="translate(366.45,784.15) matrix(1,0.002,0,1,0,0)" font-size="9.2" text-anchor="end" fill="#111" textLength="12.00" lengthAdjust="spacingAndGlyphs">100</text>
<text transform="translate(370.25,925.85) matrix(1,0.002,0,1,0,0)" font-size="9.2" text-anchor="middle" fill="#111" textLength="4.30" lengthAdjust="spacingAndGlyphs">0</text>
<text transform="translate(381.44,925.85) matrix(1,0.002,0,1,0,0)" font-size="9.2" text-anchor="middle" fill="#111" textLength="4.30" lengthAdjust="spacingAndGlyphs">1</text>
<text transform="translate(392.62,925.85) matrix(1,0.002,0,1,0,0)" font-size="9.2" text-anchor="middle" fill="#111" textLength="4.30" lengthAdjust="spacingAndGlyphs">2</text>
<text transform="translate(403.81,925.85) matrix(1,0.002,0,1,0,0)" font-size="9.2" text-anchor="middle" fill="#111" textLength="4.30" lengthAdjust="spacingAndGlyphs">3</text>
<text transform="translate(415.00,925.85) matrix(1,0.002,0,1,0,0)" font-size="9.2" text-anchor="middle" fill="#111" textLength="4.30" lengthAdjust="spacingAndGlyphs">4</text>
<text transform="translate(426.19,925.85) matrix(1,0.002,0,1,0,0)" font-size="9.2" text-anchor="middle" fill="#111" textLength="4.30" lengthAdjust="spacingAndGlyphs">5</text>
<text transform="translate(437.38,925.85) matrix(1,0.002,0,1,0,0)" font-size="9.2" text-anchor="middle" fill="#111" textLength="4.30" lengthAdjust="spacingAndGlyphs">6</text>
<text transform="translate(448.56,925.85) matrix(1,0.002,0,1,0,0)" font-size="9.2" text-anchor="middle" fill="#111" textLength="4.30" lengthAdjust="spacingAndGlyphs">7</text>
<text transform="translate(459.75,925.85) matrix(1,0.002,0,1,0,0)" font-size="9.2" text-anchor="middle" fill="#111" textLength="4.30" lengthAdjust="spacingAndGlyphs">8</text>
<text transform="translate(470.94,925.85) matrix(1,0.002,0,1,0,0)" font-size="9.2" text-anchor="middle" fill="#111" textLength="4.30" lengthAdjust="spacingAndGlyphs">9</text>
<text transform="translate(482.12,925.85) matrix(1,0.002,0,1,0,0)" font-size="9.2" text-anchor="middle" fill="#111" textLength="8.60" lengthAdjust="spacingAndGlyphs">10</text>
<text transform="translate(493.31,925.85) matrix(1,0.002,0,1,0,0)" font-size="9.2" text-anchor="middle" fill="#111" textLength="8.60" lengthAdjust="spacingAndGlyphs">11</text>
<text transform="translate(504.50,925.85) matrix(1,0.002,0,1,0,0)" font-size="9.2" text-anchor="middle" fill="#111" textLength="8.60" lengthAdjust="spacingAndGlyphs">12</text>
<path d="M366.65,913.25H370.25M366.65,886.85H370.25M366.65,860.45H370.25M366.65,834.05H370.25M366.65,807.65H370.25M366.65,781.25H370.25M370.25,913.25V916.45M381.44,913.25V916.45M392.62,913.25V916.45M403.81,913.25V916.45M415.00,913.25V916.45M426.19,913.25V916.45M437.38,913.25V916.45M448.56,913.25V916.45M459.75,913.25V916.45M470.94,913.25V916.45M482.12,913.25V916.45M493.31,913.25V916.45M504.50,913.25V916.45" stroke="#1a1a1a" stroke-width="1.1" fill="none"/>
<text transform="translate(437.75,939.35) matrix(1,0.002,0,1,0,0)" font-size="9.6" text-anchor="middle" fill="#111" textLength="34.30" lengthAdjust="spacingAndGlyphs">Time (h)</text>
<text x="0" y="0" transform="translate(349.48,844.35) rotate(-90) matrix(1,0.002,0,1,0,0)" font-size="9.8" text-anchor="middle" fill="#111" style="stroke-width:0.06px" textLength="95.20" lengthAdjust="spacingAndGlyphs">Cumulative release (%)</text>
<path d="M374.55,765.50H382.95" stroke="#F07D35" stroke-width="1"/>
<circle cx="378.75" cy="765.50" r="2.65" fill="#F07D35"/>
<text transform="translate(387.75,767.70) matrix(1,0.002,0,1,0,0)" font-size="6.9" text-anchor="start" fill="#111" textLength="12.70" lengthAdjust="spacingAndGlyphs" style="stroke-width:0.1px">ZBD</text>
<path d="M374.55,775.75H382.95" stroke="#45AA45" stroke-width="1"/>
<rect x="376.10" y="773.10" width="5.30" height="5.30" fill="#45AA45"/>
<text transform="translate(387.75,777.95) matrix(1,0.002,0,1,0,0)" font-size="6.9" text-anchor="start" fill="#111" textLength="27.50" lengthAdjust="spacingAndGlyphs" style="stroke-width:0.1px">RPN-ZBD</text>
<path d="M374.55,786.25H382.95" stroke="#7D3D95" stroke-width="1"/>
<path d="M378.75,783.47 L381.67,788.63 L375.83,788.63Z" fill="#7D3D95"/>
<text transform="translate(387.75,788.45) matrix(1,0.002,0,1,0,0)" font-size="6.9" text-anchor="start" fill="#111" textLength="19.30" lengthAdjust="spacingAndGlyphs" style="stroke-width:0.1px">N-ZBD</text>
<path d="M374.55,796.75H382.95" stroke="#E8424C" stroke-width="1"/>
<path d="M378.75,799.53 L381.67,794.37 L375.83,794.37Z" fill="#E8424C"/>
<text transform="translate(387.75,798.95) matrix(1,0.002,0,1,0,0)" font-size="6.9" text-anchor="start" fill="#111" textLength="28.80" lengthAdjust="spacingAndGlyphs" style="stroke-width:0.1px">Free drugs</text>
<polyline points="370.25,913.25 381.44,849.36 392.62,823.49 415.00,796.30 437.38,790.75 470.94,783.23 504.50,782.04" stroke="#E8424C" stroke-width="1" fill="none"/>
<path d="M470.94,787.19V779.27M468.84,787.19H473.04M468.84,779.27H473.04" stroke="#E8424C" stroke-width="0.9" fill="none"/>
<path d="M370.25,916.03 L373.17,910.87 L367.33,910.87Z" fill="#E8424C"/>
<path d="M381.44,852.14 L384.35,846.98 L378.52,846.98Z" fill="#E8424C"/>
<path d="M392.62,826.27 L395.54,821.11 L389.71,821.11Z" fill="#E8424C"/>
<path d="M415.00,799.08 L417.92,793.91 L412.08,793.91Z" fill="#E8424C"/>
<path d="M437.38,793.54 L440.29,788.37 L434.46,788.37Z" fill="#E8424C"/>
<path d="M470.94,786.01 L473.85,780.85 L468.02,780.85Z" fill="#E8424C"/>
<path d="M504.50,784.82 L507.42,779.66 L501.58,779.66Z" fill="#E8424C"/>
<polyline points="370.25,913.25 381.44,891.60 392.62,870.22 415.00,841.05 437.38,809.10 470.94,798.41 504.50,790.75" stroke="#7D3D95" stroke-width="1" fill="none"/>
<path d="M381.44,896.88V886.32M379.34,896.88H383.54M379.34,886.32H383.54" stroke="#7D3D95" stroke-width="0.9" fill="none"/>
<path d="M437.38,823.62V794.58M435.27,823.62H439.48M435.27,794.58H439.48" stroke="#7D3D95" stroke-width="0.9" fill="none"/>
<path d="M370.25,910.47 L373.17,915.63 L367.33,915.63Z" fill="#7D3D95"/>
<path d="M381.44,888.82 L384.35,893.99 L378.52,893.99Z" fill="#7D3D95"/>
<path d="M392.62,867.44 L395.54,872.60 L389.71,872.60Z" fill="#7D3D95"/>
<path d="M415.00,838.26 L417.92,843.43 L412.08,843.43Z" fill="#7D3D95"/>
<path d="M437.38,806.32 L440.29,811.49 L434.46,811.49Z" fill="#7D3D95"/>
<path d="M470.94,795.63 L473.85,800.79 L468.02,800.79Z" fill="#7D3D95"/>
<path d="M504.50,787.97 L507.42,793.14 L501.58,793.14Z" fill="#7D3D95"/>
<polyline points="370.25,913.25 381.44,883.29 392.62,857.81 415.00,817.15 437.38,802.11 470.94,792.07 504.50,788.25" stroke="#45AA45" stroke-width="1" fill="none"/>
<path d="M392.62,863.09V852.53M390.52,863.09H394.73M390.52,852.53H394.73" stroke="#45AA45" stroke-width="0.9" fill="none"/>
<path d="M415.00,823.75V810.55M412.90,823.75H417.10M412.90,810.55H417.10" stroke="#45AA45" stroke-width="0.9" fill="none"/>
<path d="M437.38,808.71V795.51M435.27,808.71H439.48M435.27,795.51H439.48" stroke="#45AA45" stroke-width="0.9" fill="none"/>
<rect x="367.60" y="910.60" width="5.30" height="5.30" fill="#45AA45"/>
<rect x="378.79" y="880.64" width="5.30" height="5.30" fill="#45AA45"/>
<rect x="389.98" y="855.16" width="5.30" height="5.30" fill="#45AA45"/>
<rect x="412.35" y="814.50" width="5.30" height="5.30" fill="#45AA45"/>
<rect x="434.73" y="799.46" width="5.30" height="5.30" fill="#45AA45"/>
<rect x="468.29" y="789.42" width="5.30" height="5.30" fill="#45AA45"/>
<rect x="501.85" y="785.60" width="5.30" height="5.30" fill="#45AA45"/>
<polyline points="370.25,913.25 381.44,885.79 392.62,865.73 415.00,826.79 437.38,805.93 470.94,795.77 504.50,790.09" stroke="#F07D35" stroke-width="1" fill="none"/>
<path d="M381.44,892.39V879.19M379.34,892.39H383.54M379.34,879.19H383.54" stroke="#F07D35" stroke-width="0.9" fill="none"/>
<circle cx="370.25" cy="913.25" r="2.65" fill="#F07D35"/>
<circle cx="381.44" cy="885.79" r="2.65" fill="#F07D35"/>
<circle cx="392.62" cy="865.73" r="2.65" fill="#F07D35"/>
<circle cx="415.00" cy="826.79" r="2.65" fill="#F07D35"/>
<circle cx="437.38" cy="805.93" r="2.65" fill="#F07D35"/>
<circle cx="470.94" cy="795.77" r="2.65" fill="#F07D35"/>
<circle cx="504.50" cy="790.09" r="2.65" fill="#F07D35"/>
<text transform="translate(519.94,769.00) matrix(1,0.002,0,1,0,0)" font-size="22.29" text-anchor="start" fill="#0a0a0a" textLength="24.35" lengthAdjust="spacingAndGlyphs">E8</text>
<path d="M543.10,778.80V912.40H679.80" stroke="#1a1a1a" stroke-width="1.25" fill="none"/>
<text transform="translate(539.30,915.30) matrix(1,0.002,0,1,0,0)" font-size="9.2" text-anchor="end" fill="#111" textLength="4.30" lengthAdjust="spacingAndGlyphs">0</text>
<text transform="translate(539.30,888.70) matrix(1,0.002,0,1,0,0)" font-size="9.2" text-anchor="end" fill="#111" textLength="8.60" lengthAdjust="spacingAndGlyphs">20</text>
<text transform="translate(539.30,862.10) matrix(1,0.002,0,1,0,0)" font-size="9.2" text-anchor="end" fill="#111" textLength="8.60" lengthAdjust="spacingAndGlyphs">40</text>
<text transform="translate(539.30,835.50) matrix(1,0.002,0,1,0,0)" font-size="9.2" text-anchor="end" fill="#111" textLength="8.60" lengthAdjust="spacingAndGlyphs">60</text>
<text transform="translate(539.30,808.90) matrix(1,0.002,0,1,0,0)" font-size="9.2" text-anchor="end" fill="#111" textLength="8.60" lengthAdjust="spacingAndGlyphs">80</text>
<text transform="translate(539.30,782.30) matrix(1,0.002,0,1,0,0)" font-size="9.2" text-anchor="end" fill="#111" textLength="12.00" lengthAdjust="spacingAndGlyphs">100</text>
<text transform="translate(543.10,925.00) matrix(1,0.002,0,1,0,0)" font-size="9.2" text-anchor="middle" fill="#111" textLength="4.30" lengthAdjust="spacingAndGlyphs">0</text>
<text transform="translate(554.44,925.00) matrix(1,0.002,0,1,0,0)" font-size="9.2" text-anchor="middle" fill="#111" textLength="4.30" lengthAdjust="spacingAndGlyphs">1</text>
<text transform="translate(565.78,925.00) matrix(1,0.002,0,1,0,0)" font-size="9.2" text-anchor="middle" fill="#111" textLength="4.30" lengthAdjust="spacingAndGlyphs">2</text>
<text transform="translate(577.12,925.00) matrix(1,0.002,0,1,0,0)" font-size="9.2" text-anchor="middle" fill="#111" textLength="4.30" lengthAdjust="spacingAndGlyphs">3</text>
<text transform="translate(588.47,925.00) matrix(1,0.002,0,1,0,0)" font-size="9.2" text-anchor="middle" fill="#111" textLength="4.30" lengthAdjust="spacingAndGlyphs">4</text>
<text transform="translate(599.81,925.00) matrix(1,0.002,0,1,0,0)" font-size="9.2" text-anchor="middle" fill="#111" textLength="4.30" lengthAdjust="spacingAndGlyphs">5</text>
<text transform="translate(611.15,925.00) matrix(1,0.002,0,1,0,0)" font-size="9.2" text-anchor="middle" fill="#111" textLength="4.30" lengthAdjust="spacingAndGlyphs">6</text>
<text transform="translate(622.49,925.00) matrix(1,0.002,0,1,0,0)" font-size="9.2" text-anchor="middle" fill="#111" textLength="4.30" lengthAdjust="spacingAndGlyphs">7</text>
<text transform="translate(633.83,925.00) matrix(1,0.002,0,1,0,0)" font-size="9.2" text-anchor="middle" fill="#111" textLength="4.30" lengthAdjust="spacingAndGlyphs">8</text>
<text transform="translate(645.18,925.00) matrix(1,0.002,0,1,0,0)" font-size="9.2" text-anchor="middle" fill="#111" textLength="4.30" lengthAdjust="spacingAndGlyphs">9</text>
<text transform="translate(656.52,925.00) matrix(1,0.002,0,1,0,0)" font-size="9.2" text-anchor="middle" fill="#111" textLength="8.60" lengthAdjust="spacingAndGlyphs">10</text>
<text transform="translate(667.86,925.00) matrix(1,0.002,0,1,0,0)" font-size="9.2" text-anchor="middle" fill="#111" textLength="8.60" lengthAdjust="spacingAndGlyphs">11</text>
<text transform="translate(679.20,925.00) matrix(1,0.002,0,1,0,0)" font-size="9.2" text-anchor="middle" fill="#111" textLength="8.60" lengthAdjust="spacingAndGlyphs">12</text>
<path d="M539.50,912.40H543.10M539.50,885.80H543.10M539.50,859.20H543.10M539.50,832.60H543.10M539.50,806.00H543.10M539.50,779.40H543.10M543.10,912.40V915.60M554.44,912.40V915.60M565.78,912.40V915.60M577.12,912.40V915.60M588.47,912.40V915.60M599.81,912.40V915.60M611.15,912.40V915.60M622.49,912.40V915.60M633.83,912.40V915.60M645.18,912.40V915.60M656.52,912.40V915.60M667.86,912.40V915.60M679.20,912.40V915.60" stroke="#1a1a1a" stroke-width="1.1" fill="none"/>
<text transform="translate(612.20,938.60) matrix(1,0.002,0,1,0,0)" font-size="9.6" text-anchor="middle" fill="#111" textLength="34.30" lengthAdjust="spacingAndGlyphs">Time (h)</text>
<text x="0" y="0" transform="translate(522.33,841.10) rotate(-90) matrix(1,0.002,0,1,0,0)" font-size="9.8" text-anchor="middle" fill="#111" style="stroke-width:0.06px" textLength="93.00" lengthAdjust="spacingAndGlyphs">Cumulative release (%)</text>
<path d="M547.70,761.80H556.10" stroke="#F07D35" stroke-width="1"/>
<circle cx="551.90" cy="761.80" r="2.65" fill="#F07D35"/>
<text transform="translate(561.20,764.00) matrix(1,0.002,0,1,0,0)" font-size="6.9" text-anchor="start" fill="#111" textLength="12.70" lengthAdjust="spacingAndGlyphs" style="stroke-width:0.1px">ZBD</text>
<path d="M547.70,772.10H556.10" stroke="#45AA45" stroke-width="1"/>
<rect x="549.25" y="769.45" width="5.30" height="5.30" fill="#45AA45"/>
<text transform="translate(561.20,774.30) matrix(1,0.002,0,1,0,0)" font-size="6.9" text-anchor="start" fill="#111" textLength="27.50" lengthAdjust="spacingAndGlyphs" style="stroke-width:0.1px">RPN-ZBD</text>
<path d="M547.70,783.20H556.10" stroke="#7D3D95" stroke-width="1"/>
<path d="M551.90,780.42 L554.81,785.59 L548.99,785.59Z" fill="#7D3D95"/>
<text transform="translate(561.20,785.40) matrix(1,0.002,0,1,0,0)" font-size="6.9" text-anchor="start" fill="#111" textLength="19.30" lengthAdjust="spacingAndGlyphs" style="stroke-width:0.1px">N-ZBD</text>
<path d="M547.70,793.20H556.10" stroke="#E8424C" stroke-width="1"/>
<path d="M551.90,795.98 L554.81,790.82 L548.99,790.82Z" fill="#E8424C"/>
<text transform="translate(561.20,795.40) matrix(1,0.002,0,1,0,0)" font-size="6.9" text-anchor="start" fill="#111" textLength="28.80" lengthAdjust="spacingAndGlyphs" style="stroke-width:0.1px">Free drugs</text>
<polyline points="543.10,912.40 554.44,865.18 565.78,838.32 588.47,810.79 611.15,792.70 645.18,788.18 679.20,785.65" stroke="#E8424C" stroke-width="1" fill="none"/>
<path d="M543.10,915.18 L546.01,910.01 L540.19,910.01Z" fill="#E8424C"/>
<path d="M554.44,867.97 L557.36,862.80 L551.53,862.80Z" fill="#E8424C"/>
<path d="M565.78,841.10 L568.70,835.93 L562.87,835.93Z" fill="#E8424C"/>
<path d="M588.47,813.57 L591.38,808.40 L585.55,808.40Z" fill="#E8424C"/>
<path d="M611.15,795.48 L614.07,790.31 L608.24,790.31Z" fill="#E8424C"/>
<path d="M645.18,790.96 L648.09,785.79 L642.26,785.79Z" fill="#E8424C"/>
<path d="M679.20,788.43 L682.12,783.27 L676.29,783.27Z" fill="#E8424C"/>
<polyline points="543.10,912.40 554.44,876.76 565.78,868.51 588.47,840.31 611.15,819.96 645.18,801.48 679.20,793.23" stroke="#7D3D95" stroke-width="1" fill="none"/>
<path d="M554.44,880.75V872.77M552.34,880.75H556.54M552.34,872.77H556.54" stroke="#7D3D95" stroke-width="0.9" fill="none"/>
<path d="M543.10,909.62 L546.01,914.78 L540.19,914.78Z" fill="#7D3D95"/>
<path d="M554.44,873.97 L557.36,879.14 L551.53,879.14Z" fill="#7D3D95"/>
<path d="M565.78,865.73 L568.70,870.89 L562.87,870.89Z" fill="#7D3D95"/>
<path d="M588.47,837.53 L591.38,842.70 L585.55,842.70Z" fill="#7D3D95"/>
<path d="M611.15,817.18 L614.07,822.35 L608.24,822.35Z" fill="#7D3D95"/>
<path d="M645.18,798.70 L648.09,803.86 L642.26,803.86Z" fill="#7D3D95"/>
<path d="M679.20,790.45 L682.12,795.62 L676.29,795.62Z" fill="#7D3D95"/>
<polyline points="543.10,912.40 554.44,878.49 565.78,858.40 588.47,827.01 611.15,798.95 645.18,790.17 679.20,790.17" stroke="#45AA45" stroke-width="1" fill="none"/>
<path d="M554.44,889.12V867.85M552.34,889.12H556.54M552.34,867.85H556.54" stroke="#45AA45" stroke-width="0.9" fill="none"/>
<path d="M565.78,870.37V846.43M563.68,870.37H567.88M563.68,846.43H567.88" stroke="#45AA45" stroke-width="0.9" fill="none"/>
<path d="M588.47,832.33V821.69M586.37,832.33H590.57M586.37,821.69H590.57" stroke="#45AA45" stroke-width="0.9" fill="none"/>
<path d="M645.18,796.82V783.52M643.08,796.82H647.28M643.08,783.52H647.28" stroke="#45AA45" stroke-width="0.9" fill="none"/>
<rect x="540.45" y="909.75" width="5.30" height="5.30" fill="#45AA45"/>
<rect x="551.79" y="875.84" width="5.30" height="5.30" fill="#45AA45"/>
<rect x="563.13" y="855.75" width="5.30" height="5.30" fill="#45AA45"/>
<rect x="585.82" y="824.36" width="5.30" height="5.30" fill="#45AA45"/>
<rect x="608.50" y="796.30" width="5.30" height="5.30" fill="#45AA45"/>
<rect x="642.53" y="787.52" width="5.30" height="5.30" fill="#45AA45"/>
<rect x="676.55" y="787.52" width="5.30" height="5.30" fill="#45AA45"/>
<polyline points="543.10,912.40 554.44,885.53 565.78,859.73 588.47,825.02 611.15,810.79 645.18,797.75 679.20,790.97" stroke="#F07D35" stroke-width="1" fill="none"/>
<path d="M554.44,892.18V878.88M552.34,892.18H556.54M552.34,878.88H556.54" stroke="#F07D35" stroke-width="0.9" fill="none"/>
<path d="M565.78,866.38V853.08M563.68,866.38H567.88M563.68,853.08H567.88" stroke="#F07D35" stroke-width="0.9" fill="none"/>
<path d="M588.47,830.34V819.70M586.37,830.34H590.57M586.37,819.70H590.57" stroke="#F07D35" stroke-width="0.9" fill="none"/>
<path d="M611.15,814.78V806.80M609.05,814.78H613.25M609.05,806.80H613.25" stroke="#F07D35" stroke-width="0.9" fill="none"/>
<circle cx="543.10" cy="912.40" r="2.65" fill="#F07D35"/>
<circle cx="554.44" cy="885.53" r="2.65" fill="#F07D35"/>
<circle cx="565.78" cy="859.73" r="2.65" fill="#F07D35"/>
<circle cx="588.47" cy="825.02" r="2.65" fill="#F07D35"/>
<circle cx="611.15" cy="810.79" r="2.65" fill="#F07D35"/>
<circle cx="645.18" cy="797.75" r="2.65" fill="#F07D35"/>
<circle cx="679.20" cy="790.97" r="2.65" fill="#F07D35"/>
</svg></body></html>
